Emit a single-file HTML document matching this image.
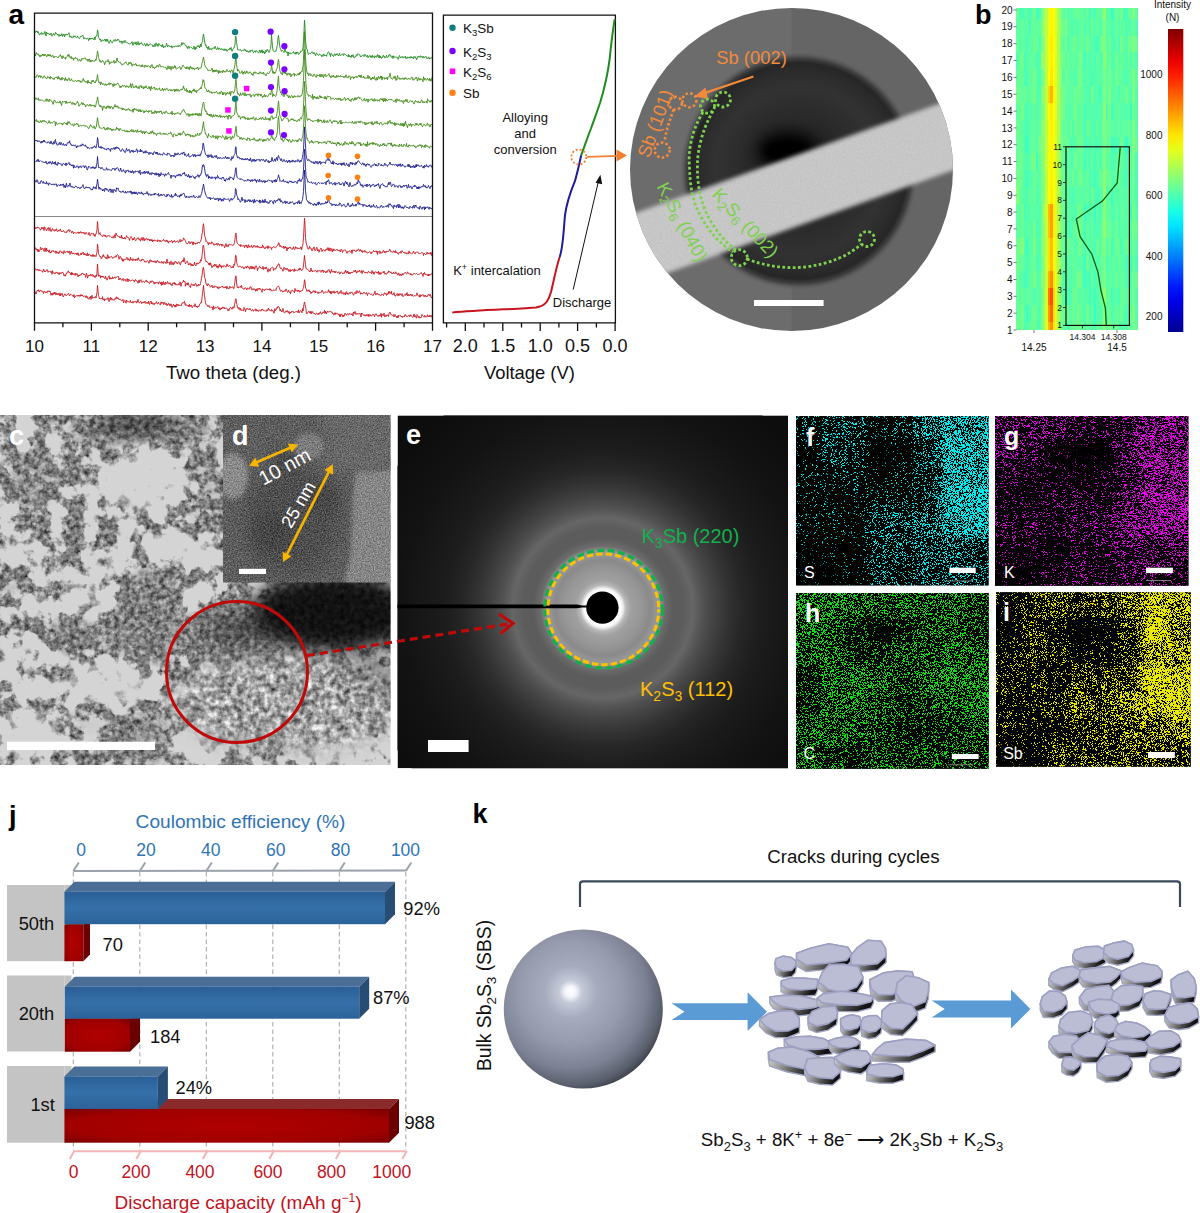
<!DOCTYPE html>
<html><head><meta charset="utf-8"><style>
html,body{margin:0;padding:0;background:#fff;}
body{width:1200px;height:1213px;overflow:hidden;}
svg{display:block;font-family:"Liberation Sans", sans-serif;}
</style></head><body>
<svg width="1200" height="1213" viewBox="0 0 1200 1213">
<defs><clipPath id="cc"><circle cx="791.5" cy="169.5" r="161.5"/></clipPath>
<radialGradient id="darkdisk" cx="799" cy="171" r="120" gradientUnits="userSpaceOnUse"><stop offset="0" stop-color="#141414"/><stop offset="0.4" stop-color="#282828"/><stop offset="0.7" stop-color="#323232"/><stop offset="0.82" stop-color="#2c2c2c"/><stop offset="0.9" stop-color="#262626"/><stop offset="0.94" stop-color="#404040"/><stop offset="1" stop-color="#6a6a6a" stop-opacity="0"/></radialGradient>
<filter id="blur3" x="-50%" y="-50%" width="200%" height="200%" color-interpolation-filters="sRGB"><feGaussianBlur stdDeviation="3"/></filter>
<filter id="blur8" x="-50%" y="-50%" width="200%" height="200%" color-interpolation-filters="sRGB"><feGaussianBlur stdDeviation="8"/></filter>
<filter id="blur2" x="-50%" y="-50%" width="200%" height="200%" color-interpolation-filters="sRGB"><feGaussianBlur stdDeviation="2"/></filter>
<filter id="grain" x="0" y="0" width="100%" height="100%" color-interpolation-filters="sRGB"><feTurbulence type="fractalNoise" baseFrequency="0.9" numOctaves="1" seed="3"/><feColorMatrix type="matrix" values="0 0 0 0 0.5  0 0 0 0 0.5  0 0 0 0 0.5  0.9 0 0 0 -0.35"/><feComposite in2="SourceGraphic" operator="in"/></filter>
<linearGradient id="jetg" x1="0" y1="1" x2="0" y2="0"><stop offset="0.000" stop-color="#00008f"/><stop offset="0.050" stop-color="#0000bc"/><stop offset="0.100" stop-color="#0000e9"/><stop offset="0.150" stop-color="#0019ff"/><stop offset="0.200" stop-color="#004dff"/><stop offset="0.250" stop-color="#0080ff"/><stop offset="0.300" stop-color="#00b2ff"/><stop offset="0.350" stop-color="#00e5ff"/><stop offset="0.400" stop-color="#1affe5"/><stop offset="0.450" stop-color="#4dffb2"/><stop offset="0.500" stop-color="#80ff80"/><stop offset="0.550" stop-color="#b3ff4c"/><stop offset="0.600" stop-color="#e5ff1a"/><stop offset="0.650" stop-color="#ffe500"/><stop offset="0.700" stop-color="#ffb300"/><stop offset="0.750" stop-color="#ff8000"/><stop offset="0.800" stop-color="#ff4c00"/><stop offset="0.850" stop-color="#ff1a00"/><stop offset="0.900" stop-color="#e50000"/><stop offset="0.950" stop-color="#b30000"/><stop offset="1.000" stop-color="#800000"/></linearGradient>
<clipPath id="clipC"><rect x="0" y="415" width="390.5" height="350"/></clipPath>
<clipPath id="clipD"><rect x="223" y="415" width="167.5" height="167.5"/></clipPath>
<clipPath id="clipE"><rect x="397.5" y="415.4" width="390.5" height="352.9"/></clipPath>
<filter id="texC" x="0" y="0" width="100%" height="100%" color-interpolation-filters="sRGB"><feGaussianBlur in="SourceGraphic" stdDeviation="7" result="b"/><feTurbulence type="fractalNoise" baseFrequency="0.055" numOctaves="5" seed="3" result="n1"/><feColorMatrix in="n1" type="matrix" values="1 0 0 0 0  1 0 0 0 0  1 0 0 0 0  0 0 0 0 1" result="n1g"/><feComponentTransfer in="n1g" result="m"><feFuncR type="linear" slope="3.5" intercept="-1.25"/><feFuncG type="linear" slope="3.5" intercept="-1.25"/><feFuncB type="linear" slope="3.5" intercept="-1.25"/></feComponentTransfer><feComposite in="b" in2="m" operator="arithmetic" k1="0" k2="1" k3="0.42" k4="-0.21" result="t"/><feTurbulence type="fractalNoise" baseFrequency="0.6" numOctaves="2" seed="8" result="n2"/><feColorMatrix in="n2" type="matrix" values="1 0 0 0 0  1 0 0 0 0  1 0 0 0 0  0 0 0 0 1" result="g"/><feComposite in="t" in2="g" operator="arithmetic" k1="0" k2="1" k3="0.3" k4="-0.15"/></filter>
<filter id="texD" x="0" y="0" width="100%" height="100%" color-interpolation-filters="sRGB"><feGaussianBlur in="SourceGraphic" stdDeviation="0.5" edgeMode="duplicate" result="b"/><feTurbulence type="fractalNoise" baseFrequency="0.75" numOctaves="2" seed="9" result="n"/><feColorMatrix in="n" type="matrix" values="1 0 0 0 0  1 0 0 0 0  1 0 0 0 0  0 0 0 0 1" result="ng"/><feComposite in="b" in2="ng" operator="arithmetic" k1="0" k2="1" k3="0.5" k4="-0.25"/></filter>
<filter id="texC3" x="0" y="0" width="100%" height="100%" color-interpolation-filters="sRGB"><feGaussianBlur in="SourceGraphic" stdDeviation="3" result="d"/><feTurbulence type="fractalNoise" baseFrequency="0.06" numOctaves="4" seed="3" result="n1"/><feColorMatrix in="n1" type="matrix" values="1 0 0 0 0  1 0 0 0 0  1 0 0 0 0  0 0 0 0 1" result="n1g"/><feComponentTransfer in="n1g" result="u"><feFuncR type="table" tableValues="0.1923 0.1924 0.1927 0.1941 0.1985 0.2109 0.2401 0.2980 0.3946 0.5308 0.6923 0.8538 0.9900 1.0000 1.0000 1.0000 1.0000 1.0000 1.0000 1.0000 1.0000"/><feFuncG type="table" tableValues="0.1923 0.1924 0.1927 0.1941 0.1985 0.2109 0.2401 0.2980 0.3946 0.5308 0.6923 0.8538 0.9900 1.0000 1.0000 1.0000 1.0000 1.0000 1.0000 1.0000 1.0000"/><feFuncB type="table" tableValues="0.1923 0.1924 0.1927 0.1941 0.1985 0.2109 0.2401 0.2980 0.3946 0.5308 0.6923 0.8538 0.9900 1.0000 1.0000 1.0000 1.0000 1.0000 1.0000 1.0000 1.0000"/></feComponentTransfer><feComposite in="d" in2="u" operator="arithmetic" k1="0" k2="2.6" k3="-2.6" k4="1" result="m"/><feColorMatrix in="m" type="matrix" values="-0.35 0 0 0 0.83  -0.35 0 0 0 0.83  -0.35 0 0 0 0.83  0 0 0 0 1" result="t"/><feTurbulence type="fractalNoise" baseFrequency="0.2" numOctaves="3" seed="8" result="n2"/><feColorMatrix in="n2" type="matrix" values="0.85 0 0 0 0.07500000000000001  0.85 0 0 0 0.07500000000000001  0.85 0 0 0 0.07500000000000001  0 0 0 0 1" result="g"/><feComposite in="m" in2="g" operator="arithmetic" k1="1" k2="-0.5" k3="0" k4="0.5" result="r"/><feComposite in="t" in2="r" operator="arithmetic" k1="0" k2="1" k3="1" k4="-0.5"/></filter>
<filter id="sb6" x="-30%" y="-30%" width="160%" height="160%" color-interpolation-filters="sRGB"><feGaussianBlur stdDeviation="6"/></filter>
<filter id="sb10" x="-30%" y="-30%" width="160%" height="160%" color-interpolation-filters="sRGB"><feGaussianBlur stdDeviation="10"/></filter>
<filter id="mottle" x="0" y="0" width="100%" height="100%" color-interpolation-filters="sRGB"><feTurbulence type="fractalNoise" baseFrequency="0.16" numOctaves="3" seed="17"/><feColorMatrix type="matrix" values="1.3 0 0 0 -0.03  1.3 0 0 0 -0.03  1.3 0 0 0 -0.03  0 0 0 0 1"/></filter>
<mask id="mottleMask" maskUnits="userSpaceOnUse" x="0" y="415" width="391" height="350"><ellipse cx="290" cy="702" rx="112" ry="46" fill="#fff" filter="url(#sb10)"/></mask>
<filter id="sb2" x="-30%" y="-30%" width="160%" height="160%" color-interpolation-filters="sRGB"><feGaussianBlur stdDeviation="2"/></filter>
<radialGradient id="halo" cx="603" cy="608" r="250" gradientUnits="userSpaceOnUse"><stop offset="0.0000" stop-color="#ffffff"/><stop offset="0.0680" stop-color="#ffffff"/><stop offset="0.0780" stop-color="#f4f4f4"/><stop offset="0.0920" stop-color="#b8b8b8"/><stop offset="0.1120" stop-color="#a0a0a0"/><stop offset="0.1600" stop-color="#959595"/><stop offset="0.1920" stop-color="#8a8a8a"/><stop offset="0.2120" stop-color="#959595"/><stop offset="0.2280" stop-color="#989898"/><stop offset="0.2480" stop-color="#6c6c6c"/><stop offset="0.2800" stop-color="#5c5c5c"/><stop offset="0.3200" stop-color="#5c5c5c"/><stop offset="0.3600" stop-color="#666666"/><stop offset="0.4000" stop-color="#525252"/><stop offset="0.4400" stop-color="#444444"/><stop offset="0.5000" stop-color="#333333"/><stop offset="0.5600" stop-color="#262626"/><stop offset="0.6400" stop-color="#1c1c1c"/><stop offset="0.8000" stop-color="#131313"/><stop offset="1.0000" stop-color="#0d0d0d"/></radialGradient>
<filter id="spclipF" x="0" y="0" width="100%" height="100%" color-interpolation-filters="sRGB"><feGaussianBlur in="SourceGraphic" stdDeviation="4.5" edgeMode="duplicate" result="d"/><feTurbulence type="fractalNoise" baseFrequency="1.9" numOctaves="2" seed="1" result="n"/><feColorMatrix in="n" type="matrix" values="1 0 0 0 0  1 0 0 0 0  1 0 0 0 0  0 0 0 0 1" result="ng"/><feComponentTransfer in="ng" result="u"><feFuncR type="table" tableValues="0.0357 0.0357 0.0359 0.0364 0.0389 0.0472 0.0702 0.1221 0.2174 0.3604 0.5357 0.7110 0.8541 0.9494 1.0012 1.0242 1.0325 1.0350 1.0356 1.0357 1.0357"/><feFuncG type="table" tableValues="0.0357 0.0357 0.0359 0.0364 0.0389 0.0472 0.0702 0.1221 0.2174 0.3604 0.5357 0.7110 0.8541 0.9494 1.0012 1.0242 1.0325 1.0350 1.0356 1.0357 1.0357"/><feFuncB type="table" tableValues="0.0357 0.0357 0.0359 0.0364 0.0389 0.0472 0.0702 0.1221 0.2174 0.3604 0.5357 0.7110 0.8541 0.9494 1.0012 1.0242 1.0325 1.0350 1.0356 1.0357 1.0357"/></feComponentTransfer><feComposite in="d" in2="u" operator="arithmetic" k1="0" k2="14" k3="-14" k4="1" result="m"/><feColorMatrix in="m" type="matrix" values="0.000 0 0 0 0  0 0.922 0 0 0  0 0 0.922 0 0  0 0 0 0 1"/></filter>
<clipPath id="clipF"><rect x="796.0" y="416.0" width="192.6" height="169.4"/></clipPath>
<filter id="spclipG" x="0" y="0" width="100%" height="100%" color-interpolation-filters="sRGB"><feGaussianBlur in="SourceGraphic" stdDeviation="4.5" edgeMode="duplicate" result="d"/><feTurbulence type="fractalNoise" baseFrequency="1.9" numOctaves="2" seed="2" result="n"/><feColorMatrix in="n" type="matrix" values="1 0 0 0 0  1 0 0 0 0  1 0 0 0 0  0 0 0 0 1" result="ng"/><feComponentTransfer in="ng" result="u"><feFuncR type="table" tableValues="0.0357 0.0357 0.0359 0.0364 0.0389 0.0472 0.0702 0.1221 0.2174 0.3604 0.5357 0.7110 0.8541 0.9494 1.0012 1.0242 1.0325 1.0350 1.0356 1.0357 1.0357"/><feFuncG type="table" tableValues="0.0357 0.0357 0.0359 0.0364 0.0389 0.0472 0.0702 0.1221 0.2174 0.3604 0.5357 0.7110 0.8541 0.9494 1.0012 1.0242 1.0325 1.0350 1.0356 1.0357 1.0357"/><feFuncB type="table" tableValues="0.0357 0.0357 0.0359 0.0364 0.0389 0.0472 0.0702 0.1221 0.2174 0.3604 0.5357 0.7110 0.8541 0.9494 1.0012 1.0242 1.0325 1.0350 1.0356 1.0357 1.0357"/></feComponentTransfer><feComposite in="d" in2="u" operator="arithmetic" k1="0" k2="14" k3="-14" k4="1" result="m"/><feColorMatrix in="m" type="matrix" values="0.922 0 0 0 0  0 0.000 0 0 0  0 0 0.922 0 0  0 0 0 0 1"/></filter>
<clipPath id="clipG"><rect x="995.0" y="416.0" width="193.5" height="169.8"/></clipPath>
<filter id="spclipH" x="0" y="0" width="100%" height="100%" color-interpolation-filters="sRGB"><feGaussianBlur in="SourceGraphic" stdDeviation="4.5" edgeMode="duplicate" result="d"/><feTurbulence type="fractalNoise" baseFrequency="1.9" numOctaves="2" seed="3" result="n"/><feColorMatrix in="n" type="matrix" values="1 0 0 0 0  1 0 0 0 0  1 0 0 0 0  0 0 0 0 1" result="ng"/><feComponentTransfer in="ng" result="u"><feFuncR type="table" tableValues="0.0357 0.0357 0.0359 0.0364 0.0389 0.0472 0.0702 0.1221 0.2174 0.3604 0.5357 0.7110 0.8541 0.9494 1.0012 1.0242 1.0325 1.0350 1.0356 1.0357 1.0357"/><feFuncG type="table" tableValues="0.0357 0.0357 0.0359 0.0364 0.0389 0.0472 0.0702 0.1221 0.2174 0.3604 0.5357 0.7110 0.8541 0.9494 1.0012 1.0242 1.0325 1.0350 1.0356 1.0357 1.0357"/><feFuncB type="table" tableValues="0.0357 0.0357 0.0359 0.0364 0.0389 0.0472 0.0702 0.1221 0.2174 0.3604 0.5357 0.7110 0.8541 0.9494 1.0012 1.0242 1.0325 1.0350 1.0356 1.0357 1.0357"/></feComponentTransfer><feComposite in="d" in2="u" operator="arithmetic" k1="0" k2="14" k3="-14" k4="1" result="m"/><feColorMatrix in="m" type="matrix" values="0.078 0 0 0 0  0 0.863 0 0 0  0 0 0.078 0 0  0 0 0 0 1"/></filter>
<clipPath id="clipH"><rect x="796.0" y="593.0" width="192.7" height="175.7"/></clipPath>
<filter id="spclipI" x="0" y="0" width="100%" height="100%" color-interpolation-filters="sRGB"><feGaussianBlur in="SourceGraphic" stdDeviation="4.5" edgeMode="duplicate" result="d"/><feTurbulence type="fractalNoise" baseFrequency="1.9" numOctaves="2" seed="4" result="n"/><feColorMatrix in="n" type="matrix" values="1 0 0 0 0  1 0 0 0 0  1 0 0 0 0  0 0 0 0 1" result="ng"/><feComponentTransfer in="ng" result="u"><feFuncR type="table" tableValues="0.0357 0.0357 0.0359 0.0364 0.0389 0.0472 0.0702 0.1221 0.2174 0.3604 0.5357 0.7110 0.8541 0.9494 1.0012 1.0242 1.0325 1.0350 1.0356 1.0357 1.0357"/><feFuncG type="table" tableValues="0.0357 0.0357 0.0359 0.0364 0.0389 0.0472 0.0702 0.1221 0.2174 0.3604 0.5357 0.7110 0.8541 0.9494 1.0012 1.0242 1.0325 1.0350 1.0356 1.0357 1.0357"/><feFuncB type="table" tableValues="0.0357 0.0357 0.0359 0.0364 0.0389 0.0472 0.0702 0.1221 0.2174 0.3604 0.5357 0.7110 0.8541 0.9494 1.0012 1.0242 1.0325 1.0350 1.0356 1.0357 1.0357"/></feComponentTransfer><feComposite in="d" in2="u" operator="arithmetic" k1="0" k2="14" k3="-14" k4="1" result="m"/><feColorMatrix in="m" type="matrix" values="0.922 0 0 0 0  0 0.922 0 0 0  0 0 0.000 0 0  0 0 0 0 1"/></filter>
<clipPath id="clipI"><rect x="996.0" y="592.2" width="194.7" height="174.5"/></clipPath>
<linearGradient id="bfront" x1="0" y1="0" x2="0" y2="1"><stop offset="0" stop-color="#2a5f96"/><stop offset="0.5" stop-color="#3670a9"/><stop offset="1" stop-color="#2c6299"/></linearGradient>
<radialGradient id="rfront" cx="0.5" cy="0.5" r="0.7"><stop offset="0" stop-color="#b00000"/><stop offset="0.7" stop-color="#a00000"/><stop offset="1" stop-color="#7a0000"/></radialGradient>
<radialGradient id="sph" cx="0.42" cy="0.40" r="0.66" fx="0.42" fy="0.39"><stop offset="0" stop-color="#ffffff"/><stop offset="0.05" stop-color="#f4f6fa"/><stop offset="0.11" stop-color="#c4c9d8"/><stop offset="0.25" stop-color="#a6acbe"/><stop offset="0.5" stop-color="#959bad"/><stop offset="0.72" stop-color="#7c8294"/><stop offset="0.88" stop-color="#5a5f6d"/><stop offset="1" stop-color="#2e3139"/></radialGradient>
<linearGradient id="fside" x1="0" y1="0" x2="1" y2="0.3"><stop offset="0" stop-color="#e0e0e0"/><stop offset="0.35" stop-color="#a0a0a0"/><stop offset="0.7" stop-color="#4a4a4a"/><stop offset="1" stop-color="#111"/></linearGradient></defs>
<rect width="1200" height="1213" fill="#fff"/>
<g>
<path d="M34.5,32.8 35.0,33.1 35.5,32.6 36.0,30.8 36.5,32.0 37.0,31.3 37.5,32.7 38.0,31.4 38.5,33.4 39.0,33.4 39.5,35.1 40.0,33.9 40.5,33.9 41.0,32.8 41.5,32.4 42.0,34.6 42.5,33.6 43.0,33.9 43.5,33.7 44.0,34.3 44.5,31.8 45.0,31.4 45.5,33.9 46.0,36.1 46.5,32.0 47.0,32.8 47.5,33.9 48.0,33.4 48.5,33.6 49.0,33.5 49.5,35.0 50.0,34.3 50.5,34.4 51.0,33.0 51.5,34.8 52.0,36.3 52.5,35.4 53.0,34.3 53.5,33.2 54.0,34.9 54.5,35.2 55.0,34.5 55.5,32.3 56.0,33.6 56.5,33.5 57.0,33.8 57.5,35.1 58.0,34.0 58.5,34.7 59.0,36.5 59.5,34.6 60.0,35.1 60.5,36.0 61.0,34.8 61.5,33.7 62.0,35.5 62.5,36.4 63.0,33.9 63.5,35.0 64.0,35.0 64.5,36.9 65.0,34.2 65.5,35.2 66.0,34.0 66.5,34.3 67.0,35.2 67.5,34.7 68.0,34.4 68.5,33.5 69.0,32.7 69.5,35.8 70.0,37.3 70.5,36.2 71.0,35.8 71.5,37.7 72.0,37.2 72.5,37.0 73.0,37.7 73.5,36.0 74.0,35.8 74.5,36.8 75.0,35.8 75.5,36.9 76.0,37.3 76.5,37.8 77.0,37.8 77.5,35.9 78.0,36.9 78.5,37.6 79.0,38.5 79.5,38.6 80.0,37.3 80.5,37.1 81.0,36.0 81.5,36.4 82.0,35.9 82.5,35.0 83.0,35.9 83.5,37.8 84.0,39.1 84.5,38.2 85.0,37.8 85.5,38.3 86.0,39.0 86.5,38.9 87.0,38.8 87.5,38.2 88.0,38.1 88.5,40.7 89.0,40.0 89.5,37.9 90.0,39.4 90.5,38.0 91.0,38.9 91.5,38.3 92.0,39.0 92.5,38.3 93.0,38.5 93.5,39.4 94.0,39.6 94.5,37.1 95.0,39.8 95.5,36.5 96.0,36.3 96.5,36.4 97.0,35.0 97.5,29.9 98.0,32.0 98.5,37.5 99.0,38.3 99.5,38.8 100.0,40.1 100.5,38.9 101.0,41.8 101.5,41.4 102.0,40.1 102.5,40.0 103.0,40.2 103.5,40.9 104.0,40.7 104.5,39.5 105.0,39.1 105.5,41.3 106.0,39.1 106.5,39.4 107.0,41.6 107.5,39.2 108.0,41.0 108.5,41.8 109.0,43.4 109.5,42.5 110.0,41.3 110.5,39.8 111.0,42.1 111.5,42.4 112.0,42.8 112.5,42.8 113.0,41.2 113.5,40.6 114.0,39.6 114.5,40.9 115.0,41.4 115.5,39.6 116.0,39.9 116.5,40.3 117.0,40.9 117.5,39.0 118.0,39.7 118.5,39.5 119.0,39.8 119.5,41.9 120.0,42.5 120.5,41.3 121.0,41.4 121.5,41.1 122.0,43.7 122.5,41.6 123.0,41.6 123.5,41.2 124.0,42.7 124.5,41.8 125.0,40.3 125.5,42.3 126.0,42.5 126.5,42.3 127.0,42.5 127.5,42.8 128.0,43.0 128.5,43.9 129.0,43.6 129.5,43.9 130.0,43.7 130.5,43.5 131.0,42.9 131.5,43.0 132.0,41.7 132.5,44.0 133.0,45.4 133.5,43.4 134.0,42.2 134.5,43.4 135.0,43.0 135.5,44.2 136.0,41.8 136.5,44.8 137.0,45.1 137.5,44.2 138.0,41.5 138.5,42.9 139.0,45.1 139.5,44.1 140.0,42.8 140.5,43.8 141.0,43.8 141.5,42.6 142.0,43.6 142.5,44.9 143.0,45.1 143.5,45.3 144.0,44.6 144.5,43.5 145.0,44.0 145.5,46.2 146.0,45.2 146.5,45.2 147.0,43.4 147.5,45.4 148.0,44.8 148.5,46.1 149.0,44.3 149.5,44.4 150.0,44.3 150.5,43.9 151.0,44.2 151.5,44.8 152.0,44.7 152.5,45.1 153.0,46.9 153.5,45.8 154.0,45.6 154.5,44.3 155.0,46.8 155.5,44.5 156.0,42.8 156.5,44.9 157.0,45.5 157.5,44.3 158.0,46.5 158.5,43.7 159.0,43.5 159.5,44.9 160.0,44.9 160.5,45.1 161.0,46.0 161.5,45.4 162.0,47.0 162.5,44.2 163.0,46.0 163.5,47.9 164.0,46.2 164.5,46.6 165.0,47.3 165.5,46.2 166.0,45.6 166.5,43.2 167.0,44.8 167.5,46.9 168.0,46.2 168.5,45.2 169.0,46.3 169.5,46.3 170.0,46.7 170.5,46.2 171.0,46.9 171.5,45.7 172.0,48.2 172.5,47.3 173.0,46.2 173.5,47.1 174.0,46.6 174.5,46.8 175.0,46.0 175.5,46.1 176.0,46.0 176.5,46.1 177.0,46.9 177.5,45.9 178.0,45.8 178.5,46.6 179.0,45.3 179.5,46.1 180.0,46.4 180.5,46.4 181.0,45.8 181.5,42.7 182.0,44.8 182.5,44.6 183.0,42.6 183.5,43.7 184.0,43.5 184.5,43.5 185.0,44.7 185.5,45.8 186.0,45.6 186.5,45.8 187.0,47.3 187.5,48.5 188.0,46.5 188.5,46.2 189.0,48.5 189.5,46.9 190.0,46.8 190.5,46.9 191.0,47.4 191.5,47.5 192.0,47.9 192.5,48.8 193.0,48.4 193.5,48.6 194.0,46.1 194.5,47.8 195.0,50.0 195.5,47.2 196.0,48.9 196.5,46.8 197.0,46.8 197.5,46.6 198.0,45.3 198.5,46.6 199.0,45.9 199.5,47.8 200.0,45.5 200.5,44.0 201.0,47.0 201.5,44.1 202.0,42.4 202.5,41.8 203.0,36.2 203.5,34.0 204.0,37.4 204.5,41.0 205.0,43.1 205.5,45.5 206.0,44.8 206.5,47.7 207.0,47.2 207.5,47.3 208.0,49.5 208.5,46.4 209.0,47.3 209.5,49.7 210.0,49.1 210.5,49.2 211.0,48.4 211.5,49.6 212.0,49.5 212.5,48.1 213.0,47.6 213.5,47.9 214.0,48.7 214.5,48.3 215.0,46.1 215.5,47.7 216.0,48.9 216.5,49.8 217.0,49.2 217.5,47.5 218.0,48.3 218.5,49.6 219.0,47.8 219.5,48.7 220.0,48.4 220.5,49.4 221.0,49.5 221.5,48.6 222.0,50.0 222.5,49.5 223.0,48.8 223.5,49.9 224.0,50.8 224.5,49.1 225.0,48.7 225.5,50.4 226.0,49.1 226.5,50.1 227.0,51.3 227.5,49.9 228.0,50.0 228.5,49.5 229.0,50.1 229.5,48.6 230.0,48.0 230.5,49.3 231.0,47.3 231.5,50.6 232.0,51.3 232.5,49.9 233.0,48.7 233.5,48.3 234.0,48.2 234.5,46.3 235.0,44.3 235.5,36.0 236.0,36.6 236.5,42.5 237.0,45.1 237.5,49.1 238.0,50.2 238.5,49.8 239.0,49.7 239.5,50.1 240.0,50.1 240.5,49.5 241.0,50.8 241.5,51.0 242.0,50.8 242.5,50.3 243.0,50.0 243.5,50.1 244.0,50.7 244.5,49.1 245.0,49.1 245.5,50.7 246.0,50.0 246.5,51.8 247.0,50.9 247.5,50.9 248.0,52.1 248.5,52.3 249.0,51.2 249.5,50.9 250.0,52.4 250.5,50.3 251.0,49.9 251.5,50.7 252.0,49.8 252.5,50.2 253.0,51.8 253.5,52.6 254.0,51.5 254.5,51.5 255.0,50.6 255.5,52.4 256.0,51.7 256.5,50.6 257.0,51.3 257.5,51.7 258.0,52.2 258.5,53.2 259.0,52.4 259.5,50.0 260.0,51.1 260.5,52.7 261.0,50.6 261.5,52.2 262.0,49.8 262.5,53.1 263.0,51.1 263.5,52.4 264.0,51.4 264.5,53.9 265.0,52.1 265.5,52.6 266.0,50.1 266.5,51.5 267.0,50.4 267.5,49.2 268.0,51.0 268.5,51.0 269.0,52.6 269.5,51.7 270.0,49.8 270.5,48.6 271.0,44.3 271.5,34.5 272.0,40.6 272.5,46.9 273.0,50.1 273.5,51.1 274.0,51.8 274.5,51.6 275.0,51.6 275.5,51.3 276.0,51.4 276.5,48.7 277.0,46.6 277.5,44.4 278.0,37.9 278.5,35.4 279.0,39.7 279.5,44.0 280.0,47.5 280.5,48.8 281.0,50.1 281.5,51.5 282.0,50.2 282.5,50.5 283.0,51.2 283.5,51.5 284.0,52.5 284.5,50.9 285.0,48.3 285.5,51.3 286.0,51.3 286.5,52.9 287.0,52.4 287.5,52.0 288.0,56.0 288.5,52.1 289.0,53.4 289.5,53.3 290.0,52.7 290.5,53.8 291.0,53.9 291.5,53.3 292.0,53.5 292.5,52.9 293.0,51.9 293.5,51.6 294.0,53.3 294.5,52.9 295.0,54.1 295.5,52.6 296.0,54.3 296.5,52.1 297.0,53.3 297.5,51.9 298.0,52.5 298.5,54.6 299.0,53.7 299.5,53.3 300.0,52.5 300.5,52.4 301.0,50.8 301.5,51.4 302.0,50.6 302.5,50.6 303.0,47.3 303.5,41.3 304.0,31.1 304.5,20.2 305.0,27.1 305.5,40.8 306.0,44.9 306.5,48.5 307.0,48.7 307.5,51.0 308.0,53.5 308.5,54.5 309.0,53.5 309.5,53.4 310.0,53.7 310.5,53.6 311.0,53.3 311.5,52.1 312.0,51.6 312.5,52.3 313.0,53.4 313.5,54.0 314.0,52.4 314.5,53.5 315.0,54.0 315.5,55.8 316.0,54.3 316.5,52.8 317.0,54.3 317.5,54.3 318.0,55.1 318.5,55.4 319.0,54.8 319.5,54.0 320.0,54.2 320.5,54.8 321.0,55.4 321.5,56.5 322.0,54.8 322.5,55.7 323.0,56.6 323.5,54.1 324.0,54.1 324.5,55.8 325.0,55.3 325.5,55.5 326.0,54.9 326.5,56.3 327.0,54.4 327.5,53.6 328.0,52.2 328.5,51.9 329.0,52.3 329.5,54.2 330.0,54.0 330.5,56.7 331.0,53.3 331.5,53.8 332.0,54.2 332.5,55.7 333.0,55.3 333.5,56.5 334.0,55.6 334.5,53.8 335.0,54.0 335.5,55.5 336.0,54.5 336.5,55.0 337.0,53.5 337.5,54.6 338.0,55.0 338.5,56.0 339.0,54.4 339.5,53.2 340.0,55.4 340.5,55.5 341.0,55.5 341.5,54.6 342.0,53.9 342.5,53.9 343.0,54.9 343.5,55.6 344.0,53.6 344.5,54.2 345.0,54.0 345.5,54.7 346.0,55.3 346.5,55.6 347.0,55.3 347.5,56.1 348.0,56.8 348.5,54.4 349.0,57.0 349.5,55.5 350.0,56.7 350.5,56.5 351.0,57.6 351.5,54.9 352.0,56.8 352.5,55.8 353.0,54.6 353.5,57.5 354.0,57.7 354.5,57.8 355.0,56.4 355.5,56.4 356.0,56.6 356.5,54.7 357.0,55.6 357.5,53.9 358.0,53.7 358.5,54.2 359.0,54.3 359.5,54.5 360.0,55.8 360.5,56.9 361.0,55.7 361.5,56.5 362.0,56.0 362.5,55.5 363.0,54.8 363.5,55.6 364.0,56.6 364.5,54.5 365.0,54.6 365.5,54.7 366.0,56.0 366.5,56.9 367.0,56.1 367.5,55.0 368.0,57.7 368.5,56.7 369.0,56.5 369.5,55.7 370.0,55.3 370.5,57.3 371.0,55.8 371.5,56.0 372.0,57.8 372.5,55.3 373.0,56.7 373.5,56.6 374.0,56.8 374.5,58.1 375.0,55.7 375.5,56.7 376.0,56.9 376.5,57.3 377.0,55.3 377.5,54.5 378.0,56.9 378.5,57.4 379.0,55.0 379.5,57.9 380.0,55.9 380.5,58.0 381.0,56.9 381.5,58.5 382.0,58.1 382.5,57.5 383.0,55.6 383.5,55.1 384.0,57.1 384.5,56.3 385.0,58.1 385.5,57.2 386.0,56.7 386.5,55.3 387.0,57.6 387.5,57.2 388.0,57.4 388.5,56.9 389.0,54.7 389.5,54.6 390.0,55.5 390.5,54.8 391.0,57.0 391.5,57.4 392.0,56.8 392.5,55.9 393.0,58.6 393.5,55.8 394.0,56.9 394.5,57.3 395.0,56.7 395.5,57.3 396.0,57.6 396.5,57.3 397.0,57.5 397.5,57.4 398.0,59.4 398.5,58.7 399.0,56.5 399.5,55.5 400.0,56.8 400.5,58.0 401.0,57.1 401.5,57.2 402.0,56.8 402.5,56.3 403.0,58.0 403.5,57.0 404.0,56.8 404.5,56.8 405.0,57.6 405.5,56.3 406.0,58.6 406.5,57.7 407.0,58.4 407.5,57.1 408.0,57.0 408.5,58.1 409.0,57.0 409.5,57.1 410.0,58.3 410.5,56.6 411.0,57.7 411.5,56.7 412.0,58.0 412.5,57.8 413.0,58.0 413.5,58.9 414.0,56.4 414.5,57.4 415.0,56.5 415.5,58.0 416.0,57.6 416.5,59.9 417.0,58.8 417.5,56.7 418.0,57.2 418.5,56.1 419.0,57.3 419.5,56.9 420.0,56.2 420.5,55.8 421.0,57.4 421.5,56.8 422.0,56.1 422.5,57.7 423.0,57.3 423.5,56.4 424.0,58.2 424.5,57.7 425.0,56.8 425.5,56.0 426.0,56.5 426.5,57.9 427.0,58.7 427.5,57.9 428.0,58.5 428.5,57.0 429.0,57.1 429.5,59.1 430.0,58.1 430.5,58.1 431.0,58.5 431.5,57.7 432.0,57.7 432.5,58.8" fill="none" stroke="#1f8b1f" stroke-width="0.90" stroke-linejoin="round"/>
<path d="M34.5,53.0 35.0,53.3 35.5,55.9 36.0,53.6 36.5,52.4 37.0,54.0 37.5,54.2 38.0,54.8 38.5,53.9 39.0,55.7 39.5,55.1 40.0,57.1 40.5,55.4 41.0,54.9 41.5,56.1 42.0,55.7 42.5,54.1 43.0,55.5 43.5,54.3 44.0,56.1 44.5,54.5 45.0,55.3 45.5,54.3 46.0,55.4 46.5,56.7 47.0,56.7 47.5,54.9 48.0,54.0 48.5,56.0 49.0,54.9 49.5,54.7 50.0,56.2 50.5,54.6 51.0,56.4 51.5,57.1 52.0,56.1 52.5,55.1 53.0,55.7 53.5,57.6 54.0,56.6 54.5,57.6 55.0,56.5 55.5,56.5 56.0,56.6 56.5,56.6 57.0,56.9 57.5,57.5 58.0,58.0 58.5,56.8 59.0,55.8 59.5,56.0 60.0,55.8 60.5,54.7 61.0,56.7 61.5,56.2 62.0,58.8 62.5,56.8 63.0,55.7 63.5,57.4 64.0,57.3 64.5,58.2 65.0,57.6 65.5,59.3 66.0,56.9 66.5,57.4 67.0,56.6 67.5,56.2 68.0,54.5 68.5,56.3 69.0,54.6 69.5,56.9 70.0,57.7 70.5,58.1 71.0,56.3 71.5,58.6 72.0,57.5 72.5,58.5 73.0,58.0 73.5,60.3 74.0,58.2 74.5,58.3 75.0,58.9 75.5,57.2 76.0,58.0 76.5,58.5 77.0,59.0 77.5,58.6 78.0,60.7 78.5,61.2 79.0,60.6 79.5,59.2 80.0,59.7 80.5,61.2 81.0,61.1 81.5,59.8 82.0,58.1 82.5,59.3 83.0,59.1 83.5,58.7 84.0,58.8 84.5,57.9 85.0,57.8 85.5,58.1 86.0,59.8 86.5,60.1 87.0,59.2 87.5,59.6 88.0,61.4 88.5,59.1 89.0,59.6 89.5,58.9 90.0,62.1 90.5,60.2 91.0,61.8 91.5,61.4 92.0,60.0 92.5,61.1 93.0,60.8 93.5,61.1 94.0,60.8 94.5,61.2 95.0,61.1 95.5,59.5 96.0,60.5 96.5,58.1 97.0,54.8 97.5,50.9 98.0,53.2 98.5,57.3 99.0,58.5 99.5,61.1 100.0,61.8 100.5,60.6 101.0,62.5 101.5,61.4 102.0,60.7 102.5,60.4 103.0,61.8 103.5,61.6 104.0,62.0 104.5,64.8 105.0,63.2 105.5,62.0 106.0,60.9 106.5,61.4 107.0,61.3 107.5,61.4 108.0,59.6 108.5,62.0 109.0,61.1 109.5,64.3 110.0,62.4 110.5,63.3 111.0,62.9 111.5,61.7 112.0,62.5 112.5,62.0 113.0,62.0 113.5,62.3 114.0,60.3 114.5,63.3 115.0,62.7 115.5,61.6 116.0,62.6 116.5,60.0 117.0,57.9 117.5,60.8 118.0,60.6 118.5,61.8 119.0,61.8 119.5,62.4 120.0,61.8 120.5,62.8 121.0,63.9 121.5,63.8 122.0,65.2 122.5,64.3 123.0,64.1 123.5,63.9 124.0,64.3 124.5,63.6 125.0,62.4 125.5,62.5 126.0,61.8 126.5,63.4 127.0,64.0 127.5,64.5 128.0,65.3 128.5,63.8 129.0,62.0 129.5,63.2 130.0,64.1 130.5,62.4 131.0,62.8 131.5,63.0 132.0,66.3 132.5,65.9 133.0,64.0 133.5,64.0 134.0,64.6 134.5,64.9 135.0,65.0 135.5,63.6 136.0,63.7 136.5,66.1 137.0,65.1 137.5,66.0 138.0,65.1 138.5,65.3 139.0,65.4 139.5,64.9 140.0,66.4 140.5,66.3 141.0,65.4 141.5,65.5 142.0,67.0 142.5,64.7 143.0,66.2 143.5,66.7 144.0,67.3 144.5,67.3 145.0,65.1 145.5,66.4 146.0,65.5 146.5,66.6 147.0,66.1 147.5,66.8 148.0,65.4 148.5,66.0 149.0,66.5 149.5,66.6 150.0,67.1 150.5,68.1 151.0,65.5 151.5,66.2 152.0,64.5 152.5,66.6 153.0,68.0 153.5,66.8 154.0,67.7 154.5,68.7 155.0,67.2 155.5,67.5 156.0,67.7 156.5,66.0 157.0,65.3 157.5,66.1 158.0,65.7 158.5,67.2 159.0,64.6 159.5,64.4 160.0,64.6 160.5,66.8 161.0,66.6 161.5,66.7 162.0,66.6 162.5,66.5 163.0,66.2 163.5,67.2 164.0,66.9 164.5,67.4 165.0,67.2 165.5,67.3 166.0,67.3 166.5,69.4 167.0,69.8 167.5,68.9 168.0,65.8 168.5,67.8 169.0,69.0 169.5,68.2 170.0,66.2 170.5,67.1 171.0,70.2 171.5,67.9 172.0,66.3 172.5,67.3 173.0,68.7 173.5,68.0 174.0,66.7 174.5,65.5 175.0,67.7 175.5,66.2 176.0,68.6 176.5,69.3 177.0,68.5 177.5,68.1 178.0,67.9 178.5,67.7 179.0,67.2 179.5,66.8 180.0,66.7 180.5,69.2 181.0,69.6 181.5,67.6 182.0,67.3 182.5,65.7 183.0,65.1 183.5,66.0 184.0,66.4 184.5,67.4 185.0,67.9 185.5,68.5 186.0,67.3 186.5,68.8 187.0,66.7 187.5,68.4 188.0,68.9 188.5,69.1 189.0,66.8 189.5,69.5 190.0,67.7 190.5,66.2 191.0,68.4 191.5,68.8 192.0,67.3 192.5,69.1 193.0,68.9 193.5,69.0 194.0,67.8 194.5,69.7 195.0,69.3 195.5,68.9 196.0,67.9 196.5,68.1 197.0,68.6 197.5,67.0 198.0,67.8 198.5,69.9 199.0,68.6 199.5,68.4 200.0,67.7 200.5,68.3 201.0,67.9 201.5,66.0 202.0,63.3 202.5,61.6 203.0,59.0 203.5,57.1 204.0,60.1 204.5,63.3 205.0,66.1 205.5,66.9 206.0,67.1 206.5,68.4 207.0,68.4 207.5,69.0 208.0,70.8 208.5,70.7 209.0,69.9 209.5,70.3 210.0,70.6 210.5,70.6 211.0,69.8 211.5,69.8 212.0,68.0 212.5,70.1 213.0,72.3 213.5,70.0 214.0,72.0 214.5,70.0 215.0,70.0 215.5,71.7 216.0,69.8 216.5,70.0 217.0,71.8 217.5,70.7 218.0,71.6 218.5,73.5 219.0,70.3 219.5,72.1 220.0,73.0 220.5,71.3 221.0,70.9 221.5,71.9 222.0,71.9 222.5,72.8 223.0,70.1 223.5,71.0 224.0,72.3 224.5,72.0 225.0,71.1 225.5,72.1 226.0,72.1 226.5,70.6 227.0,69.4 227.5,71.2 228.0,71.3 228.5,71.6 229.0,71.9 229.5,70.7 230.0,70.7 230.5,72.5 231.0,70.9 231.5,70.1 232.0,70.0 232.5,71.5 233.0,73.0 233.5,72.0 234.0,68.5 234.5,68.1 235.0,64.1 235.5,58.9 236.0,57.9 236.5,64.2 237.0,67.5 237.5,71.1 238.0,69.4 238.5,70.6 239.0,70.3 239.5,72.5 240.0,73.4 240.5,72.7 241.0,73.2 241.5,72.3 242.0,70.8 242.5,72.2 243.0,74.3 243.5,72.2 244.0,73.3 244.5,71.1 245.0,72.8 245.5,73.9 246.0,73.0 246.5,70.8 247.0,72.4 247.5,71.7 248.0,73.5 248.5,73.1 249.0,72.7 249.5,73.0 250.0,71.7 250.5,72.4 251.0,73.5 251.5,73.3 252.0,74.8 252.5,73.9 253.0,75.5 253.5,72.5 254.0,72.8 254.5,73.2 255.0,71.7 255.5,73.3 256.0,72.7 256.5,72.9 257.0,72.9 257.5,73.5 258.0,74.2 258.5,73.0 259.0,73.9 259.5,71.8 260.0,72.3 260.5,72.1 261.0,73.7 261.5,73.5 262.0,72.6 262.5,73.5 263.0,73.4 263.5,72.1 264.0,74.5 264.5,73.6 265.0,74.3 265.5,74.8 266.0,76.0 266.5,74.1 267.0,73.2 267.5,72.8 268.0,73.1 268.5,73.9 269.0,73.3 269.5,72.5 270.0,71.1 270.5,70.8 271.0,69.8 271.5,64.8 272.0,67.3 272.5,72.1 273.0,73.3 273.5,71.5 274.0,73.6 274.5,72.3 275.0,73.4 275.5,71.8 276.0,71.4 276.5,69.2 277.0,68.5 277.5,66.6 278.0,61.3 278.5,59.4 279.0,63.2 279.5,68.5 280.0,71.0 280.5,72.3 281.0,73.5 281.5,72.7 282.0,74.7 282.5,74.6 283.0,71.3 283.5,71.0 284.0,73.2 284.5,73.1 285.0,70.8 285.5,73.9 286.0,72.7 286.5,74.4 287.0,75.4 287.5,73.8 288.0,72.9 288.5,73.9 289.0,73.5 289.5,75.1 290.0,73.2 290.5,75.4 291.0,77.0 291.5,74.9 292.0,74.3 292.5,75.1 293.0,74.8 293.5,73.8 294.0,73.1 294.5,76.3 295.0,74.0 295.5,74.7 296.0,75.3 296.5,75.5 297.0,75.2 297.5,73.7 298.0,74.8 298.5,75.0 299.0,73.1 299.5,74.6 300.0,72.1 300.5,73.4 301.0,71.9 301.5,71.2 302.0,71.9 302.5,68.2 303.0,66.4 303.5,60.5 304.0,45.2 304.5,31.5 305.0,42.5 305.5,56.4 306.0,65.0 306.5,69.9 307.0,72.0 307.5,74.0 308.0,72.9 308.5,75.9 309.0,75.3 309.5,74.4 310.0,73.3 310.5,75.5 311.0,75.1 311.5,74.6 312.0,76.1 312.5,76.4 313.0,76.5 313.5,74.5 314.0,74.4 314.5,74.1 315.0,75.4 315.5,77.0 316.0,77.1 316.5,77.2 317.0,74.5 317.5,75.7 318.0,75.0 318.5,75.6 319.0,76.1 319.5,76.4 320.0,74.0 320.5,76.9 321.0,75.6 321.5,76.5 322.0,74.2 322.5,76.0 323.0,76.3 323.5,78.0 324.0,74.5 324.5,75.5 325.0,74.6 325.5,74.2 326.0,76.9 326.5,75.9 327.0,76.0 327.5,75.5 328.0,74.7 328.5,74.5 329.0,73.6 329.5,76.1 330.0,76.6 330.5,75.9 331.0,77.9 331.5,76.7 332.0,75.5 332.5,76.8 333.0,77.2 333.5,75.3 334.0,76.8 334.5,77.4 335.0,76.4 335.5,77.4 336.0,77.8 336.5,75.3 337.0,77.2 337.5,76.1 338.0,75.5 338.5,76.8 339.0,76.1 339.5,76.8 340.0,76.2 340.5,75.4 341.0,76.8 341.5,76.4 342.0,76.6 342.5,76.1 343.0,77.0 343.5,76.7 344.0,77.9 344.5,76.5 345.0,77.3 345.5,76.1 346.0,74.7 346.5,77.3 347.0,76.9 347.5,77.1 348.0,78.1 348.5,76.0 349.0,76.1 349.5,76.0 350.0,76.3 350.5,79.6 351.0,77.5 351.5,77.5 352.0,76.5 352.5,77.1 353.0,76.9 353.5,78.6 354.0,76.9 354.5,78.1 355.0,76.8 355.5,76.9 356.0,76.3 356.5,77.5 357.0,76.6 357.5,77.4 358.0,76.4 358.5,75.4 359.0,75.0 359.5,76.9 360.0,75.5 360.5,77.4 361.0,74.9 361.5,77.4 362.0,77.6 362.5,77.4 363.0,78.0 363.5,76.1 364.0,76.8 364.5,78.0 365.0,78.7 365.5,77.8 366.0,77.9 366.5,77.6 367.0,78.5 367.5,76.8 368.0,75.2 368.5,78.4 369.0,78.4 369.5,76.5 370.0,77.9 370.5,79.3 371.0,80.1 371.5,78.0 372.0,79.2 372.5,77.0 373.0,78.5 373.5,79.0 374.0,77.2 374.5,76.5 375.0,79.8 375.5,79.4 376.0,80.5 376.5,78.1 377.0,77.4 377.5,80.0 378.0,78.2 378.5,76.3 379.0,77.7 379.5,78.7 380.0,78.7 380.5,75.9 381.0,78.1 381.5,76.0 382.0,80.1 382.5,77.1 383.0,77.3 383.5,78.2 384.0,77.7 384.5,79.3 385.0,77.7 385.5,78.6 386.0,78.7 386.5,78.7 387.0,77.0 387.5,79.7 388.0,77.4 388.5,76.7 389.0,76.8 389.5,76.5 390.0,73.3 390.5,76.1 391.0,78.7 391.5,78.4 392.0,78.5 392.5,79.3 393.0,78.9 393.5,77.0 394.0,76.9 394.5,78.3 395.0,75.9 395.5,78.1 396.0,80.5 396.5,78.5 397.0,79.5 397.5,75.5 398.0,77.3 398.5,78.1 399.0,78.7 399.5,77.8 400.0,79.6 400.5,78.6 401.0,78.2 401.5,78.6 402.0,79.3 402.5,77.9 403.0,78.6 403.5,78.3 404.0,79.8 404.5,79.0 405.0,77.5 405.5,78.6 406.0,77.8 406.5,79.2 407.0,78.8 407.5,79.3 408.0,79.2 408.5,78.1 409.0,79.0 409.5,79.0 410.0,79.1 410.5,79.1 411.0,78.7 411.5,77.2 412.0,76.9 412.5,78.7 413.0,80.4 413.5,80.1 414.0,78.6 414.5,79.3 415.0,79.0 415.5,77.6 416.0,78.2 416.5,77.2 417.0,79.0 417.5,81.1 418.0,79.3 418.5,77.7 419.0,79.2 419.5,80.2 420.0,78.4 420.5,79.8 421.0,79.6 421.5,79.0 422.0,79.0 422.5,80.7 423.0,81.8 423.5,76.7 424.0,79.0 424.5,80.2 425.0,78.0 425.5,78.6 426.0,79.7 426.5,80.1 427.0,79.8 427.5,78.2 428.0,79.3 428.5,80.1 429.0,80.5 429.5,78.3 430.0,80.9 430.5,79.2 431.0,81.3 431.5,78.4 432.0,77.6 432.5,79.1" fill="none" stroke="#3f8a16" stroke-width="0.90" stroke-linejoin="round"/>
<path d="M34.5,76.6 35.0,77.1 35.5,76.9 36.0,77.5 36.5,75.5 37.0,75.4 37.5,75.1 38.0,75.2 38.5,77.4 39.0,76.9 39.5,75.7 40.0,75.6 40.5,77.6 41.0,75.7 41.5,76.1 42.0,77.2 42.5,78.2 43.0,78.4 43.5,76.7 44.0,75.8 44.5,75.8 45.0,77.4 45.5,77.5 46.0,78.6 46.5,78.4 47.0,78.7 47.5,76.7 48.0,76.4 48.5,77.5 49.0,78.1 49.5,77.1 50.0,79.1 50.5,76.4 51.0,77.6 51.5,77.1 52.0,78.4 52.5,78.7 53.0,78.0 53.5,78.6 54.0,79.7 54.5,77.9 55.0,77.6 55.5,77.4 56.0,78.0 56.5,77.5 57.0,76.7 57.5,79.1 58.0,77.6 58.5,76.3 59.0,79.0 59.5,77.7 60.0,79.3 60.5,80.2 61.0,78.2 61.5,77.8 62.0,80.1 62.5,77.7 63.0,77.8 63.5,78.3 64.0,78.4 64.5,80.5 65.0,79.5 65.5,77.6 66.0,80.6 66.5,80.1 67.0,79.1 67.5,80.7 68.0,79.6 68.5,79.0 69.0,77.8 69.5,78.8 70.0,80.9 70.5,80.6 71.0,79.9 71.5,78.8 72.0,80.6 72.5,80.6 73.0,81.5 73.5,81.4 74.0,81.7 74.5,80.9 75.0,81.2 75.5,80.5 76.0,81.2 76.5,81.4 77.0,81.5 77.5,80.4 78.0,81.4 78.5,81.1 79.0,80.1 79.5,81.1 80.0,81.8 80.5,80.8 81.0,82.6 81.5,81.5 82.0,81.8 82.5,81.1 83.0,78.7 83.5,78.6 84.0,81.2 84.5,81.0 85.0,81.0 85.5,82.2 86.0,82.3 86.5,82.3 87.0,81.2 87.5,83.4 88.0,80.2 88.5,83.0 89.0,81.9 89.5,83.1 90.0,82.6 90.5,82.8 91.0,84.0 91.5,82.1 92.0,80.4 92.5,81.6 93.0,80.1 93.5,81.6 94.0,81.7 94.5,82.9 95.0,81.9 95.5,82.6 96.0,80.4 96.5,81.0 97.0,78.1 97.5,74.6 98.0,78.7 98.5,81.4 99.0,82.9 99.5,81.9 100.0,82.2 100.5,84.9 101.0,81.9 101.5,83.0 102.0,84.0 102.5,84.7 103.0,83.4 103.5,83.8 104.0,84.4 104.5,85.4 105.0,84.3 105.5,83.9 106.0,85.4 106.5,85.4 107.0,83.9 107.5,84.6 108.0,84.3 108.5,84.5 109.0,82.8 109.5,84.5 110.0,84.4 110.5,83.2 111.0,84.3 111.5,83.6 112.0,83.8 112.5,84.2 113.0,86.7 113.5,86.0 114.0,83.6 114.5,85.5 115.0,84.0 115.5,85.2 116.0,84.4 116.5,84.4 117.0,84.0 117.5,82.9 118.0,83.2 118.5,84.4 119.0,85.0 119.5,86.2 120.0,87.8 120.5,86.0 121.0,87.5 121.5,86.4 122.0,86.4 122.5,84.9 123.0,85.8 123.5,86.5 124.0,85.8 124.5,85.2 125.0,85.9 125.5,87.2 126.0,87.2 126.5,85.7 127.0,87.1 127.5,86.2 128.0,85.9 128.5,87.7 129.0,87.1 129.5,86.7 130.0,86.5 130.5,83.5 131.0,87.1 131.5,88.2 132.0,84.3 132.5,83.7 133.0,85.8 133.5,87.7 134.0,87.4 134.5,87.6 135.0,86.2 135.5,85.9 136.0,87.3 136.5,85.8 137.0,88.2 137.5,88.1 138.0,87.2 138.5,86.5 139.0,88.8 139.5,87.5 140.0,85.6 140.5,86.2 141.0,85.3 141.5,88.0 142.0,86.5 142.5,87.4 143.0,88.0 143.5,89.0 144.0,86.4 144.5,88.2 145.0,87.4 145.5,87.6 146.0,85.6 146.5,87.7 147.0,88.2 147.5,88.4 148.0,88.8 148.5,87.4 149.0,86.4 149.5,88.6 150.0,86.9 150.5,90.7 151.0,88.3 151.5,86.3 152.0,88.9 152.5,88.4 153.0,87.8 153.5,87.9 154.0,88.2 154.5,87.1 155.0,89.5 155.5,90.1 156.0,89.0 156.5,88.1 157.0,89.0 157.5,90.0 158.0,89.6 158.5,88.8 159.0,89.3 159.5,87.8 160.0,89.8 160.5,90.7 161.0,90.2 161.5,90.3 162.0,89.9 162.5,88.0 163.0,90.6 163.5,90.8 164.0,88.6 164.5,89.0 165.0,90.2 165.5,90.1 166.0,88.5 166.5,88.3 167.0,88.2 167.5,89.8 168.0,90.6 168.5,90.7 169.0,89.6 169.5,90.1 170.0,89.4 170.5,91.0 171.0,90.1 171.5,89.7 172.0,91.2 172.5,90.2 173.0,89.8 173.5,89.0 174.0,89.9 174.5,91.7 175.0,89.3 175.5,91.2 176.0,89.2 176.5,89.2 177.0,91.2 177.5,89.4 178.0,89.8 178.5,89.8 179.0,91.5 179.5,90.9 180.0,89.7 180.5,89.5 181.0,90.2 181.5,88.9 182.0,89.6 182.5,89.5 183.0,88.2 183.5,85.9 184.0,88.8 184.5,88.7 185.0,90.9 185.5,90.6 186.0,90.2 186.5,88.6 187.0,92.2 187.5,90.2 188.0,91.2 188.5,92.0 189.0,92.6 189.5,90.3 190.0,92.8 190.5,90.8 191.0,90.9 191.5,93.3 192.0,91.4 192.5,91.2 193.0,89.9 193.5,91.1 194.0,88.8 194.5,91.2 195.0,92.0 195.5,91.5 196.0,90.3 196.5,93.0 197.0,91.3 197.5,90.6 198.0,90.9 198.5,89.9 199.0,89.8 199.5,88.9 200.0,89.2 200.5,87.5 201.0,89.0 201.5,87.3 202.0,85.5 202.5,83.3 203.0,79.6 203.5,81.2 204.0,80.7 204.5,85.0 205.0,87.9 205.5,88.6 206.0,88.7 206.5,89.2 207.0,91.9 207.5,91.2 208.0,92.0 208.5,89.9 209.0,91.0 209.5,92.4 210.0,92.1 210.5,92.2 211.0,91.4 211.5,93.3 212.0,92.4 212.5,93.2 213.0,93.2 213.5,92.1 214.0,92.6 214.5,92.8 215.0,91.9 215.5,92.7 216.0,92.1 216.5,91.3 217.0,92.8 217.5,93.2 218.0,93.9 218.5,93.7 219.0,92.4 219.5,92.2 220.0,94.2 220.5,92.6 221.0,91.3 221.5,91.2 222.0,92.2 222.5,94.9 223.0,92.2 223.5,94.6 224.0,92.8 224.5,93.0 225.0,92.5 225.5,95.1 226.0,95.2 226.5,93.0 227.0,93.9 227.5,92.0 228.0,92.9 228.5,93.7 229.0,93.2 229.5,94.1 230.0,91.4 230.5,95.6 231.0,93.5 231.5,91.6 232.0,92.2 232.5,91.5 233.0,91.7 233.5,93.4 234.0,92.0 234.5,91.6 235.0,88.3 235.5,82.5 236.0,79.2 236.5,85.4 237.0,90.4 237.5,93.4 238.0,94.5 238.5,93.5 239.0,94.2 239.5,95.8 240.0,95.7 240.5,92.8 241.0,94.9 241.5,95.4 242.0,95.0 242.5,94.4 243.0,92.7 243.5,94.7 244.0,95.6 244.5,95.6 245.0,92.7 245.5,95.5 246.0,95.5 246.5,95.9 247.0,94.0 247.5,94.9 248.0,94.0 248.5,94.6 249.0,94.8 249.5,95.3 250.0,93.8 250.5,95.8 251.0,97.3 251.5,95.4 252.0,95.4 252.5,95.1 253.0,94.7 253.5,94.8 254.0,94.6 254.5,96.7 255.0,95.7 255.5,94.2 256.0,94.1 256.5,94.7 257.0,93.7 257.5,95.6 258.0,96.3 258.5,93.8 259.0,94.1 259.5,94.5 260.0,94.4 260.5,96.1 261.0,93.8 261.5,95.3 262.0,96.1 262.5,97.7 263.0,96.0 263.5,95.9 264.0,96.9 264.5,94.4 265.0,95.2 265.5,96.9 266.0,95.3 266.5,96.1 267.0,96.6 267.5,96.2 268.0,96.6 268.5,95.6 269.0,94.0 269.5,93.7 270.0,93.4 270.5,94.9 271.0,92.8 271.5,89.5 272.0,90.2 272.5,96.7 273.0,95.6 273.5,93.9 274.0,95.8 274.5,95.2 275.0,95.8 275.5,96.5 276.0,95.9 276.5,93.4 277.0,91.0 277.5,86.9 278.0,79.5 278.5,76.2 279.0,85.1 279.5,88.6 280.0,90.7 280.5,92.6 281.0,91.9 281.5,95.1 282.0,94.6 282.5,95.4 283.0,94.8 283.5,93.0 284.0,96.9 284.5,94.8 285.0,92.6 285.5,92.5 286.0,94.4 286.5,95.2 287.0,94.8 287.5,95.0 288.0,96.5 288.5,97.8 289.0,95.5 289.5,96.5 290.0,97.6 290.5,98.1 291.0,96.0 291.5,95.5 292.0,95.7 292.5,97.0 293.0,98.1 293.5,97.0 294.0,95.7 294.5,95.7 295.0,97.2 295.5,96.3 296.0,96.3 296.5,96.8 297.0,96.4 297.5,96.8 298.0,95.4 298.5,96.3 299.0,97.1 299.5,96.2 300.0,96.6 300.5,96.5 301.0,95.2 301.5,95.7 302.0,94.2 302.5,92.2 303.0,87.7 303.5,80.5 304.0,67.1 304.5,49.7 305.0,61.3 305.5,74.1 306.0,84.2 306.5,89.6 307.0,93.5 307.5,94.1 308.0,94.0 308.5,96.4 309.0,95.6 309.5,95.7 310.0,95.8 310.5,95.9 311.0,96.3 311.5,97.4 312.0,97.8 312.5,94.3 313.0,99.5 313.5,96.7 314.0,97.5 314.5,96.0 315.0,98.1 315.5,97.2 316.0,98.5 316.5,97.3 317.0,98.9 317.5,96.8 318.0,98.0 318.5,98.9 319.0,97.8 319.5,95.8 320.0,95.5 320.5,97.6 321.0,96.1 321.5,98.1 322.0,97.6 322.5,97.5 323.0,97.4 323.5,97.8 324.0,98.6 324.5,98.7 325.0,96.1 325.5,98.6 326.0,97.4 326.5,99.5 327.0,97.2 327.5,96.1 328.0,95.8 328.5,96.8 329.0,97.1 329.5,96.6 330.0,96.9 330.5,96.9 331.0,99.6 331.5,98.6 332.0,98.1 332.5,98.4 333.0,98.7 333.5,98.3 334.0,99.0 334.5,99.6 335.0,98.9 335.5,98.7 336.0,98.2 336.5,99.4 337.0,98.8 337.5,99.2 338.0,98.2 338.5,99.7 339.0,98.2 339.5,99.4 340.0,98.1 340.5,98.5 341.0,101.0 341.5,99.8 342.0,99.2 342.5,99.9 343.0,100.2 343.5,99.3 344.0,98.4 344.5,97.3 345.0,97.9 345.5,100.7 346.0,99.5 346.5,99.4 347.0,99.4 347.5,98.3 348.0,99.2 348.5,98.1 349.0,100.0 349.5,100.8 350.0,99.7 350.5,100.9 351.0,101.5 351.5,99.0 352.0,99.4 352.5,98.4 353.0,99.1 353.5,100.9 354.0,100.4 354.5,97.8 355.0,100.0 355.5,99.5 356.0,97.5 356.5,99.7 357.0,98.9 357.5,97.6 358.0,97.7 358.5,96.8 359.0,97.0 359.5,98.7 360.0,97.6 360.5,98.1 361.0,98.5 361.5,99.9 362.0,100.3 362.5,100.7 363.0,100.8 363.5,99.3 364.0,99.3 364.5,98.3 365.0,101.0 365.5,100.7 366.0,101.0 366.5,98.9 367.0,99.7 367.5,99.4 368.0,102.3 368.5,99.2 369.0,99.4 369.5,100.2 370.0,100.2 370.5,99.3 371.0,100.1 371.5,99.4 372.0,98.6 372.5,100.8 373.0,100.6 373.5,99.7 374.0,101.4 374.5,98.5 375.0,99.1 375.5,101.1 376.0,100.6 376.5,100.2 377.0,99.6 377.5,101.2 378.0,100.7 378.5,100.4 379.0,100.6 379.5,101.3 380.0,99.1 380.5,99.2 381.0,98.4 381.5,100.0 382.0,99.3 382.5,100.4 383.0,98.1 383.5,102.0 384.0,100.0 384.5,101.0 385.0,98.0 385.5,101.4 386.0,100.1 386.5,99.0 387.0,100.9 387.5,100.8 388.0,100.2 388.5,99.5 389.0,99.6 389.5,99.6 390.0,99.2 390.5,99.5 391.0,100.3 391.5,99.2 392.0,99.6 392.5,100.2 393.0,100.5 393.5,101.5 394.0,101.7 394.5,101.3 395.0,101.0 395.5,99.5 396.0,102.6 396.5,101.3 397.0,98.8 397.5,100.6 398.0,100.4 398.5,100.6 399.0,99.4 399.5,101.0 400.0,100.8 400.5,101.2 401.0,101.5 401.5,100.2 402.0,101.3 402.5,100.8 403.0,102.7 403.5,103.5 404.0,100.5 404.5,101.5 405.0,101.4 405.5,99.5 406.0,101.4 406.5,101.3 407.0,99.3 407.5,101.8 408.0,102.2 408.5,102.8 409.0,101.9 409.5,101.7 410.0,100.5 410.5,100.8 411.0,101.5 411.5,101.9 412.0,100.7 412.5,101.0 413.0,102.2 413.5,103.1 414.0,104.1 414.5,102.9 415.0,101.1 415.5,100.4 416.0,101.9 416.5,101.7 417.0,101.3 417.5,101.7 418.0,102.9 418.5,101.2 419.0,102.5 419.5,102.5 420.0,102.2 420.5,103.0 421.0,101.1 421.5,99.8 422.0,100.2 422.5,102.0 423.0,103.0 423.5,102.7 424.0,101.5 424.5,102.9 425.0,101.9 425.5,102.1 426.0,101.5 426.5,101.4 427.0,103.2 427.5,98.8 428.0,100.7 428.5,100.6 429.0,101.3 429.5,100.9 430.0,102.5 430.5,102.2 431.0,100.2 431.5,100.6 432.0,102.0 432.5,101.3" fill="none" stroke="#3f8a16" stroke-width="0.90" stroke-linejoin="round"/>
<path d="M34.5,100.1 35.0,99.1 35.5,98.8 36.0,97.6 36.5,99.1 37.0,99.7 37.5,99.0 38.0,99.1 38.5,97.9 39.0,100.8 39.5,100.2 40.0,99.5 40.5,100.4 41.0,100.3 41.5,100.1 42.0,99.8 42.5,100.1 43.0,100.6 43.5,101.1 44.0,101.3 44.5,100.9 45.0,101.4 45.5,100.4 46.0,98.9 46.5,98.8 47.0,101.3 47.5,99.1 48.0,99.7 48.5,100.7 49.0,101.9 49.5,99.0 50.0,99.6 50.5,100.1 51.0,100.2 51.5,101.1 52.0,102.1 52.5,102.1 53.0,104.4 53.5,103.5 54.0,100.5 54.5,99.9 55.0,101.1 55.5,101.3 56.0,102.8 56.5,102.6 57.0,102.9 57.5,102.1 58.0,102.5 58.5,102.6 59.0,102.0 59.5,102.8 60.0,100.9 60.5,103.1 61.0,103.1 61.5,105.5 62.0,102.9 62.5,101.0 63.0,101.7 63.5,102.3 64.0,101.8 64.5,101.3 65.0,102.1 65.5,101.2 66.0,103.6 66.5,101.2 67.0,102.8 67.5,103.2 68.0,102.3 68.5,102.8 69.0,102.2 69.5,103.1 70.0,101.9 70.5,101.6 71.0,102.4 71.5,103.4 72.0,104.5 72.5,102.5 73.0,102.8 73.5,102.8 74.0,104.5 74.5,103.4 75.0,105.0 75.5,103.8 76.0,103.3 76.5,103.3 77.0,102.3 77.5,101.2 78.0,103.2 78.5,103.4 79.0,106.3 79.5,105.1 80.0,105.4 80.5,104.6 81.0,104.1 81.5,102.6 82.0,102.3 82.5,104.7 83.0,103.2 83.5,103.3 84.0,105.0 84.5,104.5 85.0,104.5 85.5,107.0 86.0,105.8 86.5,104.9 87.0,104.8 87.5,104.5 88.0,105.7 88.5,106.1 89.0,105.0 89.5,105.3 90.0,104.0 90.5,105.1 91.0,106.4 91.5,104.9 92.0,105.6 92.5,105.1 93.0,105.3 93.5,106.1 94.0,104.9 94.5,106.8 95.0,107.2 95.5,107.0 96.0,104.4 96.5,102.1 97.0,100.7 97.5,96.9 98.0,99.5 98.5,103.3 99.0,105.1 99.5,105.5 100.0,106.8 100.5,105.1 101.0,106.7 101.5,107.2 102.0,106.3 102.5,110.5 103.0,107.8 103.5,107.4 104.0,105.9 104.5,107.2 105.0,107.4 105.5,108.4 106.0,107.0 106.5,108.5 107.0,106.2 107.5,107.3 108.0,105.7 108.5,107.3 109.0,108.3 109.5,106.2 110.0,108.2 110.5,108.3 111.0,106.2 111.5,106.6 112.0,107.1 112.5,108.2 113.0,109.2 113.5,107.3 114.0,106.6 114.5,107.0 115.0,104.5 115.5,107.1 116.0,106.5 116.5,105.8 117.0,107.3 117.5,106.2 118.0,106.2 118.5,108.3 119.0,107.5 119.5,108.1 120.0,108.0 120.5,108.4 121.0,108.8 121.5,109.0 122.0,107.7 122.5,110.0 123.0,108.7 123.5,108.5 124.0,109.8 124.5,108.8 125.0,109.6 125.5,110.4 126.0,110.4 126.5,109.1 127.0,110.4 127.5,109.4 128.0,108.7 128.5,108.6 129.0,109.8 129.5,109.0 130.0,110.9 130.5,110.7 131.0,110.5 131.5,111.1 132.0,111.0 132.5,109.3 133.0,112.4 133.5,108.9 134.0,110.1 134.5,108.3 135.0,109.6 135.5,109.7 136.0,108.8 136.5,110.6 137.0,110.5 137.5,110.4 138.0,109.4 138.5,111.7 139.0,110.5 139.5,111.3 140.0,109.2 140.5,111.9 141.0,110.5 141.5,111.7 142.0,110.5 142.5,110.7 143.0,111.3 143.5,110.9 144.0,113.1 144.5,111.1 145.0,110.8 145.5,112.1 146.0,111.5 146.5,110.3 147.0,110.8 147.5,112.0 148.0,111.5 148.5,112.5 149.0,110.4 149.5,111.6 150.0,110.8 150.5,111.1 151.0,110.9 151.5,110.7 152.0,113.9 152.5,112.2 153.0,112.6 153.5,112.3 154.0,113.8 154.5,111.6 155.0,110.6 155.5,112.4 156.0,111.1 156.5,113.4 157.0,111.4 157.5,111.7 158.0,112.7 158.5,111.2 159.0,111.8 159.5,112.5 160.0,110.9 160.5,112.0 161.0,110.9 161.5,112.0 162.0,114.0 162.5,114.1 163.0,112.6 163.5,112.4 164.0,111.8 164.5,113.3 165.0,113.5 165.5,111.5 166.0,111.6 166.5,111.4 167.0,112.8 167.5,113.1 168.0,113.1 168.5,113.6 169.0,113.6 169.5,113.1 170.0,113.6 170.5,112.6 171.0,113.8 171.5,114.3 172.0,111.2 172.5,114.5 173.0,113.3 173.5,114.0 174.0,113.4 174.5,114.9 175.0,113.5 175.5,113.8 176.0,112.9 176.5,113.3 177.0,113.8 177.5,112.5 178.0,113.1 178.5,112.8 179.0,113.4 179.5,114.3 180.0,113.6 180.5,114.5 181.0,112.5 181.5,112.3 182.0,111.9 182.5,110.4 183.0,110.7 183.5,109.4 184.0,109.8 184.5,111.7 185.0,111.7 185.5,112.8 186.0,113.2 186.5,114.6 187.0,115.3 187.5,114.6 188.0,113.4 188.5,114.8 189.0,116.7 189.5,114.2 190.0,114.0 190.5,115.5 191.0,114.4 191.5,114.0 192.0,115.5 192.5,113.7 193.0,115.3 193.5,113.8 194.0,114.9 194.5,114.5 195.0,113.7 195.5,115.2 196.0,113.1 196.5,114.8 197.0,114.3 197.5,115.4 198.0,113.3 198.5,114.9 199.0,116.2 199.5,113.5 200.0,113.4 200.5,113.9 201.0,116.0 201.5,111.8 202.0,108.6 202.5,106.5 203.0,103.2 203.5,102.1 204.0,103.5 204.5,109.4 205.0,109.1 205.5,111.6 206.0,111.1 206.5,111.1 207.0,114.3 207.5,113.1 208.0,115.2 208.5,115.0 209.0,114.1 209.5,115.8 210.0,114.0 210.5,116.0 211.0,116.7 211.5,114.4 212.0,115.6 212.5,117.3 213.0,116.3 213.5,114.6 214.0,116.7 214.5,116.1 215.0,116.2 215.5,114.7 216.0,116.2 216.5,116.4 217.0,115.0 217.5,116.4 218.0,115.9 218.5,116.9 219.0,117.1 219.5,115.5 220.0,114.8 220.5,117.4 221.0,117.1 221.5,115.8 222.0,117.4 222.5,117.1 223.0,117.0 223.5,116.1 224.0,115.8 224.5,117.7 225.0,116.6 225.5,116.3 226.0,117.2 226.5,115.6 227.0,116.4 227.5,116.6 228.0,119.4 228.5,115.5 229.0,116.5 229.5,116.0 230.0,115.0 230.5,118.6 231.0,118.6 231.5,116.5 232.0,116.3 232.5,116.2 233.0,116.0 233.5,115.4 234.0,115.3 234.5,114.7 235.0,110.6 235.5,104.5 236.0,101.6 236.5,111.1 237.0,113.0 237.5,114.2 238.0,115.0 238.5,116.9 239.0,116.8 239.5,115.8 240.0,116.9 240.5,119.3 241.0,117.9 241.5,117.2 242.0,116.7 242.5,117.8 243.0,116.6 243.5,117.3 244.0,116.4 244.5,118.3 245.0,117.0 245.5,119.2 246.0,119.0 246.5,118.2 247.0,119.3 247.5,119.6 248.0,117.6 248.5,119.7 249.0,119.1 249.5,119.4 250.0,118.1 250.5,118.1 251.0,119.3 251.5,118.1 252.0,118.2 252.5,119.1 253.0,117.2 253.5,116.7 254.0,119.2 254.5,119.5 255.0,120.4 255.5,119.5 256.0,117.7 256.5,119.2 257.0,119.3 257.5,119.6 258.0,119.5 258.5,119.5 259.0,119.7 259.5,118.0 260.0,119.0 260.5,117.7 261.0,117.9 261.5,119.4 262.0,118.1 262.5,117.2 263.0,117.8 263.5,119.3 264.0,119.9 264.5,119.5 265.0,120.0 265.5,116.8 266.0,118.4 266.5,119.6 267.0,118.8 267.5,119.4 268.0,118.2 268.5,118.7 269.0,120.1 269.5,118.0 270.0,120.6 270.5,118.4 271.0,116.4 271.5,116.2 272.0,115.6 272.5,118.3 273.0,119.3 273.5,117.9 274.0,118.1 274.5,118.2 275.0,117.9 275.5,117.0 276.0,118.0 276.5,116.5 277.0,113.3 277.5,110.3 278.0,105.9 278.5,100.9 279.0,106.6 279.5,113.7 280.0,116.4 280.5,117.1 281.0,118.2 281.5,118.7 282.0,121.1 282.5,120.3 283.0,119.6 283.5,118.2 284.0,118.1 284.5,117.9 285.0,116.2 285.5,117.0 286.0,118.2 286.5,118.7 287.0,118.9 287.5,118.3 288.0,118.5 288.5,121.6 289.0,121.6 289.5,120.7 290.0,120.7 290.5,120.3 291.0,119.2 291.5,120.1 292.0,118.5 292.5,119.8 293.0,119.0 293.5,119.7 294.0,121.1 294.5,120.1 295.0,119.9 295.5,120.7 296.0,120.6 296.5,121.7 297.0,120.8 297.5,121.3 298.0,119.9 298.5,119.3 299.0,120.6 299.5,120.9 300.0,118.5 300.5,117.7 301.0,118.0 301.5,119.2 302.0,116.6 302.5,115.9 303.0,114.6 303.5,107.3 304.0,94.6 304.5,81.5 305.0,90.7 305.5,102.3 306.0,110.2 306.5,114.8 307.0,119.0 307.5,120.5 308.0,119.2 308.5,119.9 309.0,118.6 309.5,119.3 310.0,120.2 310.5,119.8 311.0,120.9 311.5,120.4 312.0,120.9 312.5,121.8 313.0,120.7 313.5,121.3 314.0,121.3 314.5,120.6 315.0,121.1 315.5,120.7 316.0,120.3 316.5,120.4 317.0,120.3 317.5,119.5 318.0,122.3 318.5,119.3 319.0,121.6 319.5,120.6 320.0,119.7 320.5,121.0 321.0,120.0 321.5,120.6 322.0,122.7 322.5,122.3 323.0,121.7 323.5,122.1 324.0,119.7 324.5,122.9 325.0,121.9 325.5,120.8 326.0,121.5 326.5,122.4 327.0,120.6 327.5,120.7 328.0,122.6 328.5,122.0 329.0,121.4 329.5,120.8 330.0,119.6 330.5,120.4 331.0,121.6 331.5,122.0 332.0,123.4 332.5,121.8 333.0,121.8 333.5,121.3 334.0,120.3 334.5,122.0 335.0,120.9 335.5,121.2 336.0,120.7 336.5,122.0 337.0,121.3 337.5,122.3 338.0,124.0 338.5,122.4 339.0,122.4 339.5,121.4 340.0,120.5 340.5,123.8 341.0,120.3 341.5,124.1 342.0,123.6 342.5,122.4 343.0,122.8 343.5,122.3 344.0,122.8 344.5,123.0 345.0,122.5 345.5,122.1 346.0,122.2 346.5,122.4 347.0,122.4 347.5,122.6 348.0,123.1 348.5,122.6 349.0,122.5 349.5,122.1 350.0,122.5 350.5,122.6 351.0,122.6 351.5,122.9 352.0,122.1 352.5,121.1 353.0,123.3 353.5,123.3 354.0,123.5 354.5,123.4 355.0,121.5 355.5,123.2 356.0,123.5 356.5,123.2 357.0,121.3 357.5,121.8 358.0,122.3 358.5,122.3 359.0,121.1 359.5,122.1 360.0,123.1 360.5,121.0 361.0,121.3 361.5,121.8 362.0,121.5 362.5,122.2 363.0,123.4 363.5,122.6 364.0,122.1 364.5,122.4 365.0,124.5 365.5,125.0 366.0,122.4 366.5,124.2 367.0,124.4 367.5,123.0 368.0,123.0 368.5,123.6 369.0,122.1 369.5,122.7 370.0,123.2 370.5,122.2 371.0,122.7 371.5,124.2 372.0,121.5 372.5,124.5 373.0,125.1 373.5,123.5 374.0,123.5 374.5,123.4 375.0,121.6 375.5,123.3 376.0,122.8 376.5,123.2 377.0,121.1 377.5,124.0 378.0,123.3 378.5,123.7 379.0,123.1 379.5,124.5 380.0,122.8 380.5,122.5 381.0,122.0 381.5,123.3 382.0,124.3 382.5,125.2 383.0,124.5 383.5,124.0 384.0,123.7 384.5,123.0 385.0,122.6 385.5,124.0 386.0,123.7 386.5,123.0 387.0,123.4 387.5,124.3 388.0,121.2 388.5,123.3 389.0,122.6 389.5,121.6 390.0,120.2 390.5,123.0 391.0,123.8 391.5,123.3 392.0,122.0 392.5,123.1 393.0,123.8 393.5,123.2 394.0,124.4 394.5,122.5 395.0,125.7 395.5,123.2 396.0,122.9 396.5,124.8 397.0,124.2 397.5,124.1 398.0,123.5 398.5,124.8 399.0,124.3 399.5,125.0 400.0,125.3 400.5,123.5 401.0,125.7 401.5,124.6 402.0,123.3 402.5,125.8 403.0,123.4 403.5,126.5 404.0,123.6 404.5,126.0 405.0,123.1 405.5,121.2 406.0,124.6 406.5,124.2 407.0,125.8 407.5,127.8 408.0,125.2 408.5,124.4 409.0,124.1 409.5,125.7 410.0,124.3 410.5,123.5 411.0,125.0 411.5,126.7 412.0,124.3 412.5,125.0 413.0,125.1 413.5,124.7 414.0,124.8 414.5,125.4 415.0,125.7 415.5,123.7 416.0,123.1 416.5,125.1 417.0,123.3 417.5,124.6 418.0,124.5 418.5,125.7 419.0,124.6 419.5,124.7 420.0,123.3 420.5,124.7 421.0,123.2 421.5,125.2 422.0,125.8 422.5,126.9 423.0,125.7 423.5,124.9 424.0,124.0 424.5,124.3 425.0,125.5 425.5,125.8 426.0,125.8 426.5,124.7 427.0,124.0 427.5,122.9 428.0,125.4 428.5,124.8 429.0,124.4 429.5,125.2 430.0,127.1 430.5,124.9 431.0,124.5 431.5,124.0 432.0,125.0 432.5,123.5" fill="none" stroke="#3f8a16" stroke-width="0.90" stroke-linejoin="round"/>
<path d="M34.5,122.3 35.0,120.2 35.5,120.3 36.0,119.8 36.5,119.7 37.0,121.9 37.5,121.0 38.0,120.6 38.5,121.9 39.0,122.9 39.5,122.3 40.0,122.2 40.5,120.6 41.0,122.4 41.5,122.3 42.0,120.5 42.5,120.6 43.0,121.9 43.5,120.6 44.0,120.5 44.5,120.5 45.0,122.1 45.5,121.1 46.0,121.6 46.5,122.4 47.0,123.2 47.5,123.3 48.0,123.1 48.5,122.9 49.0,120.6 49.5,122.0 50.0,123.3 50.5,123.4 51.0,122.2 51.5,123.2 52.0,122.7 52.5,122.8 53.0,122.5 53.5,121.9 54.0,121.1 54.5,121.3 55.0,122.3 55.5,125.8 56.0,121.8 56.5,123.5 57.0,124.4 57.5,124.4 58.0,123.7 58.5,123.8 59.0,124.0 59.5,123.3 60.0,123.2 60.5,123.7 61.0,123.8 61.5,124.0 62.0,123.1 62.5,125.0 63.0,124.7 63.5,123.8 64.0,122.6 64.5,122.6 65.0,123.4 65.5,123.8 66.0,123.1 66.5,124.6 67.0,122.6 67.5,124.6 68.0,121.5 68.5,123.1 69.0,121.9 69.5,121.7 70.0,123.4 70.5,124.0 71.0,124.4 71.5,125.2 72.0,124.6 72.5,123.8 73.0,124.9 73.5,126.2 74.0,126.0 74.5,123.8 75.0,124.1 75.5,124.5 76.0,124.7 76.5,123.0 77.0,124.1 77.5,124.1 78.0,123.9 78.5,126.9 79.0,126.0 79.5,125.9 80.0,126.3 80.5,125.5 81.0,126.1 81.5,126.1 82.0,125.6 82.5,125.0 83.0,125.6 83.5,125.4 84.0,125.2 84.5,126.0 85.0,126.5 85.5,125.6 86.0,126.3 86.5,125.8 87.0,126.3 87.5,127.0 88.0,127.9 88.5,128.8 89.0,128.1 89.5,126.2 90.0,126.5 90.5,124.6 91.0,125.9 91.5,125.9 92.0,127.0 92.5,127.3 93.0,128.2 93.5,127.6 94.0,125.9 94.5,126.6 95.0,129.1 95.5,127.8 96.0,127.3 96.5,126.0 97.0,120.8 97.5,117.7 98.0,120.8 98.5,123.8 99.0,125.9 99.5,128.0 100.0,127.8 100.5,128.0 101.0,127.7 101.5,128.3 102.0,128.7 102.5,128.5 103.0,127.5 103.5,127.6 104.0,126.9 104.5,129.3 105.0,128.7 105.5,129.9 106.0,130.1 106.5,127.9 107.0,128.7 107.5,129.5 108.0,127.2 108.5,129.0 109.0,129.1 109.5,128.6 110.0,129.7 110.5,128.2 111.0,129.3 111.5,130.6 112.0,129.1 112.5,130.4 113.0,129.0 113.5,129.2 114.0,130.3 114.5,129.8 115.0,129.9 115.5,130.0 116.0,130.0 116.5,127.1 117.0,129.3 117.5,128.1 118.0,129.0 118.5,128.9 119.0,131.0 119.5,130.5 120.0,128.3 120.5,129.1 121.0,129.5 121.5,130.0 122.0,130.3 122.5,130.7 123.0,130.1 123.5,130.3 124.0,130.3 124.5,130.1 125.0,131.8 125.5,130.9 126.0,131.0 126.5,131.4 127.0,130.3 127.5,132.2 128.0,131.1 128.5,132.1 129.0,131.0 129.5,132.0 130.0,131.4 130.5,130.5 131.0,130.5 131.5,129.6 132.0,131.8 132.5,130.3 133.0,129.6 133.5,132.2 134.0,131.1 134.5,131.9 135.0,131.5 135.5,130.0 136.0,131.2 136.5,132.5 137.0,131.3 137.5,129.7 138.0,132.2 138.5,131.5 139.0,131.8 139.5,131.1 140.0,132.0 140.5,130.9 141.0,130.3 141.5,132.6 142.0,132.4 142.5,133.6 143.0,131.3 143.5,132.3 144.0,131.3 144.5,134.0 145.0,132.0 145.5,132.9 146.0,131.4 146.5,132.0 147.0,132.0 147.5,132.6 148.0,132.6 148.5,133.8 149.0,133.2 149.5,134.0 150.0,132.5 150.5,133.2 151.0,131.3 151.5,133.4 152.0,132.7 152.5,130.7 153.0,132.7 153.5,132.2 154.0,134.3 154.5,132.8 155.0,133.4 155.5,133.5 156.0,134.2 156.5,135.5 157.0,134.0 157.5,133.0 158.0,133.9 158.5,133.6 159.0,133.4 159.5,133.6 160.0,132.5 160.5,134.3 161.0,134.3 161.5,134.1 162.0,133.7 162.5,133.6 163.0,134.4 163.5,133.4 164.0,133.4 164.5,134.4 165.0,133.2 165.5,134.4 166.0,133.9 166.5,134.1 167.0,134.3 167.5,134.8 168.0,134.4 168.5,133.2 169.0,133.4 169.5,134.0 170.0,133.5 170.5,131.9 171.0,132.3 171.5,133.8 172.0,135.0 172.5,135.6 173.0,137.1 173.5,134.2 174.0,133.6 174.5,134.0 175.0,134.5 175.5,134.9 176.0,136.2 176.5,134.9 177.0,135.9 177.5,135.4 178.0,134.5 178.5,133.0 179.0,134.7 179.5,134.6 180.0,132.7 180.5,135.3 181.0,133.7 181.5,134.0 182.0,134.6 182.5,133.4 183.0,131.5 183.5,131.1 184.0,132.5 184.5,133.3 185.0,133.5 185.5,135.0 186.0,135.9 186.5,134.9 187.0,134.0 187.5,135.0 188.0,133.7 188.5,134.8 189.0,135.6 189.5,135.0 190.0,134.2 190.5,136.9 191.0,135.4 191.5,136.2 192.0,136.0 192.5,135.2 193.0,137.2 193.5,135.7 194.0,136.5 194.5,136.2 195.0,136.6 195.5,134.4 196.0,135.6 196.5,136.0 197.0,135.4 197.5,133.1 198.0,134.4 198.5,134.9 199.0,135.6 199.5,134.1 200.0,133.1 200.5,134.4 201.0,133.7 201.5,132.0 202.0,131.3 202.5,128.1 203.0,125.0 203.5,121.7 204.0,127.1 204.5,128.8 205.0,131.4 205.5,134.1 206.0,134.2 206.5,135.3 207.0,135.9 207.5,138.1 208.0,136.7 208.5,133.6 209.0,135.5 209.5,136.0 210.0,136.5 210.5,136.1 211.0,137.4 211.5,137.2 212.0,137.4 212.5,136.4 213.0,135.1 213.5,137.5 214.0,137.0 214.5,136.6 215.0,136.7 215.5,138.5 216.0,135.7 216.5,137.8 217.0,137.6 217.5,139.4 218.0,135.7 218.5,137.5 219.0,137.3 219.5,136.2 220.0,136.5 220.5,136.4 221.0,137.0 221.5,137.7 222.0,137.5 222.5,135.4 223.0,136.4 223.5,136.8 224.0,137.5 224.5,139.3 225.0,139.8 225.5,137.1 226.0,135.7 226.5,139.2 227.0,137.9 227.5,139.2 228.0,136.8 228.5,137.9 229.0,137.1 229.5,137.2 230.0,136.5 230.5,137.7 231.0,139.8 231.5,137.6 232.0,137.4 232.5,135.8 233.0,138.4 233.5,137.9 234.0,137.1 234.5,135.4 235.0,133.2 235.5,129.6 236.0,126.3 236.5,132.1 237.0,136.4 237.5,136.1 238.0,135.8 238.5,136.4 239.0,136.5 239.5,137.6 240.0,139.4 240.5,138.2 241.0,137.2 241.5,137.9 242.0,139.4 242.5,139.9 243.0,137.9 243.5,138.1 244.0,138.8 244.5,138.8 245.0,139.4 245.5,139.2 246.0,139.6 246.5,139.5 247.0,140.7 247.5,137.7 248.0,138.4 248.5,138.4 249.0,138.9 249.5,138.2 250.0,140.8 250.5,140.3 251.0,139.7 251.5,139.0 252.0,139.7 252.5,139.1 253.0,139.9 253.5,138.2 254.0,138.1 254.5,138.1 255.0,140.6 255.5,140.3 256.0,139.8 256.5,140.9 257.0,141.4 257.5,139.8 258.0,141.1 258.5,140.9 259.0,139.1 259.5,138.7 260.0,140.5 260.5,139.3 261.0,138.8 261.5,139.3 262.0,139.8 262.5,141.6 263.0,140.0 263.5,141.3 264.0,139.1 264.5,140.1 265.0,141.2 265.5,139.8 266.0,139.7 266.5,140.5 267.0,139.1 267.5,138.0 268.0,138.6 268.5,139.4 269.0,140.7 269.5,139.5 270.0,139.2 270.5,138.8 271.0,137.9 271.5,135.8 272.0,136.0 272.5,138.7 273.0,137.8 273.5,138.8 274.0,140.2 274.5,140.7 275.0,138.8 275.5,137.7 276.0,137.0 276.5,137.0 277.0,133.7 277.5,130.5 278.0,120.5 278.5,116.5 279.0,121.2 279.5,129.7 280.0,135.0 280.5,135.9 281.0,138.9 281.5,140.1 282.0,138.3 282.5,139.8 283.0,141.7 283.5,141.6 284.0,140.2 284.5,139.5 285.0,138.8 285.5,137.7 286.0,139.0 286.5,139.8 287.0,139.0 287.5,140.7 288.0,139.7 288.5,141.7 289.0,139.7 289.5,139.5 290.0,140.5 290.5,141.0 291.0,142.5 291.5,141.3 292.0,141.8 292.5,139.6 293.0,139.7 293.5,140.5 294.0,141.3 294.5,140.9 295.0,140.8 295.5,140.3 296.0,139.9 296.5,141.3 297.0,142.1 297.5,140.0 298.0,141.5 298.5,140.4 299.0,138.6 299.5,138.7 300.0,139.0 300.5,140.4 301.0,140.8 301.5,141.4 302.0,138.6 302.5,136.8 303.0,134.4 303.5,128.4 304.0,117.9 304.5,105.9 305.0,113.0 305.5,126.8 306.0,132.7 306.5,136.1 307.0,139.1 307.5,138.6 308.0,140.9 308.5,140.8 309.0,141.4 309.5,143.4 310.0,142.7 310.5,141.6 311.0,141.3 311.5,140.4 312.0,142.6 312.5,141.1 313.0,143.0 313.5,143.2 314.0,142.4 314.5,141.7 315.0,142.4 315.5,142.0 316.0,141.2 316.5,141.4 317.0,142.1 317.5,141.5 318.0,141.4 318.5,143.8 319.0,141.9 319.5,142.9 320.0,142.9 320.5,142.2 321.0,143.0 321.5,143.0 322.0,143.3 322.5,143.1 323.0,142.4 323.5,143.0 324.0,141.7 324.5,142.5 325.0,141.6 325.5,142.7 326.0,143.6 326.5,144.1 327.0,141.7 327.5,141.4 328.0,140.8 328.5,141.4 329.0,141.2 329.5,141.2 330.0,142.6 330.5,141.1 331.0,143.5 331.5,143.5 332.0,143.8 332.5,142.4 333.0,142.7 333.5,144.0 334.0,142.7 334.5,144.0 335.0,143.4 335.5,143.1 336.0,144.3 336.5,145.8 337.0,143.7 337.5,142.0 338.0,143.9 338.5,142.4 339.0,143.6 339.5,142.8 340.0,145.4 340.5,144.5 341.0,144.6 341.5,143.6 342.0,144.4 342.5,145.7 343.0,145.4 343.5,143.3 344.0,145.0 344.5,143.8 345.0,141.5 345.5,142.3 346.0,143.9 346.5,144.3 347.0,142.7 347.5,143.7 348.0,144.7 348.5,144.6 349.0,143.5 349.5,142.4 350.0,142.6 350.5,144.1 351.0,142.6 351.5,144.1 352.0,141.2 352.5,142.6 353.0,143.8 353.5,142.6 354.0,144.7 354.5,144.7 355.0,145.8 355.5,144.1 356.0,144.4 356.5,143.7 357.0,142.7 357.5,143.2 358.0,142.2 358.5,142.4 359.0,143.9 359.5,143.1 360.0,142.3 360.5,145.8 361.0,143.6 361.5,145.3 362.0,145.7 362.5,145.2 363.0,144.4 363.5,143.2 364.0,144.8 364.5,145.1 365.0,144.4 365.5,143.8 366.0,146.2 366.5,144.1 367.0,146.6 367.5,141.6 368.0,144.8 368.5,144.2 369.0,145.3 369.5,144.8 370.0,142.8 370.5,144.1 371.0,143.7 371.5,142.8 372.0,144.0 372.5,144.4 373.0,142.0 373.5,144.4 374.0,143.1 374.5,144.1 375.0,143.2 375.5,145.0 376.0,143.8 376.5,143.9 377.0,143.6 377.5,145.6 378.0,145.3 378.5,144.6 379.0,145.7 379.5,146.9 380.0,145.4 380.5,144.4 381.0,145.9 381.5,145.5 382.0,146.0 382.5,145.1 383.0,143.5 383.5,144.8 384.0,143.4 384.5,146.0 385.0,144.8 385.5,145.2 386.0,145.3 386.5,146.2 387.0,144.6 387.5,143.7 388.0,143.4 388.5,144.2 389.0,143.0 389.5,143.0 390.0,144.0 390.5,143.2 391.0,145.3 391.5,142.8 392.0,146.3 392.5,146.7 393.0,144.8 393.5,146.1 394.0,144.5 394.5,144.5 395.0,145.8 395.5,144.7 396.0,146.3 396.5,145.8 397.0,145.6 397.5,146.0 398.0,145.4 398.5,145.9 399.0,146.9 399.5,144.0 400.0,145.4 400.5,145.6 401.0,145.5 401.5,144.3 402.0,146.6 402.5,145.9 403.0,146.7 403.5,146.2 404.0,144.1 404.5,144.9 405.0,145.5 405.5,145.9 406.0,146.2 406.5,143.3 407.0,146.7 407.5,146.1 408.0,147.2 408.5,145.9 409.0,144.7 409.5,145.7 410.0,145.2 410.5,146.0 411.0,145.7 411.5,145.6 412.0,146.0 412.5,145.8 413.0,146.1 413.5,145.1 414.0,145.5 414.5,147.0 415.0,145.9 415.5,147.6 416.0,147.4 416.5,147.4 417.0,146.4 417.5,145.6 418.0,146.6 418.5,145.6 419.0,145.9 419.5,144.7 420.0,145.9 420.5,144.9 421.0,144.6 421.5,147.5 422.0,146.8 422.5,145.3 423.0,146.6 423.5,147.0 424.0,146.5 424.5,145.5 425.0,147.6 425.5,144.9 426.0,144.6 426.5,145.8 427.0,146.8 427.5,145.9 428.0,146.2 428.5,147.0 429.0,147.0 429.5,148.2 430.0,146.4 430.5,146.3 431.0,146.4 431.5,146.6 432.0,146.7 432.5,147.1" fill="none" stroke="#3f8a16" stroke-width="0.90" stroke-linejoin="round"/>
<path d="M34.5,141.0 35.0,140.7 35.5,140.4 36.0,140.0 36.5,141.1 37.0,140.2 37.5,141.8 38.0,141.1 38.5,141.1 39.0,141.2 39.5,140.9 40.0,142.2 40.5,142.1 41.0,143.2 41.5,141.2 42.0,142.9 42.5,141.4 43.0,141.9 43.5,140.3 44.0,142.1 44.5,140.4 45.0,141.7 45.5,142.2 46.0,142.4 46.5,142.9 47.0,143.0 47.5,142.9 48.0,141.6 48.5,142.4 49.0,141.9 49.5,142.5 50.0,143.9 50.5,143.1 51.0,140.9 51.5,143.1 52.0,143.8 52.5,143.1 53.0,144.5 53.5,141.8 54.0,142.0 54.5,143.5 55.0,140.3 55.5,139.5 56.0,143.3 56.5,142.8 57.0,145.2 57.5,144.9 58.0,144.6 58.5,144.7 59.0,143.0 59.5,142.3 60.0,144.9 60.5,144.5 61.0,142.4 61.5,143.0 62.0,144.7 62.5,145.3 63.0,144.2 63.5,143.5 64.0,145.4 64.5,145.4 65.0,144.4 65.5,144.8 66.0,144.8 66.5,145.8 67.0,143.9 67.5,143.0 68.0,142.2 68.5,142.8 69.0,143.1 69.5,140.8 70.0,142.8 70.5,144.1 71.0,143.9 71.5,145.4 72.0,144.9 72.5,146.1 73.0,145.6 73.5,144.9 74.0,145.3 74.5,146.1 75.0,145.1 75.5,145.2 76.0,145.6 76.5,148.0 77.0,146.2 77.5,147.1 78.0,145.6 78.5,146.3 79.0,146.0 79.5,145.9 80.0,145.9 80.5,146.1 81.0,144.7 81.5,146.1 82.0,145.5 82.5,143.8 83.0,145.0 83.5,144.8 84.0,145.6 84.5,146.1 85.0,145.8 85.5,144.8 86.0,146.8 86.5,146.8 87.0,146.8 87.5,148.3 88.0,146.9 88.5,147.4 89.0,148.4 89.5,148.7 90.0,148.4 90.5,147.8 91.0,147.4 91.5,147.5 92.0,148.7 92.5,148.0 93.0,146.9 93.5,147.4 94.0,146.3 94.5,145.7 95.0,147.3 95.5,147.1 96.0,148.1 96.5,145.5 97.0,143.5 97.5,137.6 98.0,139.9 98.5,147.1 99.0,147.5 99.5,147.5 100.0,146.6 100.5,148.1 101.0,146.4 101.5,148.2 102.0,148.3 102.5,147.3 103.0,148.3 103.5,148.2 104.0,147.9 104.5,149.1 105.0,149.5 105.5,149.0 106.0,148.8 106.5,150.1 107.0,148.6 107.5,148.6 108.0,149.2 108.5,148.0 109.0,149.3 109.5,150.1 110.0,149.6 110.5,151.4 111.0,148.4 111.5,148.8 112.0,148.2 112.5,149.2 113.0,149.0 113.5,148.8 114.0,147.5 114.5,149.3 115.0,149.6 115.5,147.1 116.0,148.7 116.5,147.0 117.0,146.9 117.5,148.2 118.0,147.3 118.5,148.9 119.0,148.3 119.5,148.9 120.0,150.4 120.5,150.9 121.0,151.6 121.5,149.8 122.0,149.3 122.5,148.9 123.0,149.2 123.5,150.8 124.0,150.4 124.5,152.2 125.0,152.0 125.5,152.4 126.0,150.4 126.5,148.3 127.0,149.8 127.5,151.0 128.0,150.6 128.5,150.3 129.0,149.2 129.5,150.5 130.0,152.8 130.5,152.4 131.0,150.8 131.5,150.0 132.0,151.7 132.5,151.9 133.0,150.1 133.5,152.4 134.0,151.5 134.5,151.3 135.0,152.0 135.5,151.4 136.0,150.4 136.5,148.9 137.0,149.3 137.5,152.5 138.0,150.6 138.5,151.1 139.0,151.2 139.5,151.0 140.0,151.8 140.5,149.1 141.0,152.0 141.5,150.5 142.0,151.2 142.5,151.2 143.0,151.5 143.5,153.2 144.0,151.5 144.5,151.6 145.0,153.2 145.5,151.6 146.0,150.6 146.5,152.6 147.0,152.8 147.5,152.1 148.0,152.0 148.5,153.8 149.0,154.6 149.5,152.6 150.0,152.5 150.5,153.8 151.0,152.6 151.5,153.2 152.0,153.1 152.5,154.1 153.0,155.0 153.5,152.5 154.0,151.7 154.5,152.1 155.0,151.7 155.5,152.6 156.0,154.1 156.5,152.0 157.0,153.8 157.5,152.4 158.0,154.6 158.5,153.9 159.0,154.7 159.5,153.4 160.0,153.5 160.5,154.9 161.0,154.7 161.5,154.5 162.0,154.9 162.5,155.2 163.0,153.3 163.5,153.1 164.0,152.7 164.5,153.8 165.0,154.6 165.5,154.1 166.0,154.7 166.5,154.7 167.0,155.4 167.5,152.9 168.0,153.5 168.5,153.7 169.0,154.1 169.5,153.6 170.0,154.9 170.5,156.1 171.0,156.8 171.5,155.3 172.0,156.2 172.5,155.3 173.0,155.8 173.5,155.3 174.0,157.0 174.5,154.5 175.0,152.9 175.5,155.3 176.0,154.8 176.5,153.7 177.0,155.1 177.5,154.4 178.0,152.8 178.5,153.5 179.0,154.4 179.5,155.1 180.0,154.2 180.5,153.9 181.0,154.2 181.5,153.2 182.0,152.8 182.5,154.3 183.0,152.3 183.5,152.6 184.0,151.9 184.5,155.4 185.0,154.7 185.5,153.8 186.0,155.9 186.5,156.5 187.0,155.7 187.5,155.6 188.0,154.7 188.5,153.5 189.0,157.0 189.5,156.8 190.0,156.4 190.5,156.8 191.0,156.0 191.5,156.0 192.0,155.4 192.5,154.6 193.0,154.9 193.5,156.6 194.0,154.4 194.5,155.4 195.0,154.4 195.5,157.0 196.0,155.2 196.5,155.8 197.0,156.1 197.5,155.3 198.0,154.6 198.5,156.0 199.0,155.3 199.5,154.7 200.0,156.2 200.5,153.9 201.0,154.2 201.5,151.6 202.0,150.7 202.5,149.5 203.0,143.0 203.5,143.5 204.0,147.1 204.5,150.7 205.0,152.4 205.5,154.5 206.0,154.6 206.5,155.3 207.0,156.1 207.5,154.9 208.0,157.6 208.5,156.0 209.0,154.7 209.5,156.9 210.0,156.2 210.5,156.1 211.0,154.5 211.5,157.4 212.0,155.6 212.5,157.2 213.0,158.0 213.5,156.8 214.0,157.2 214.5,156.8 215.0,155.5 215.5,156.9 216.0,157.5 216.5,155.5 217.0,157.1 217.5,158.8 218.0,158.7 218.5,157.5 219.0,158.0 219.5,158.7 220.0,157.3 220.5,158.0 221.0,157.6 221.5,158.2 222.0,158.8 222.5,158.0 223.0,157.7 223.5,157.9 224.0,157.6 224.5,158.3 225.0,158.2 225.5,156.2 226.0,157.4 226.5,158.6 227.0,158.2 227.5,157.2 228.0,159.0 228.5,157.8 229.0,157.2 229.5,158.3 230.0,158.8 230.5,159.3 231.0,160.5 231.5,159.2 232.0,156.5 232.5,158.7 233.0,158.5 233.5,156.8 234.0,155.3 234.5,154.4 235.0,153.6 235.5,147.1 236.0,146.8 236.5,154.4 237.0,156.0 237.5,158.0 238.0,157.2 238.5,157.1 239.0,157.0 239.5,158.8 240.0,159.1 240.5,158.4 241.0,158.0 241.5,159.6 242.0,159.6 242.5,158.3 243.0,159.5 243.5,158.9 244.0,160.1 244.5,158.9 245.0,159.7 245.5,158.4 246.0,159.8 246.5,159.8 247.0,158.3 247.5,158.4 248.0,160.0 248.5,159.5 249.0,160.6 249.5,159.5 250.0,160.8 250.5,157.9 251.0,160.1 251.5,161.8 252.0,161.4 252.5,161.3 253.0,159.0 253.5,161.2 254.0,160.3 254.5,159.4 255.0,161.5 255.5,159.9 256.0,161.2 256.5,160.4 257.0,159.1 257.5,159.8 258.0,160.3 258.5,159.5 259.0,159.5 259.5,159.6 260.0,161.4 260.5,160.8 261.0,159.5 261.5,159.0 262.0,160.0 262.5,160.3 263.0,160.2 263.5,159.3 264.0,160.8 264.5,160.8 265.0,162.0 265.5,160.8 266.0,159.2 266.5,159.6 267.0,161.0 267.5,161.3 268.0,162.1 268.5,160.6 269.0,163.0 269.5,161.8 270.0,161.9 270.5,160.9 271.0,161.8 271.5,160.2 272.0,157.4 272.5,160.8 273.0,161.0 273.5,161.3 274.0,161.2 274.5,159.0 275.0,159.3 275.5,161.4 276.0,158.8 276.5,157.5 277.0,159.1 277.5,160.5 278.0,156.4 278.5,155.5 279.0,157.1 279.5,158.1 280.0,158.6 280.5,160.3 281.0,160.8 281.5,158.7 282.0,160.6 282.5,161.8 283.0,161.7 283.5,161.1 284.0,159.4 284.5,160.2 285.0,161.7 285.5,161.7 286.0,161.7 286.5,160.4 287.0,161.3 287.5,162.8 288.0,160.7 288.5,160.4 289.0,161.8 289.5,160.3 290.0,162.7 290.5,161.3 291.0,160.9 291.5,160.9 292.0,162.1 292.5,159.9 293.0,161.7 293.5,160.6 294.0,161.4 294.5,161.1 295.0,162.3 295.5,160.6 296.0,160.6 296.5,161.0 297.0,160.9 297.5,161.5 298.0,159.4 298.5,160.8 299.0,161.4 299.5,162.3 300.0,160.3 300.5,160.5 301.0,161.9 301.5,159.8 302.0,159.3 302.5,157.2 303.0,153.7 303.5,149.6 304.0,139.1 304.5,126.9 305.0,135.5 305.5,145.0 306.0,154.2 306.5,157.9 307.0,159.2 307.5,160.3 308.0,160.8 308.5,159.4 309.0,159.8 309.5,159.9 310.0,161.3 310.5,161.4 311.0,161.6 311.5,161.5 312.0,162.9 312.5,162.1 313.0,161.9 313.5,161.8 314.0,164.0 314.5,162.8 315.0,161.6 315.5,161.4 316.0,163.5 316.5,162.8 317.0,161.2 317.5,162.6 318.0,164.2 318.5,162.7 319.0,161.7 319.5,162.6 320.0,161.0 320.5,164.2 321.0,164.2 321.5,162.2 322.0,162.8 322.5,162.3 323.0,162.4 323.5,162.0 324.0,162.7 324.5,162.7 325.0,162.4 325.5,163.5 326.0,160.3 326.5,159.9 327.0,160.5 327.5,159.2 328.0,157.8 328.5,158.8 329.0,160.7 329.5,159.4 330.0,161.0 330.5,161.5 331.0,163.1 331.5,163.9 332.0,162.6 332.5,164.0 333.0,160.8 333.5,164.4 334.0,162.5 334.5,162.5 335.0,163.3 335.5,163.5 336.0,164.1 336.5,163.1 337.0,164.4 337.5,164.1 338.0,165.0 338.5,163.6 339.0,164.1 339.5,163.7 340.0,163.7 340.5,164.5 341.0,162.9 341.5,165.5 342.0,162.9 342.5,163.2 343.0,165.1 343.5,163.8 344.0,162.4 344.5,165.3 345.0,165.4 345.5,165.5 346.0,164.8 346.5,163.2 347.0,164.3 347.5,165.5 348.0,164.6 348.5,164.2 349.0,166.9 349.5,165.6 350.0,163.2 350.5,162.0 351.0,164.2 351.5,163.2 352.0,162.4 352.5,164.8 353.0,163.0 353.5,163.2 354.0,163.1 354.5,163.9 355.0,165.2 355.5,164.4 356.0,162.1 356.5,164.2 357.0,162.0 357.5,162.0 358.0,160.8 358.5,160.7 359.0,161.4 359.5,162.0 360.0,163.0 360.5,163.5 361.0,164.2 361.5,164.6 362.0,164.4 362.5,163.1 363.0,162.7 363.5,164.8 364.0,165.3 364.5,163.6 365.0,165.2 365.5,165.1 366.0,166.5 366.5,164.0 367.0,164.7 367.5,163.7 368.0,164.3 368.5,165.2 369.0,163.9 369.5,164.9 370.0,165.7 370.5,166.5 371.0,167.4 371.5,166.7 372.0,165.5 372.5,164.8 373.0,165.8 373.5,164.7 374.0,164.2 374.5,163.8 375.0,164.0 375.5,165.8 376.0,164.1 376.5,165.6 377.0,165.3 377.5,166.1 378.0,166.0 378.5,163.5 379.0,163.4 379.5,164.0 380.0,164.3 380.5,165.4 381.0,165.7 381.5,164.5 382.0,165.8 382.5,165.0 383.0,165.8 383.5,166.1 384.0,165.6 384.5,163.3 385.0,163.4 385.5,165.3 386.0,164.6 386.5,164.8 387.0,165.5 387.5,166.4 388.0,164.9 388.5,164.6 389.0,164.3 389.5,164.2 390.0,162.0 390.5,164.0 391.0,164.8 391.5,164.5 392.0,164.9 392.5,165.1 393.0,164.1 393.5,164.4 394.0,164.7 394.5,165.0 395.0,165.2 395.5,164.5 396.0,164.6 396.5,165.6 397.0,164.3 397.5,166.6 398.0,165.5 398.5,165.9 399.0,163.9 399.5,165.6 400.0,165.4 400.5,163.7 401.0,166.7 401.5,165.8 402.0,166.1 402.5,164.1 403.0,165.4 403.5,165.9 404.0,166.0 404.5,166.1 405.0,167.3 405.5,166.4 406.0,166.5 406.5,165.9 407.0,166.4 407.5,166.1 408.0,164.3 408.5,166.5 409.0,164.3 409.5,166.7 410.0,165.6 410.5,167.7 411.0,166.4 411.5,167.4 412.0,166.7 412.5,166.0 413.0,167.5 413.5,165.4 414.0,165.5 414.5,167.9 415.0,166.5 415.5,167.3 416.0,164.4 416.5,167.0 417.0,164.5 417.5,165.5 418.0,164.8 418.5,165.0 419.0,166.5 419.5,166.2 420.0,166.2 420.5,166.1 421.0,166.2 421.5,165.4 422.0,166.7 422.5,167.0 423.0,167.7 423.5,166.1 424.0,168.2 424.5,165.1 425.0,166.2 425.5,166.6 426.0,166.9 426.5,164.6 427.0,165.7 427.5,166.6 428.0,166.0 428.5,167.3 429.0,166.4 429.5,165.4 430.0,165.8 430.5,164.8 431.0,165.4 431.5,167.1 432.0,166.8 432.5,166.1" fill="none" stroke="#1c1c8e" stroke-width="0.90" stroke-linejoin="round"/>
<path d="M34.5,161.8 35.0,161.5 35.5,162.0 36.0,161.4 36.5,161.3 37.0,159.8 37.5,159.5 38.0,161.5 38.5,159.6 39.0,161.9 39.5,161.3 40.0,161.3 40.5,160.7 41.0,161.2 41.5,161.2 42.0,161.7 42.5,161.8 43.0,161.5 43.5,161.9 44.0,162.9 44.5,162.4 45.0,163.0 45.5,162.6 46.0,161.1 46.5,163.7 47.0,163.1 47.5,164.1 48.0,163.7 48.5,161.9 49.0,163.5 49.5,163.2 50.0,161.3 50.5,162.5 51.0,162.3 51.5,164.2 52.0,164.2 52.5,161.4 53.0,162.7 53.5,163.8 54.0,163.2 54.5,162.2 55.0,164.3 55.5,161.6 56.0,164.7 56.5,165.0 57.0,164.2 57.5,165.4 58.0,162.2 58.5,163.1 59.0,164.0 59.5,163.4 60.0,163.7 60.5,163.9 61.0,163.5 61.5,164.8 62.0,165.8 62.5,164.9 63.0,163.5 63.5,163.4 64.0,163.8 64.5,164.4 65.0,164.7 65.5,163.3 66.0,165.9 66.5,163.0 67.0,164.1 67.5,164.3 68.0,163.6 68.5,163.2 69.0,162.4 69.5,164.7 70.0,164.7 70.5,163.9 71.0,165.1 71.5,166.0 72.0,164.9 72.5,165.8 73.0,164.7 73.5,168.2 74.0,165.3 74.5,166.8 75.0,167.7 75.5,167.0 76.0,166.8 76.5,167.1 77.0,165.7 77.5,166.3 78.0,166.3 78.5,168.3 79.0,166.5 79.5,167.3 80.0,166.3 80.5,165.8 81.0,167.6 81.5,167.6 82.0,166.5 82.5,166.0 83.0,166.1 83.5,166.0 84.0,165.6 84.5,168.0 85.0,166.9 85.5,165.8 86.0,166.1 86.5,167.2 87.0,169.8 87.5,169.8 88.0,168.3 88.5,166.3 89.0,167.1 89.5,166.6 90.0,167.2 90.5,168.1 91.0,168.6 91.5,167.4 92.0,167.1 92.5,168.2 93.0,166.5 93.5,168.1 94.0,168.0 94.5,168.6 95.0,166.9 95.5,168.3 96.0,168.2 96.5,164.8 97.0,162.9 97.5,156.5 98.0,161.5 98.5,167.6 99.0,167.6 99.5,167.6 100.0,167.2 100.5,168.7 101.0,169.0 101.5,168.3 102.0,167.3 102.5,168.3 103.0,168.8 103.5,169.9 104.0,169.9 104.5,169.9 105.0,169.9 105.5,170.1 106.0,169.6 106.5,167.7 107.0,168.6 107.5,170.2 108.0,169.7 108.5,169.3 109.0,170.2 109.5,169.7 110.0,169.7 110.5,170.0 111.0,170.5 111.5,170.4 112.0,169.2 112.5,169.1 113.0,168.1 113.5,169.1 114.0,168.6 114.5,168.9 115.0,170.4 115.5,168.7 116.0,169.2 116.5,168.0 117.0,168.2 117.5,167.6 118.0,168.2 118.5,170.2 119.0,170.3 119.5,171.3 120.0,170.9 120.5,168.0 121.0,169.4 121.5,171.3 122.0,171.9 122.5,171.2 123.0,170.3 123.5,169.6 124.0,171.2 124.5,172.0 125.0,172.0 125.5,173.2 126.0,170.3 126.5,171.3 127.0,171.3 127.5,170.6 128.0,169.9 128.5,171.0 129.0,172.2 129.5,171.3 130.0,170.8 130.5,172.4 131.0,171.4 131.5,172.8 132.0,170.9 132.5,170.6 133.0,172.8 133.5,173.4 134.0,171.3 134.5,171.9 135.0,172.6 135.5,170.9 136.0,171.1 136.5,171.6 137.0,171.8 137.5,171.4 138.0,171.0 138.5,171.1 139.0,173.3 139.5,171.5 140.0,170.2 140.5,174.7 141.0,173.3 141.5,172.7 142.0,172.2 142.5,173.2 143.0,173.8 143.5,172.0 144.0,171.9 144.5,171.1 145.0,173.7 145.5,171.8 146.0,172.7 146.5,172.5 147.0,171.3 147.5,173.2 148.0,173.6 148.5,171.5 149.0,173.4 149.5,174.4 150.0,172.8 150.5,174.2 151.0,174.8 151.5,174.7 152.0,172.4 152.5,173.6 153.0,174.0 153.5,173.1 154.0,173.8 154.5,173.1 155.0,175.2 155.5,174.3 156.0,172.7 156.5,175.2 157.0,173.4 157.5,174.5 158.0,175.0 158.5,173.4 159.0,176.8 159.5,173.9 160.0,174.6 160.5,175.8 161.0,172.6 161.5,173.6 162.0,174.9 162.5,174.4 163.0,174.8 163.5,174.4 164.0,174.4 164.5,176.4 165.0,174.8 165.5,173.7 166.0,175.4 166.5,175.1 167.0,174.4 167.5,173.9 168.0,173.0 168.5,172.6 169.0,174.4 169.5,174.9 170.0,175.1 170.5,175.4 171.0,178.4 171.5,175.1 172.0,175.9 172.5,176.2 173.0,175.8 173.5,175.3 174.0,176.5 174.5,175.9 175.0,175.5 175.5,177.7 176.0,176.0 176.5,175.6 177.0,174.7 177.5,175.1 178.0,176.1 178.5,174.3 179.0,175.3 179.5,175.1 180.0,173.9 180.5,176.2 181.0,175.5 181.5,175.8 182.0,174.5 182.5,174.3 183.0,172.9 183.5,173.0 184.0,174.0 184.5,172.4 185.0,175.2 185.5,175.8 186.0,175.8 186.5,174.5 187.0,175.6 187.5,177.0 188.0,177.0 188.5,174.4 189.0,175.2 189.5,177.7 190.0,176.2 190.5,176.1 191.0,177.7 191.5,176.3 192.0,176.4 192.5,175.8 193.0,175.9 193.5,176.6 194.0,177.9 194.5,177.1 195.0,178.9 195.5,177.4 196.0,176.3 196.5,177.1 197.0,176.4 197.5,174.9 198.0,174.5 198.5,175.1 199.0,177.4 199.5,175.3 200.0,175.5 200.5,175.4 201.0,173.2 201.5,173.2 202.0,169.0 202.5,165.4 203.0,166.5 203.5,164.6 204.0,165.4 204.5,168.2 205.0,171.6 205.5,174.3 206.0,175.5 206.5,176.6 207.0,174.4 207.5,175.4 208.0,174.8 208.5,178.5 209.0,176.2 209.5,178.0 210.0,176.9 210.5,178.3 211.0,177.9 211.5,178.5 212.0,176.7 212.5,178.1 213.0,178.4 213.5,177.7 214.0,178.1 214.5,177.7 215.0,176.8 215.5,179.4 216.0,177.7 216.5,177.5 217.0,178.3 217.5,175.4 218.0,176.2 218.5,178.0 219.0,177.6 219.5,178.6 220.0,178.9 220.5,178.1 221.0,178.4 221.5,179.4 222.0,178.0 222.5,177.0 223.0,178.0 223.5,177.4 224.0,179.2 224.5,181.0 225.0,179.8 225.5,181.3 226.0,179.0 226.5,178.4 227.0,178.8 227.5,179.8 228.0,179.8 228.5,177.9 229.0,179.4 229.5,179.7 230.0,176.7 230.5,177.8 231.0,177.2 231.5,177.6 232.0,177.8 232.5,178.0 233.0,179.0 233.5,180.0 234.0,177.6 234.5,176.4 235.0,173.7 235.5,169.2 236.0,167.7 236.5,172.9 237.0,177.2 237.5,177.9 238.0,177.8 238.5,178.3 239.0,178.8 239.5,179.2 240.0,178.6 240.5,179.5 241.0,178.7 241.5,179.3 242.0,179.6 242.5,179.6 243.0,180.0 243.5,180.1 244.0,180.8 244.5,181.1 245.0,180.2 245.5,180.6 246.0,180.7 246.5,181.1 247.0,180.5 247.5,179.3 248.0,180.6 248.5,179.7 249.0,179.8 249.5,180.7 250.0,179.8 250.5,181.7 251.0,180.5 251.5,180.8 252.0,179.4 252.5,181.5 253.0,180.4 253.5,180.4 254.0,180.7 254.5,180.1 255.0,178.9 255.5,180.9 256.0,180.2 256.5,182.5 257.0,180.8 257.5,179.7 258.0,180.6 258.5,181.1 259.0,182.1 259.5,179.0 260.0,180.3 260.5,181.2 261.0,181.9 261.5,180.6 262.0,180.7 262.5,182.3 263.0,181.3 263.5,181.8 264.0,180.3 264.5,182.6 265.0,182.9 265.5,180.7 266.0,181.7 266.5,181.0 267.0,181.9 267.5,180.5 268.0,180.0 268.5,180.1 269.0,179.8 269.5,180.6 270.0,180.3 270.5,181.1 271.0,181.0 271.5,180.6 272.0,182.2 272.5,182.9 273.0,180.5 273.5,181.2 274.0,181.0 274.5,179.9 275.0,182.2 275.5,179.7 276.0,179.8 276.5,181.7 277.0,179.6 277.5,178.6 278.0,177.5 278.5,174.8 279.0,176.9 279.5,177.8 280.0,181.4 280.5,180.8 281.0,181.2 281.5,181.2 282.0,181.7 282.5,181.0 283.0,180.0 283.5,179.5 284.0,182.1 284.5,181.7 285.0,181.5 285.5,181.2 286.0,182.1 286.5,181.9 287.0,182.7 287.5,181.6 288.0,183.4 288.5,183.0 289.0,182.1 289.5,180.8 290.0,181.4 290.5,180.9 291.0,182.1 291.5,181.2 292.0,182.9 292.5,182.5 293.0,181.7 293.5,182.9 294.0,182.3 294.5,181.9 295.0,181.7 295.5,181.1 296.0,181.8 296.5,183.0 297.0,183.5 297.5,182.9 298.0,180.0 298.5,180.3 299.0,181.2 299.5,178.7 300.0,180.8 300.5,180.8 301.0,181.8 301.5,179.4 302.0,179.3 302.5,179.1 303.0,176.3 303.5,170.6 304.0,159.1 304.5,149.2 305.0,157.4 305.5,167.1 306.0,175.9 306.5,177.6 307.0,178.9 307.5,179.9 308.0,182.3 308.5,181.6 309.0,182.0 309.5,182.5 310.0,182.1 310.5,182.3 311.0,181.7 311.5,182.0 312.0,183.4 312.5,183.4 313.0,183.0 313.5,182.6 314.0,183.4 314.5,183.2 315.0,183.1 315.5,182.5 316.0,184.5 316.5,185.1 317.0,184.0 317.5,183.4 318.0,182.6 318.5,182.4 319.0,183.0 319.5,183.3 320.0,183.3 320.5,182.8 321.0,183.3 321.5,183.5 322.0,182.7 322.5,183.7 323.0,183.5 323.5,183.4 324.0,183.3 324.5,182.4 325.0,181.9 325.5,182.3 326.0,184.8 326.5,181.6 327.0,181.1 327.5,182.0 328.0,180.2 328.5,179.7 329.0,181.2 329.5,184.0 330.0,183.6 330.5,183.2 331.0,182.3 331.5,182.7 332.0,183.8 332.5,184.4 333.0,184.5 333.5,183.3 334.0,184.2 334.5,184.3 335.0,182.3 335.5,185.2 336.0,183.8 336.5,183.3 337.0,183.4 337.5,184.2 338.0,182.9 338.5,182.6 339.0,182.2 339.5,182.9 340.0,184.9 340.5,183.9 341.0,185.0 341.5,184.2 342.0,183.4 342.5,182.9 343.0,182.5 343.5,183.8 344.0,186.1 344.5,183.9 345.0,182.3 345.5,181.2 346.0,182.4 346.5,184.1 347.0,182.2 347.5,184.5 348.0,184.3 348.5,185.3 349.0,186.9 349.5,184.1 350.0,182.4 350.5,184.5 351.0,186.2 351.5,186.5 352.0,186.0 352.5,186.2 353.0,185.3 353.5,186.2 354.0,185.2 354.5,184.3 355.0,184.0 355.5,185.2 356.0,184.5 356.5,183.2 357.0,182.5 357.5,183.9 358.0,180.8 358.5,179.7 359.0,182.2 359.5,182.1 360.0,182.4 360.5,185.3 361.0,184.4 361.5,186.0 362.0,186.0 362.5,184.7 363.0,187.4 363.5,186.2 364.0,185.5 364.5,185.3 365.0,185.3 365.5,184.9 366.0,186.2 366.5,184.4 367.0,186.8 367.5,184.3 368.0,184.8 368.5,185.5 369.0,185.5 369.5,184.2 370.0,185.0 370.5,187.3 371.0,186.1 371.5,185.1 372.0,184.9 372.5,185.3 373.0,184.1 373.5,184.2 374.0,185.1 374.5,186.9 375.0,186.4 375.5,185.2 376.0,185.0 376.5,186.1 377.0,184.2 377.5,184.7 378.0,184.7 378.5,183.5 379.0,186.7 379.5,187.0 380.0,188.5 380.5,185.1 381.0,185.4 381.5,184.4 382.0,184.3 382.5,183.6 383.0,184.5 383.5,185.9 384.0,185.0 384.5,185.7 385.0,186.8 385.5,187.0 386.0,186.2 386.5,186.6 387.0,187.1 387.5,185.5 388.0,184.3 388.5,182.5 389.0,184.8 389.5,183.1 390.0,182.1 390.5,182.1 391.0,185.3 391.5,186.6 392.0,186.2 392.5,185.4 393.0,184.1 393.5,184.0 394.0,184.7 394.5,186.2 395.0,187.2 395.5,186.2 396.0,185.5 396.5,186.2 397.0,185.8 397.5,186.1 398.0,187.5 398.5,186.6 399.0,185.4 399.5,184.9 400.0,185.7 400.5,186.0 401.0,187.9 401.5,187.3 402.0,186.1 402.5,187.3 403.0,186.4 403.5,185.2 404.0,186.4 404.5,186.4 405.0,185.3 405.5,186.0 406.0,185.3 406.5,185.1 407.0,187.9 407.5,188.2 408.0,186.7 408.5,184.5 409.0,187.3 409.5,188.0 410.0,187.4 410.5,185.9 411.0,186.6 411.5,187.4 412.0,189.0 412.5,187.2 413.0,186.5 413.5,186.4 414.0,187.0 414.5,185.2 415.0,186.8 415.5,185.6 416.0,186.1 416.5,187.1 417.0,188.8 417.5,187.0 418.0,189.0 418.5,186.7 419.0,188.8 419.5,187.0 420.0,186.6 420.5,187.7 421.0,187.6 421.5,186.5 422.0,187.0 422.5,186.5 423.0,187.1 423.5,184.4 424.0,185.2 424.5,186.4 425.0,186.8 425.5,185.6 426.0,187.8 426.5,187.0 427.0,188.1 427.5,187.7 428.0,186.7 428.5,185.5 429.0,187.2 429.5,187.6 430.0,188.6 430.5,186.4 431.0,187.0 431.5,185.7 432.0,185.8 432.5,185.6" fill="none" stroke="#1c1c8e" stroke-width="0.90" stroke-linejoin="round"/>
<path d="M34.5,181.9 35.0,180.4 35.5,181.2 36.0,182.2 36.5,180.9 37.0,179.6 37.5,180.1 38.0,182.8 38.5,183.6 39.0,182.9 39.5,182.9 40.0,183.7 40.5,181.3 41.0,181.2 41.5,180.5 42.0,182.2 42.5,182.5 43.0,183.4 43.5,181.5 44.0,183.2 44.5,183.1 45.0,182.9 45.5,183.2 46.0,184.1 46.5,181.6 47.0,183.5 47.5,183.5 48.0,183.9 48.5,185.3 49.0,182.8 49.5,183.7 50.0,183.5 50.5,183.8 51.0,184.6 51.5,184.6 52.0,183.9 52.5,184.6 53.0,184.8 53.5,184.5 54.0,183.7 54.5,185.2 55.0,184.5 55.5,184.2 56.0,184.0 56.5,184.0 57.0,186.6 57.5,185.8 58.0,185.0 58.5,184.7 59.0,185.2 59.5,185.4 60.0,186.0 60.5,184.0 61.0,184.8 61.5,184.8 62.0,185.7 62.5,184.5 63.0,184.9 63.5,183.8 64.0,187.5 64.5,185.6 65.0,185.4 65.5,188.0 66.0,185.2 66.5,183.2 67.0,186.7 67.5,186.9 68.0,186.2 68.5,185.4 69.0,186.3 69.5,184.1 70.0,183.1 70.5,184.9 71.0,187.3 71.5,186.9 72.0,186.2 72.5,186.9 73.0,187.7 73.5,187.0 74.0,187.0 74.5,187.7 75.0,187.0 75.5,186.2 76.0,185.9 76.5,186.6 77.0,186.8 77.5,188.1 78.0,188.0 78.5,187.4 79.0,187.3 79.5,188.6 80.0,188.0 80.5,188.4 81.0,187.0 81.5,187.6 82.0,186.8 82.5,185.6 83.0,184.6 83.5,186.7 84.0,188.2 84.5,188.8 85.0,188.1 85.5,187.9 86.0,186.7 86.5,188.0 87.0,187.4 87.5,187.5 88.0,187.1 88.5,187.8 89.0,188.0 89.5,187.0 90.0,188.6 90.5,188.7 91.0,189.8 91.5,189.8 92.0,188.9 92.5,190.1 93.0,188.4 93.5,186.6 94.0,188.3 94.5,188.2 95.0,187.4 95.5,186.8 96.0,189.2 96.5,186.1 97.0,183.8 97.5,179.2 98.0,182.7 98.5,186.9 99.0,189.3 99.5,187.2 100.0,188.4 100.5,188.2 101.0,189.6 101.5,188.8 102.0,189.3 102.5,191.0 103.0,189.6 103.5,189.5 104.0,191.0 104.5,191.5 105.0,188.2 105.5,189.2 106.0,188.1 106.5,190.2 107.0,189.3 107.5,189.2 108.0,190.7 108.5,191.7 109.0,191.0 109.5,188.9 110.0,189.7 110.5,188.9 111.0,192.6 111.5,190.8 112.0,189.3 112.5,190.7 113.0,192.9 113.5,190.3 114.0,189.2 114.5,190.4 115.0,190.8 115.5,190.7 116.0,191.7 116.5,187.8 117.0,189.2 117.5,188.6 118.0,187.9 118.5,189.8 119.0,191.2 119.5,191.5 120.0,191.1 120.5,192.3 121.0,191.5 121.5,192.4 122.0,191.8 122.5,191.8 123.0,190.7 123.5,191.9 124.0,192.2 124.5,193.2 125.0,192.6 125.5,191.1 126.0,193.1 126.5,192.9 127.0,192.9 127.5,191.5 128.0,191.9 128.5,192.0 129.0,191.6 129.5,192.3 130.0,191.0 130.5,191.0 131.0,193.2 131.5,191.4 132.0,194.3 132.5,192.9 133.0,192.0 133.5,193.5 134.0,191.8 134.5,193.8 135.0,191.9 135.5,193.9 136.0,192.5 136.5,192.1 137.0,194.3 137.5,194.5 138.0,192.9 138.5,192.9 139.0,191.9 139.5,192.8 140.0,193.9 140.5,193.1 141.0,193.0 141.5,191.8 142.0,193.9 142.5,192.9 143.0,194.3 143.5,195.1 144.0,193.7 144.5,193.1 145.0,193.6 145.5,193.8 146.0,193.0 146.5,193.3 147.0,191.5 147.5,194.0 148.0,193.5 148.5,195.4 149.0,193.7 149.5,194.3 150.0,194.5 150.5,194.4 151.0,195.7 151.5,194.5 152.0,194.4 152.5,194.8 153.0,194.4 153.5,195.1 154.0,193.7 154.5,195.0 155.0,193.0 155.5,194.1 156.0,193.7 156.5,194.0 157.0,194.6 157.5,194.8 158.0,195.1 158.5,193.5 159.0,196.4 159.5,195.2 160.0,194.7 160.5,194.5 161.0,195.9 161.5,194.1 162.0,194.9 162.5,195.5 163.0,194.8 163.5,194.3 164.0,194.1 164.5,195.8 165.0,195.6 165.5,196.5 166.0,196.6 166.5,197.0 167.0,194.2 167.5,196.1 168.0,194.7 168.5,194.5 169.0,194.5 169.5,195.2 170.0,196.8 170.5,196.6 171.0,196.7 171.5,194.4 172.0,197.6 172.5,196.5 173.0,197.2 173.5,196.5 174.0,196.3 174.5,194.8 175.0,195.8 175.5,193.1 176.0,195.3 176.5,194.7 177.0,196.2 177.5,196.6 178.0,195.9 178.5,196.2 179.0,195.7 179.5,197.3 180.0,195.1 180.5,196.2 181.0,193.9 181.5,195.6 182.0,195.1 182.5,193.9 183.0,193.4 183.5,193.4 184.0,193.2 184.5,194.6 185.0,196.8 185.5,197.6 186.0,197.7 186.5,195.9 187.0,197.5 187.5,197.0 188.0,196.5 188.5,196.8 189.0,197.9 189.5,196.9 190.0,196.2 190.5,196.4 191.0,197.3 191.5,196.3 192.0,196.5 192.5,197.1 193.0,197.1 193.5,195.0 194.0,196.1 194.5,197.2 195.0,198.0 195.5,197.5 196.0,196.8 196.5,196.2 197.0,197.0 197.5,197.6 198.0,198.0 198.5,197.6 199.0,195.6 199.5,196.4 200.0,197.6 200.5,196.6 201.0,195.1 201.5,193.8 202.0,191.4 202.5,189.0 203.0,186.6 203.5,184.1 204.0,186.9 204.5,190.5 205.0,191.9 205.5,194.1 206.0,195.3 206.5,196.4 207.0,197.5 207.5,197.8 208.0,197.6 208.5,198.3 209.0,197.2 209.5,198.6 210.0,197.4 210.5,199.7 211.0,198.0 211.5,198.4 212.0,198.2 212.5,198.4 213.0,198.4 213.5,197.8 214.0,198.0 214.5,199.3 215.0,199.8 215.5,198.6 216.0,199.9 216.5,198.7 217.0,198.6 217.5,197.9 218.0,199.1 218.5,201.1 219.0,198.2 219.5,198.9 220.0,200.1 220.5,198.5 221.0,199.4 221.5,201.2 222.0,198.9 222.5,200.1 223.0,201.2 223.5,200.7 224.0,197.9 224.5,199.1 225.0,199.5 225.5,199.3 226.0,198.9 226.5,199.4 227.0,199.1 227.5,199.1 228.0,199.4 228.5,199.0 229.0,199.2 229.5,201.4 230.0,200.6 230.5,199.8 231.0,198.2 231.5,198.8 232.0,200.3 232.5,198.9 233.0,198.9 233.5,198.8 234.0,198.0 234.5,197.7 235.0,195.5 235.5,188.5 236.0,189.1 236.5,194.1 237.0,196.0 237.5,196.6 238.0,199.8 238.5,198.6 239.0,199.5 239.5,200.3 240.0,201.8 240.5,202.2 241.0,201.1 241.5,198.7 242.0,197.1 242.5,200.7 243.0,199.5 243.5,200.0 244.0,199.6 244.5,199.8 245.0,202.7 245.5,199.7 246.0,201.5 246.5,201.3 247.0,200.9 247.5,201.6 248.0,199.8 248.5,200.7 249.0,199.5 249.5,201.4 250.0,202.0 250.5,199.8 251.0,200.7 251.5,202.1 252.0,201.1 252.5,200.7 253.0,199.7 253.5,203.1 254.0,203.0 254.5,199.3 255.0,202.2 255.5,202.0 256.0,200.8 256.5,200.1 257.0,200.3 257.5,201.0 258.0,200.6 258.5,201.5 259.0,202.1 259.5,199.9 260.0,203.2 260.5,200.5 261.0,202.1 261.5,202.2 262.0,201.7 262.5,199.7 263.0,202.8 263.5,200.7 264.0,202.8 264.5,202.4 265.0,199.1 265.5,202.1 266.0,202.4 266.5,202.5 267.0,201.3 267.5,202.4 268.0,203.5 268.5,202.5 269.0,203.4 269.5,202.7 270.0,200.4 270.5,201.5 271.0,201.1 271.5,200.6 272.0,201.1 272.5,201.6 273.0,203.6 273.5,204.0 274.0,200.8 274.5,200.1 275.0,201.3 275.5,202.7 276.0,201.2 276.5,200.1 277.0,200.6 277.5,201.1 278.0,199.0 278.5,198.9 279.0,198.6 279.5,200.4 280.0,198.7 280.5,201.9 281.0,202.0 281.5,200.6 282.0,201.5 282.5,202.7 283.0,203.3 283.5,202.3 284.0,202.7 284.5,202.3 285.0,200.8 285.5,203.7 286.0,202.4 286.5,203.1 287.0,201.3 287.5,202.7 288.0,203.6 288.5,203.3 289.0,204.0 289.5,203.4 290.0,201.7 290.5,203.1 291.0,203.0 291.5,202.2 292.0,201.6 292.5,202.0 293.0,202.4 293.5,203.3 294.0,204.5 294.5,203.2 295.0,204.0 295.5,203.1 296.0,202.5 296.5,203.0 297.0,202.2 297.5,203.8 298.0,201.6 298.5,202.3 299.0,200.4 299.5,204.0 300.0,202.1 300.5,202.8 301.0,203.6 301.5,202.1 302.0,201.0 302.5,199.7 303.0,195.8 303.5,191.4 304.0,180.4 304.5,170.0 305.0,177.4 305.5,190.7 306.0,194.5 306.5,199.7 307.0,200.2 307.5,201.4 308.0,201.0 308.5,202.7 309.0,203.4 309.5,201.9 310.0,202.5 310.5,204.2 311.0,203.9 311.5,203.4 312.0,203.7 312.5,204.5 313.0,204.1 313.5,205.4 314.0,203.9 314.5,203.3 315.0,205.0 315.5,205.2 316.0,203.8 316.5,205.6 317.0,204.8 317.5,203.4 318.0,202.2 318.5,204.9 319.0,201.8 319.5,203.8 320.0,203.3 320.5,204.7 321.0,204.3 321.5,203.4 322.0,204.4 322.5,203.4 323.0,204.1 323.5,203.7 324.0,203.4 324.5,203.4 325.0,203.9 325.5,201.8 326.0,201.9 326.5,203.3 327.0,201.8 327.5,202.8 328.0,199.3 328.5,197.9 329.0,201.2 329.5,202.5 330.0,203.3 330.5,204.1 331.0,203.2 331.5,204.7 332.0,205.8 332.5,204.4 333.0,204.9 333.5,204.1 334.0,205.2 334.5,204.3 335.0,204.3 335.5,205.9 336.0,204.5 336.5,204.6 337.0,205.8 337.5,205.2 338.0,204.8 338.5,204.6 339.0,205.5 339.5,202.9 340.0,203.2 340.5,203.5 341.0,204.6 341.5,206.4 342.0,205.7 342.5,205.7 343.0,205.6 343.5,204.3 344.0,204.1 344.5,205.4 345.0,205.7 345.5,207.2 346.0,206.6 346.5,206.5 347.0,205.2 347.5,205.0 348.0,202.9 348.5,205.1 349.0,205.2 349.5,205.9 350.0,207.0 350.5,206.0 351.0,204.7 351.5,206.0 352.0,205.7 352.5,203.3 353.0,204.3 353.5,206.0 354.0,205.6 354.5,205.5 355.0,205.7 355.5,204.2 356.0,206.2 356.5,204.5 357.0,204.6 357.5,203.7 358.0,202.4 358.5,201.2 359.0,204.6 359.5,202.9 360.0,204.3 360.5,204.3 361.0,204.0 361.5,204.4 362.0,204.7 362.5,204.3 363.0,206.6 363.5,205.5 364.0,204.2 364.5,205.3 365.0,204.8 365.5,205.7 366.0,206.3 366.5,205.5 367.0,207.0 367.5,206.3 368.0,206.2 368.5,205.2 369.0,206.5 369.5,204.6 370.0,206.7 370.5,206.6 371.0,207.6 371.5,205.6 372.0,206.3 372.5,207.1 373.0,206.1 373.5,204.5 374.0,206.0 374.5,207.1 375.0,207.4 375.5,207.3 376.0,206.5 376.5,205.4 377.0,206.6 377.5,208.2 378.0,207.5 378.5,207.2 379.0,207.8 379.5,208.1 380.0,207.6 380.5,206.0 381.0,205.7 381.5,205.1 382.0,206.8 382.5,207.6 383.0,206.6 383.5,206.6 384.0,207.4 384.5,206.9 385.0,206.4 385.5,206.1 386.0,206.7 386.5,206.9 387.0,205.4 387.5,204.9 388.0,207.1 388.5,207.3 389.0,203.6 389.5,204.7 390.0,203.9 390.5,203.9 391.0,205.7 391.5,206.0 392.0,205.6 392.5,207.1 393.0,207.6 393.5,208.7 394.0,204.9 394.5,206.4 395.0,206.5 395.5,206.3 396.0,205.7 396.5,207.5 397.0,204.8 397.5,204.7 398.0,206.2 398.5,207.9 399.0,204.1 399.5,207.4 400.0,206.8 400.5,205.6 401.0,208.3 401.5,208.0 402.0,206.8 402.5,208.2 403.0,206.8 403.5,208.7 404.0,208.1 404.5,207.3 405.0,205.5 405.5,206.1 406.0,206.7 406.5,207.5 407.0,208.0 407.5,207.2 408.0,208.2 408.5,207.8 409.0,208.8 409.5,208.2 410.0,206.3 410.5,206.9 411.0,207.2 411.5,207.9 412.0,207.4 412.5,208.3 413.0,205.8 413.5,205.4 414.0,207.9 414.5,208.1 415.0,205.0 415.5,206.3 416.0,205.3 416.5,206.8 417.0,207.7 417.5,207.9 418.0,207.4 418.5,208.5 419.0,207.6 419.5,209.3 420.0,205.9 420.5,206.5 421.0,207.5 421.5,208.0 422.0,209.3 422.5,207.2 423.0,207.8 423.5,206.8 424.0,207.6 424.5,209.8 425.0,206.7 425.5,208.9 426.0,207.5 426.5,207.5 427.0,206.8 427.5,207.1 428.0,206.9 428.5,208.5 429.0,209.3 429.5,207.2 430.0,208.5 430.5,207.7 431.0,208.7 431.5,208.6 432.0,209.2 432.5,208.0" fill="none" stroke="#1c1c8e" stroke-width="0.90" stroke-linejoin="round"/>
<path d="M34.5,226.7 35.0,226.9 35.5,228.5 36.0,227.8 36.5,228.3 37.0,227.0 37.5,227.3 38.0,227.6 38.5,227.1 39.0,228.4 39.5,228.7 40.0,228.9 40.5,230.1 41.0,229.8 41.5,227.4 42.0,228.3 42.5,228.8 43.0,227.1 43.5,227.9 44.0,230.6 44.5,226.8 45.0,227.7 45.5,228.6 46.0,229.9 46.5,230.9 47.0,230.2 47.5,228.1 48.0,227.8 48.5,227.5 49.0,230.7 49.5,229.7 50.0,227.7 50.5,231.2 51.0,230.3 51.5,231.4 52.0,229.6 52.5,228.5 53.0,230.2 53.5,229.9 54.0,230.7 54.5,231.3 55.0,229.5 55.5,230.7 56.0,229.8 56.5,228.7 57.0,231.2 57.5,231.4 58.0,231.6 58.5,230.0 59.0,230.8 59.5,230.8 60.0,229.3 60.5,229.2 61.0,231.6 61.5,231.5 62.0,231.0 62.5,231.8 63.0,231.2 63.5,230.5 64.0,231.4 64.5,232.4 65.0,231.8 65.5,232.3 66.0,232.3 66.5,232.9 67.0,230.5 67.5,230.9 68.0,230.8 68.5,230.7 69.0,229.3 69.5,231.5 70.0,231.2 70.5,230.6 71.0,231.1 71.5,232.8 72.0,232.7 72.5,231.2 73.0,232.0 73.5,233.8 74.0,232.5 74.5,232.5 75.0,232.6 75.5,233.0 76.0,233.0 76.5,233.0 77.0,233.0 77.5,233.0 78.0,232.0 78.5,232.1 79.0,233.5 79.5,232.1 80.0,233.1 80.5,231.6 81.0,232.4 81.5,232.3 82.0,233.4 82.5,232.6 83.0,232.6 83.5,232.0 84.0,233.6 84.5,232.8 85.0,234.4 85.5,233.2 86.0,232.3 86.5,233.6 87.0,233.9 87.5,234.1 88.0,234.6 88.5,234.6 89.0,232.4 89.5,234.5 90.0,235.9 90.5,235.4 91.0,233.4 91.5,233.3 92.0,233.8 92.5,233.7 93.0,233.8 93.5,233.4 94.0,235.5 94.5,234.6 95.0,236.6 95.5,234.3 96.0,234.2 96.5,232.2 97.0,229.2 97.5,221.5 98.0,227.4 98.5,232.3 99.0,234.4 99.5,233.5 100.0,232.6 100.5,235.0 101.0,235.4 101.5,235.6 102.0,235.7 102.5,236.8 103.0,236.1 103.5,234.8 104.0,235.5 104.5,234.9 105.0,236.4 105.5,235.0 106.0,237.2 106.5,236.8 107.0,236.7 107.5,235.6 108.0,236.1 108.5,235.5 109.0,236.3 109.5,236.0 110.0,235.8 110.5,236.3 111.0,236.8 111.5,237.5 112.0,237.1 112.5,236.9 113.0,238.2 113.5,236.4 114.0,236.2 114.5,234.7 115.0,238.0 115.5,236.4 116.0,233.1 116.5,234.7 117.0,234.9 117.5,236.0 118.0,236.7 118.5,236.5 119.0,236.1 119.5,237.6 120.0,237.6 120.5,236.9 121.0,238.1 121.5,235.1 122.0,238.2 122.5,237.6 123.0,239.1 123.5,238.2 124.0,238.9 124.5,237.5 125.0,237.7 125.5,239.2 126.0,237.5 126.5,235.6 127.0,236.4 127.5,237.4 128.0,237.6 128.5,237.6 129.0,238.6 129.5,240.5 130.0,238.4 130.5,237.9 131.0,236.4 131.5,237.7 132.0,238.3 132.5,240.2 133.0,238.5 133.5,240.0 134.0,237.9 134.5,237.4 135.0,239.3 135.5,240.7 136.0,240.6 136.5,239.5 137.0,238.3 137.5,238.2 138.0,238.4 138.5,237.7 139.0,239.7 139.5,238.8 140.0,240.1 140.5,241.2 141.0,238.6 141.5,239.5 142.0,237.4 142.5,238.9 143.0,240.6 143.5,237.7 144.0,237.7 144.5,240.8 145.0,240.1 145.5,238.9 146.0,238.5 146.5,238.2 147.0,239.7 147.5,240.0 148.0,238.8 148.5,239.3 149.0,239.0 149.5,240.9 150.0,239.4 150.5,240.5 151.0,239.5 151.5,240.8 152.0,239.5 152.5,241.8 153.0,240.0 153.5,241.0 154.0,241.2 154.5,239.8 155.0,240.7 155.5,240.4 156.0,240.8 156.5,241.1 157.0,240.5 157.5,241.8 158.0,239.7 158.5,240.3 159.0,241.4 159.5,241.4 160.0,240.0 160.5,241.4 161.0,241.8 161.5,241.0 162.0,240.9 162.5,240.5 163.0,240.5 163.5,239.3 164.0,240.3 164.5,241.2 165.0,240.4 165.5,241.4 166.0,240.3 166.5,240.1 167.0,241.9 167.5,240.6 168.0,242.1 168.5,243.2 169.0,241.1 169.5,241.2 170.0,241.8 170.5,241.6 171.0,241.3 171.5,240.3 172.0,241.0 172.5,243.0 173.0,241.3 173.5,242.0 174.0,240.6 174.5,240.5 175.0,242.0 175.5,242.1 176.0,241.8 176.5,241.6 177.0,241.2 177.5,240.7 178.0,242.2 178.5,242.3 179.0,242.3 179.5,240.3 180.0,239.4 180.5,241.9 181.0,242.0 181.5,240.2 182.0,240.1 182.5,240.4 183.0,240.4 183.5,238.0 184.0,238.4 184.5,239.1 185.0,240.5 185.5,240.9 186.0,242.5 186.5,243.5 187.0,243.7 187.5,243.8 188.0,242.9 188.5,242.4 189.0,241.3 189.5,243.0 190.0,243.9 190.5,243.0 191.0,241.7 191.5,242.1 192.0,242.2 192.5,242.0 193.0,245.1 193.5,241.9 194.0,243.7 194.5,243.1 195.0,242.8 195.5,244.3 196.0,242.9 196.5,243.3 197.0,244.0 197.5,242.9 198.0,242.0 198.5,242.9 199.0,242.4 199.5,243.2 200.0,241.7 200.5,241.3 201.0,239.7 201.5,238.5 202.0,233.6 202.5,232.9 203.0,226.1 203.5,223.7 204.0,227.8 204.5,235.2 205.0,237.1 205.5,237.8 206.0,241.5 206.5,241.0 207.0,241.4 207.5,242.2 208.0,243.8 208.5,245.0 209.0,242.4 209.5,243.5 210.0,242.8 210.5,243.3 211.0,244.2 211.5,242.0 212.0,241.8 212.5,242.9 213.0,242.9 213.5,244.0 214.0,245.3 214.5,244.3 215.0,244.2 215.5,244.9 216.0,243.5 216.5,243.5 217.0,245.2 217.5,245.2 218.0,243.3 218.5,244.3 219.0,244.3 219.5,245.6 220.0,244.3 220.5,244.1 221.0,244.8 221.5,244.1 222.0,246.3 222.5,244.6 223.0,244.6 223.5,245.2 224.0,245.3 224.5,247.7 225.0,246.5 225.5,245.5 226.0,243.6 226.5,246.6 227.0,245.6 227.5,245.2 228.0,246.9 228.5,246.1 229.0,244.0 229.5,244.3 230.0,244.5 230.5,244.7 231.0,244.6 231.5,244.7 232.0,245.5 232.5,245.2 233.0,245.2 233.5,245.1 234.0,243.9 234.5,242.6 235.0,238.8 235.5,234.4 236.0,233.0 236.5,239.5 237.0,242.5 237.5,243.5 238.0,244.0 238.5,244.3 239.0,245.1 239.5,245.6 240.0,244.7 240.5,246.6 241.0,244.6 241.5,245.4 242.0,246.4 242.5,245.8 243.0,245.4 243.5,245.5 244.0,246.3 244.5,247.7 245.0,245.1 245.5,245.8 246.0,246.4 246.5,244.9 247.0,247.5 247.5,248.1 248.0,245.4 248.5,244.7 249.0,247.5 249.5,246.2 250.0,246.6 250.5,246.8 251.0,247.2 251.5,245.2 252.0,246.5 252.5,247.8 253.0,247.7 253.5,246.9 254.0,245.1 254.5,245.9 255.0,246.3 255.5,247.3 256.0,245.8 256.5,247.2 257.0,246.1 257.5,245.8 258.0,247.6 258.5,246.8 259.0,246.7 259.5,247.7 260.0,246.8 260.5,247.8 261.0,248.2 261.5,247.1 262.0,247.9 262.5,244.9 263.0,246.5 263.5,246.4 264.0,248.3 264.5,247.9 265.0,248.9 265.5,247.4 266.0,246.7 266.5,247.4 267.0,246.6 267.5,248.4 268.0,245.7 268.5,248.3 269.0,246.8 269.5,246.9 270.0,247.4 270.5,247.4 271.0,247.5 271.5,249.5 272.0,247.3 272.5,247.6 273.0,247.3 273.5,246.7 274.0,246.5 274.5,247.4 275.0,247.9 275.5,247.9 276.0,247.2 276.5,246.1 277.0,245.6 277.5,245.2 278.0,245.4 278.5,242.7 279.0,243.0 279.5,244.2 280.0,246.8 280.5,245.6 281.0,245.9 281.5,247.1 282.0,247.3 282.5,247.4 283.0,247.2 283.5,246.0 284.0,248.7 284.5,247.0 285.0,246.4 285.5,248.0 286.0,246.9 286.5,248.9 287.0,251.0 287.5,247.8 288.0,247.8 288.5,248.9 289.0,247.1 289.5,247.3 290.0,247.8 290.5,247.1 291.0,248.8 291.5,249.3 292.0,248.7 292.5,249.3 293.0,247.9 293.5,246.7 294.0,249.2 294.5,249.6 295.0,249.4 295.5,246.7 296.0,248.1 296.5,248.3 297.0,247.4 297.5,248.6 298.0,248.9 298.5,248.1 299.0,248.1 299.5,248.7 300.0,247.8 300.5,248.2 301.0,246.7 301.5,249.9 302.0,247.1 302.5,246.6 303.0,243.2 303.5,237.8 304.0,228.0 304.5,218.1 305.0,225.4 305.5,237.5 306.0,242.1 306.5,244.0 307.0,246.0 307.5,247.3 308.0,249.0 308.5,248.9 309.0,249.2 309.5,246.3 310.0,247.3 310.5,248.2 311.0,248.0 311.5,250.5 312.0,251.0 312.5,250.5 313.0,248.1 313.5,248.3 314.0,246.8 314.5,250.0 315.0,250.8 315.5,250.4 316.0,249.3 316.5,247.5 317.0,247.2 317.5,251.0 318.0,249.8 318.5,249.7 319.0,252.3 319.5,251.5 320.0,249.3 320.5,248.4 321.0,248.0 321.5,249.1 322.0,251.6 322.5,250.2 323.0,250.6 323.5,249.8 324.0,250.0 324.5,250.2 325.0,251.3 325.5,250.1 326.0,249.0 326.5,249.1 327.0,250.2 327.5,247.8 328.0,247.9 328.5,250.6 329.0,247.7 329.5,249.1 330.0,251.2 330.5,248.4 331.0,248.2 331.5,248.9 332.0,251.4 332.5,252.0 333.0,248.7 333.5,250.6 334.0,249.3 334.5,250.4 335.0,250.0 335.5,250.3 336.0,250.5 336.5,249.6 337.0,249.1 337.5,250.4 338.0,250.5 338.5,250.7 339.0,249.9 339.5,251.0 340.0,250.7 340.5,252.0 341.0,249.2 341.5,249.4 342.0,250.0 342.5,252.5 343.0,250.9 343.5,250.3 344.0,250.7 344.5,249.9 345.0,249.7 345.5,249.9 346.0,251.0 346.5,252.1 347.0,253.4 347.5,251.6 348.0,251.5 348.5,251.8 349.0,251.1 349.5,250.9 350.0,251.3 350.5,252.1 351.0,251.7 351.5,250.0 352.0,253.6 352.5,250.1 353.0,250.3 353.5,250.0 354.0,250.8 354.5,249.8 355.0,251.0 355.5,251.4 356.0,251.4 356.5,251.3 357.0,249.8 357.5,250.6 358.0,249.8 358.5,248.8 359.0,249.6 359.5,251.2 360.0,251.0 360.5,249.6 361.0,251.1 361.5,251.5 362.0,250.3 362.5,252.6 363.0,251.3 363.5,251.3 364.0,251.3 364.5,250.5 365.0,252.3 365.5,251.0 366.0,251.3 366.5,251.7 367.0,253.1 367.5,253.2 368.0,252.4 368.5,252.5 369.0,252.0 369.5,251.8 370.0,251.5 370.5,252.3 371.0,254.0 371.5,252.2 372.0,252.3 372.5,252.4 373.0,251.9 373.5,250.7 374.0,250.9 374.5,251.5 375.0,251.4 375.5,251.6 376.0,250.9 376.5,252.3 377.0,250.9 377.5,254.4 378.0,251.4 378.5,252.2 379.0,251.5 379.5,251.1 380.0,253.7 380.5,251.6 381.0,252.3 381.5,253.1 382.0,253.0 382.5,252.8 383.0,250.9 383.5,250.3 384.0,251.7 384.5,252.7 385.0,251.2 385.5,252.6 386.0,252.7 386.5,250.9 387.0,251.6 387.5,251.5 388.0,252.0 388.5,251.3 389.0,250.9 389.5,249.3 390.0,249.3 390.5,251.4 391.0,252.2 391.5,251.8 392.0,251.6 392.5,252.3 393.0,252.4 393.5,250.8 394.0,251.0 394.5,251.5 395.0,252.8 395.5,250.5 396.0,252.9 396.5,252.1 397.0,252.1 397.5,253.5 398.0,253.6 398.5,254.3 399.0,252.3 399.5,252.5 400.0,252.8 400.5,251.5 401.0,253.3 401.5,252.5 402.0,250.5 402.5,251.5 403.0,252.2 403.5,252.4 404.0,252.2 404.5,252.4 405.0,253.5 405.5,252.7 406.0,252.8 406.5,254.1 407.0,252.7 407.5,253.3 408.0,253.4 408.5,254.1 409.0,250.9 409.5,252.9 410.0,252.6 410.5,252.6 411.0,253.7 411.5,254.2 412.0,253.6 412.5,253.4 413.0,252.3 413.5,251.0 414.0,252.3 414.5,253.3 415.0,254.1 415.5,252.5 416.0,252.4 416.5,252.1 417.0,251.9 417.5,252.1 418.0,252.1 418.5,253.1 419.0,253.9 419.5,253.7 420.0,253.5 420.5,253.5 421.0,253.3 421.5,252.9 422.0,252.3 422.5,252.9 423.0,253.7 423.5,255.5 424.0,253.1 424.5,253.6 425.0,254.2 425.5,254.5 426.0,254.7 426.5,253.9 427.0,251.9 427.5,252.4 428.0,254.1 428.5,252.9 429.0,253.9 429.5,253.4 430.0,252.6 430.5,254.2 431.0,252.3 431.5,255.4 432.0,255.0 432.5,253.6" fill="none" stroke="#c8141e" stroke-width="0.90" stroke-linejoin="round"/>
<path d="M34.5,247.2 35.0,249.5 35.5,247.7 36.0,248.7 36.5,249.0 37.0,250.4 37.5,249.1 38.0,251.8 38.5,249.6 39.0,251.8 39.5,250.6 40.0,250.1 40.5,247.2 41.0,248.3 41.5,249.8 42.0,248.9 42.5,248.2 43.0,248.1 43.5,250.4 44.0,251.6 44.5,251.2 45.0,247.8 45.5,250.0 46.0,251.7 46.5,248.0 47.0,250.6 47.5,250.4 48.0,250.2 48.5,252.2 49.0,250.1 49.5,250.0 50.0,253.1 50.5,252.3 51.0,253.0 51.5,251.0 52.0,250.8 52.5,251.3 53.0,250.3 53.5,251.5 54.0,251.5 54.5,252.2 55.0,252.0 55.5,250.9 56.0,253.5 56.5,251.4 57.0,251.8 57.5,253.2 58.0,251.9 58.5,253.7 59.0,253.6 59.5,252.1 60.0,250.6 60.5,251.0 61.0,251.5 61.5,252.7 62.0,251.7 62.5,252.9 63.0,253.3 63.5,254.1 64.0,250.6 64.5,251.5 65.0,252.7 65.5,251.9 66.0,252.3 66.5,251.6 67.0,251.5 67.5,251.1 68.0,252.9 68.5,252.5 69.0,250.9 69.5,251.2 70.0,254.5 70.5,251.9 71.0,252.0 71.5,251.3 72.0,253.9 72.5,253.1 73.0,253.8 73.5,252.9 74.0,254.1 74.5,253.9 75.0,254.1 75.5,253.5 76.0,253.0 76.5,254.6 77.0,252.9 77.5,254.5 78.0,252.8 78.5,255.5 79.0,254.9 79.5,255.2 80.0,254.4 80.5,254.7 81.0,252.9 81.5,254.6 82.0,252.9 82.5,253.2 83.0,252.1 83.5,252.6 84.0,255.0 84.5,253.5 85.0,254.4 85.5,254.8 86.0,253.8 86.5,255.8 87.0,254.6 87.5,252.8 88.0,256.0 88.5,254.3 89.0,254.8 89.5,254.2 90.0,254.4 90.5,255.9 91.0,255.6 91.5,255.1 92.0,256.7 92.5,254.7 93.0,255.7 93.5,254.6 94.0,256.8 94.5,255.3 95.0,255.9 95.5,255.8 96.0,256.6 96.5,253.7 97.0,251.7 97.5,244.1 98.0,248.3 98.5,253.4 99.0,254.8 99.5,255.5 100.0,256.6 100.5,256.0 101.0,258.2 101.5,259.0 102.0,257.7 102.5,255.6 103.0,256.6 103.5,254.6 104.0,256.2 104.5,257.3 105.0,257.9 105.5,257.6 106.0,258.5 106.5,257.5 107.0,259.1 107.5,254.7 108.0,255.5 108.5,258.2 109.0,256.7 109.5,258.1 110.0,257.5 110.5,256.8 111.0,256.2 111.5,256.8 112.0,257.0 112.5,258.2 113.0,258.3 113.5,257.4 114.0,257.1 114.5,257.4 115.0,256.2 115.5,255.9 116.0,257.3 116.5,255.4 117.0,255.2 117.5,254.8 118.0,254.8 118.5,255.8 119.0,259.3 119.5,258.7 120.0,256.3 120.5,256.6 121.0,257.5 121.5,259.3 122.0,258.7 122.5,261.2 123.0,258.9 123.5,261.3 124.0,259.9 124.5,259.4 125.0,259.8 125.5,259.3 126.0,259.6 126.5,257.6 127.0,257.5 127.5,257.7 128.0,260.2 128.5,258.7 129.0,259.1 129.5,260.7 130.0,260.6 130.5,257.1 131.0,259.8 131.5,259.3 132.0,259.9 132.5,260.9 133.0,258.6 133.5,260.3 134.0,259.7 134.5,260.2 135.0,259.3 135.5,260.7 136.0,258.9 136.5,259.6 137.0,260.5 137.5,258.6 138.0,259.5 138.5,257.8 139.0,259.8 139.5,260.4 140.0,261.2 140.5,260.9 141.0,260.6 141.5,261.1 142.0,258.9 142.5,260.1 143.0,259.4 143.5,259.7 144.0,260.3 144.5,262.1 145.0,261.4 145.5,261.6 146.0,262.3 146.5,261.3 147.0,260.7 147.5,260.7 148.0,261.4 148.5,262.0 149.0,263.3 149.5,260.6 150.0,259.8 150.5,259.9 151.0,261.9 151.5,260.6 152.0,261.1 152.5,261.3 153.0,262.0 153.5,261.0 154.0,262.4 154.5,261.1 155.0,261.1 155.5,261.0 156.0,263.0 156.5,261.4 157.0,261.4 157.5,260.3 158.0,262.0 158.5,262.3 159.0,261.4 159.5,262.5 160.0,263.1 160.5,262.2 161.0,261.7 161.5,261.5 162.0,263.3 162.5,262.1 163.0,262.4 163.5,263.4 164.0,261.4 164.5,262.1 165.0,262.6 165.5,262.2 166.0,263.6 166.5,261.7 167.0,259.0 167.5,263.2 168.0,262.7 168.5,262.7 169.0,262.1 169.5,262.4 170.0,264.8 170.5,261.5 171.0,260.9 171.5,262.8 172.0,264.7 172.5,263.9 173.0,262.2 173.5,264.8 174.0,263.4 174.5,263.5 175.0,261.2 175.5,261.8 176.0,261.5 176.5,263.0 177.0,263.2 177.5,264.1 178.0,262.3 178.5,261.7 179.0,261.8 179.5,263.4 180.0,264.6 180.5,264.8 181.0,261.9 181.5,261.7 182.0,262.1 182.5,260.5 183.0,259.7 183.5,261.6 184.0,257.7 184.5,259.7 185.0,262.5 185.5,263.8 186.0,262.7 186.5,261.8 187.0,261.5 187.5,261.2 188.0,263.1 188.5,265.0 189.0,264.2 189.5,264.4 190.0,262.9 190.5,263.5 191.0,265.9 191.5,264.1 192.0,263.8 192.5,265.9 193.0,264.8 193.5,265.6 194.0,264.5 194.5,262.2 195.0,264.6 195.5,265.2 196.0,265.8 196.5,262.9 197.0,263.5 197.5,263.2 198.0,264.2 198.5,263.4 199.0,263.4 199.5,262.1 200.0,262.9 200.5,259.7 201.0,261.1 201.5,259.5 202.0,255.8 202.5,250.9 203.0,245.8 203.5,245.2 204.0,248.5 204.5,253.8 205.0,259.0 205.5,260.1 206.0,261.6 206.5,261.0 207.0,262.5 207.5,262.6 208.0,262.8 208.5,263.2 209.0,264.9 209.5,262.9 210.0,265.4 210.5,262.8 211.0,264.6 211.5,266.1 212.0,267.8 212.5,266.1 213.0,265.5 213.5,265.3 214.0,266.6 214.5,264.1 215.0,265.0 215.5,265.7 216.0,264.3 216.5,267.2 217.0,267.1 217.5,265.8 218.0,268.2 218.5,265.9 219.0,265.6 219.5,263.9 220.0,266.9 220.5,265.1 221.0,265.6 221.5,268.1 222.0,265.8 222.5,266.1 223.0,266.9 223.5,266.7 224.0,265.3 224.5,266.2 225.0,266.1 225.5,266.6 226.0,267.2 226.5,266.1 227.0,263.9 227.5,266.1 228.0,266.5 228.5,266.6 229.0,265.4 229.5,265.7 230.0,265.4 230.5,266.3 231.0,267.5 231.5,266.9 232.0,268.0 232.5,266.6 233.0,266.5 233.5,267.6 234.0,264.1 234.5,265.3 235.0,261.9 235.5,255.4 236.0,255.4 236.5,261.0 237.0,263.7 237.5,265.6 238.0,266.5 238.5,266.7 239.0,267.0 239.5,266.1 240.0,265.9 240.5,266.3 241.0,266.5 241.5,267.6 242.0,267.0 242.5,266.8 243.0,266.8 243.5,268.7 244.0,267.6 244.5,268.5 245.0,267.8 245.5,266.8 246.0,266.4 246.5,268.2 247.0,266.1 247.5,266.0 248.0,267.5 248.5,267.6 249.0,266.7 249.5,269.1 250.0,269.1 250.5,268.3 251.0,265.9 251.5,268.7 252.0,268.8 252.5,266.6 253.0,268.9 253.5,268.1 254.0,266.8 254.5,269.4 255.0,268.3 255.5,266.4 256.0,265.7 256.5,267.0 257.0,267.3 257.5,270.7 258.0,268.1 258.5,268.0 259.0,267.8 259.5,266.3 260.0,266.6 260.5,268.0 261.0,268.0 261.5,268.2 262.0,268.1 262.5,269.1 263.0,266.4 263.5,269.4 264.0,269.3 264.5,268.8 265.0,267.3 265.5,268.8 266.0,267.2 266.5,267.1 267.0,269.0 267.5,269.9 268.0,272.2 268.5,268.8 269.0,269.5 269.5,269.8 270.0,271.3 270.5,268.5 271.0,268.5 271.5,267.7 272.0,267.1 272.5,266.9 273.0,267.5 273.5,270.6 274.0,269.3 274.5,269.1 275.0,268.4 275.5,269.4 276.0,268.9 276.5,266.7 277.0,266.7 277.5,265.2 278.0,265.6 278.5,263.7 279.0,263.9 279.5,265.2 280.0,267.7 280.5,268.5 281.0,267.7 281.5,268.6 282.0,268.7 282.5,270.2 283.0,271.3 283.5,268.7 284.0,267.3 284.5,267.8 285.0,269.6 285.5,268.6 286.0,268.4 286.5,269.7 287.0,268.2 287.5,268.6 288.0,270.3 288.5,269.5 289.0,271.7 289.5,270.3 290.0,269.4 290.5,271.5 291.0,269.8 291.5,270.9 292.0,269.7 292.5,269.9 293.0,269.4 293.5,270.9 294.0,271.6 294.5,268.7 295.0,270.9 295.5,269.9 296.0,270.1 296.5,270.3 297.0,270.7 297.5,270.7 298.0,269.7 298.5,270.0 299.0,268.6 299.5,270.1 300.0,268.0 300.5,269.3 301.0,269.3 301.5,270.8 302.0,270.1 302.5,269.7 303.0,268.7 303.5,264.9 304.0,260.5 304.5,255.5 305.0,260.5 305.5,264.5 306.0,268.6 306.5,268.7 307.0,268.9 307.5,269.8 308.0,270.2 308.5,270.2 309.0,270.4 309.5,271.9 310.0,271.2 310.5,271.3 311.0,268.1 311.5,271.1 312.0,270.3 312.5,271.9 313.0,270.9 313.5,271.2 314.0,270.7 314.5,271.0 315.0,270.8 315.5,270.4 316.0,271.2 316.5,271.3 317.0,272.3 317.5,270.2 318.0,270.8 318.5,270.9 319.0,271.2 319.5,270.6 320.0,270.3 320.5,271.6 321.0,272.4 321.5,271.5 322.0,270.1 322.5,271.3 323.0,270.0 323.5,272.5 324.0,271.2 324.5,271.1 325.0,271.2 325.5,272.1 326.0,273.0 326.5,271.1 327.0,272.4 327.5,270.8 328.0,269.8 328.5,270.0 329.0,269.5 329.5,271.6 330.0,271.3 330.5,273.4 331.0,271.1 331.5,269.4 332.0,271.7 332.5,271.6 333.0,272.3 333.5,271.3 334.0,271.5 334.5,272.6 335.0,271.0 335.5,272.7 336.0,271.9 336.5,271.7 337.0,272.2 337.5,272.7 338.0,272.7 338.5,272.3 339.0,271.7 339.5,273.8 340.0,274.2 340.5,272.4 341.0,272.1 341.5,271.9 342.0,272.7 342.5,273.5 343.0,273.8 343.5,272.8 344.0,273.6 344.5,272.1 345.0,272.1 345.5,270.0 346.0,272.7 346.5,273.0 347.0,271.1 347.5,272.5 348.0,271.4 348.5,273.9 349.0,272.2 349.5,273.6 350.0,272.4 350.5,273.5 351.0,272.4 351.5,271.9 352.0,273.0 352.5,272.4 353.0,272.5 353.5,271.7 354.0,270.4 354.5,271.4 355.0,272.1 355.5,270.1 356.0,271.2 356.5,273.1 357.0,273.0 357.5,271.1 358.0,270.7 358.5,271.5 359.0,271.5 359.5,270.1 360.0,271.8 360.5,272.3 361.0,271.9 361.5,270.6 362.0,273.6 362.5,271.9 363.0,270.5 363.5,271.7 364.0,271.5 364.5,272.1 365.0,273.1 365.5,272.1 366.0,272.9 366.5,272.5 367.0,273.1 367.5,273.2 368.0,272.0 368.5,271.2 369.0,272.2 369.5,272.7 370.0,273.0 370.5,272.5 371.0,272.8 371.5,273.6 372.0,270.5 372.5,272.6 373.0,273.3 373.5,271.8 374.0,274.4 374.5,272.7 375.0,271.9 375.5,271.9 376.0,271.8 376.5,272.0 377.0,273.2 377.5,272.4 378.0,273.3 378.5,271.1 379.0,274.6 379.5,274.0 380.0,272.2 380.5,274.3 381.0,274.3 381.5,273.1 382.0,272.9 382.5,271.8 383.0,272.4 383.5,272.8 384.0,271.1 384.5,272.9 385.0,274.3 385.5,273.4 386.0,273.8 386.5,274.3 387.0,272.8 387.5,272.9 388.0,273.1 388.5,270.9 389.0,272.2 389.5,271.5 390.0,271.8 390.5,272.7 391.0,271.8 391.5,273.2 392.0,273.8 392.5,273.2 393.0,273.7 393.5,272.1 394.0,273.5 394.5,273.0 395.0,273.7 395.5,271.8 396.0,272.3 396.5,273.5 397.0,273.3 397.5,273.8 398.0,275.2 398.5,272.9 399.0,273.5 399.5,275.6 400.0,275.7 400.5,274.2 401.0,275.5 401.5,275.5 402.0,273.8 402.5,273.7 403.0,275.2 403.5,273.7 404.0,273.1 404.5,273.0 405.0,272.7 405.5,272.5 406.0,273.5 406.5,274.0 407.0,273.8 407.5,271.8 408.0,272.6 408.5,273.3 409.0,273.5 409.5,274.2 410.0,273.5 410.5,274.8 411.0,273.6 411.5,275.0 412.0,274.9 412.5,275.1 413.0,274.2 413.5,273.8 414.0,273.9 414.5,273.2 415.0,273.8 415.5,274.3 416.0,273.9 416.5,273.5 417.0,273.9 417.5,274.5 418.0,274.2 418.5,274.4 419.0,274.1 419.5,274.3 420.0,273.8 420.5,273.1 421.0,272.8 421.5,272.6 422.0,274.3 422.5,274.5 423.0,276.5 423.5,273.4 424.0,273.8 424.5,272.5 425.0,274.5 425.5,273.9 426.0,274.8 426.5,274.7 427.0,275.2 427.5,275.7 428.0,274.1 428.5,276.0 429.0,274.2 429.5,275.5 430.0,274.5 430.5,274.7 431.0,274.5 431.5,274.2 432.0,273.3 432.5,274.6" fill="none" stroke="#c8141e" stroke-width="0.90" stroke-linejoin="round"/>
<path d="M34.5,270.9 35.0,269.7 35.5,268.7 36.0,269.4 36.5,270.0 37.0,270.3 37.5,269.2 38.0,270.7 38.5,270.5 39.0,269.4 39.5,270.7 40.0,270.4 40.5,270.4 41.0,270.3 41.5,270.7 42.0,271.2 42.5,272.3 43.0,270.9 43.5,269.0 44.0,270.0 44.5,271.8 45.0,270.9 45.5,271.7 46.0,270.7 46.5,270.7 47.0,269.5 47.5,270.1 48.0,272.3 48.5,271.6 49.0,271.2 49.5,271.7 50.0,271.1 50.5,271.5 51.0,272.5 51.5,271.5 52.0,274.3 52.5,270.6 53.0,272.7 53.5,272.8 54.0,272.9 54.5,273.5 55.0,272.6 55.5,273.6 56.0,272.3 56.5,272.4 57.0,272.0 57.5,273.2 58.0,273.1 58.5,274.3 59.0,272.6 59.5,274.4 60.0,272.5 60.5,272.9 61.0,273.7 61.5,272.8 62.0,272.8 62.5,271.9 63.0,273.2 63.5,273.3 64.0,276.0 64.5,275.9 65.0,274.6 65.5,276.1 66.0,274.4 66.5,273.0 67.0,273.4 67.5,271.8 68.0,271.1 68.5,270.9 69.0,272.8 69.5,272.5 70.0,272.6 70.5,273.0 71.0,275.2 71.5,272.4 72.0,274.5 72.5,272.8 73.0,274.7 73.5,273.8 74.0,274.2 74.5,273.7 75.0,275.5 75.5,273.3 76.0,274.9 76.5,274.2 77.0,273.4 77.5,274.8 78.0,277.0 78.5,276.2 79.0,274.8 79.5,276.0 80.0,274.6 80.5,274.9 81.0,275.3 81.5,274.3 82.0,273.1 82.5,273.4 83.0,273.2 83.5,274.5 84.0,275.0 84.5,274.3 85.0,274.4 85.5,277.3 86.0,275.5 86.5,273.2 87.0,274.8 87.5,278.2 88.0,276.7 88.5,275.2 89.0,276.0 89.5,275.6 90.0,275.6 90.5,274.2 91.0,276.1 91.5,275.6 92.0,274.4 92.5,275.6 93.0,276.5 93.5,274.9 94.0,276.5 94.5,276.0 95.0,277.7 95.5,276.1 96.0,275.1 96.5,276.4 97.0,272.2 97.5,264.0 98.0,271.8 98.5,276.2 99.0,276.3 99.5,274.9 100.0,275.6 100.5,278.1 101.0,275.8 101.5,277.0 102.0,276.0 102.5,277.2 103.0,276.0 103.5,276.5 104.0,277.8 104.5,278.3 105.0,278.9 105.5,276.0 106.0,277.5 106.5,278.1 107.0,280.2 107.5,278.7 108.0,277.4 108.5,276.9 109.0,275.7 109.5,279.2 110.0,277.4 110.5,277.8 111.0,279.2 111.5,278.0 112.0,278.9 112.5,276.8 113.0,278.8 113.5,278.4 114.0,277.6 114.5,277.4 115.0,276.8 115.5,278.2 116.0,277.8 116.5,276.9 117.0,277.1 117.5,276.6 118.0,276.2 118.5,276.4 119.0,280.0 119.5,278.5 120.0,279.3 120.5,278.3 121.0,279.6 121.5,279.8 122.0,280.4 122.5,279.3 123.0,278.3 123.5,280.7 124.0,280.7 124.5,279.6 125.0,279.6 125.5,279.5 126.0,281.5 126.5,280.7 127.0,278.5 127.5,278.9 128.0,281.8 128.5,279.1 129.0,279.8 129.5,280.0 130.0,281.2 130.5,280.9 131.0,281.0 131.5,280.5 132.0,280.2 132.5,280.0 133.0,279.7 133.5,280.1 134.0,281.7 134.5,281.8 135.0,279.9 135.5,279.5 136.0,281.2 136.5,280.8 137.0,280.9 137.5,281.4 138.0,283.2 138.5,282.0 139.0,279.9 139.5,282.5 140.0,281.1 140.5,280.1 141.0,279.6 141.5,281.7 142.0,282.5 142.5,281.7 143.0,281.0 143.5,281.3 144.0,281.3 144.5,282.5 145.0,282.2 145.5,281.4 146.0,280.1 146.5,280.2 147.0,282.1 147.5,281.3 148.0,282.5 148.5,282.5 149.0,283.1 149.5,283.6 150.0,281.9 150.5,280.9 151.0,282.5 151.5,281.0 152.0,281.1 152.5,280.9 153.0,282.0 153.5,281.9 154.0,284.0 154.5,283.9 155.0,282.1 155.5,283.3 156.0,283.3 156.5,282.4 157.0,282.2 157.5,283.1 158.0,282.5 158.5,284.2 159.0,282.2 159.5,281.7 160.0,282.1 160.5,283.8 161.0,282.4 161.5,285.4 162.0,281.9 162.5,284.6 163.0,284.9 163.5,281.6 164.0,282.8 164.5,284.3 165.0,285.0 165.5,282.1 166.0,283.4 166.5,283.1 167.0,283.7 167.5,281.5 168.0,282.3 168.5,282.8 169.0,284.2 169.5,283.5 170.0,282.6 170.5,284.6 171.0,284.0 171.5,284.4 172.0,285.8 172.5,283.6 173.0,282.6 173.5,282.9 174.0,284.0 174.5,282.4 175.0,284.5 175.5,283.3 176.0,285.2 176.5,284.4 177.0,285.0 177.5,285.0 178.0,284.2 178.5,283.8 179.0,285.2 179.5,284.8 180.0,281.8 180.5,283.2 181.0,286.3 181.5,283.1 182.0,282.8 182.5,282.6 183.0,281.4 183.5,280.2 184.0,282.0 184.5,281.0 185.0,281.6 185.5,286.2 186.0,283.9 186.5,284.0 187.0,283.0 187.5,285.1 188.0,282.6 188.5,283.9 189.0,285.8 189.5,286.4 190.0,286.0 190.5,287.6 191.0,284.9 191.5,283.7 192.0,284.6 192.5,285.3 193.0,284.4 193.5,285.7 194.0,284.6 194.5,285.5 195.0,284.2 195.5,283.2 196.0,283.5 196.5,286.3 197.0,286.0 197.5,285.1 198.0,286.2 198.5,284.3 199.0,285.4 199.5,285.2 200.0,285.0 200.5,283.3 201.0,281.2 201.5,278.4 202.0,275.4 202.5,271.9 203.0,267.9 203.5,267.3 204.0,271.2 204.5,277.7 205.0,278.1 205.5,280.0 206.0,283.5 206.5,284.7 207.0,284.7 207.5,285.9 208.0,283.5 208.5,284.7 209.0,284.9 209.5,285.0 210.0,286.0 210.5,287.2 211.0,286.7 211.5,286.0 212.0,285.2 212.5,287.7 213.0,287.9 213.5,287.4 214.0,285.9 214.5,287.3 215.0,287.0 215.5,286.3 216.0,286.7 216.5,286.8 217.0,286.8 217.5,288.3 218.0,286.7 218.5,288.7 219.0,288.5 219.5,286.8 220.0,287.6 220.5,287.6 221.0,287.1 221.5,286.2 222.0,286.7 222.5,286.0 223.0,287.4 223.5,286.9 224.0,288.1 224.5,287.6 225.0,286.8 225.5,287.7 226.0,286.5 226.5,288.7 227.0,286.3 227.5,288.3 228.0,288.9 228.5,288.7 229.0,289.0 229.5,286.6 230.0,286.2 230.5,287.9 231.0,287.6 231.5,287.7 232.0,287.0 232.5,286.8 233.0,287.0 233.5,288.6 234.0,288.5 234.5,284.3 235.0,281.5 235.5,276.7 236.0,275.8 236.5,282.0 237.0,286.3 237.5,287.6 238.0,286.6 238.5,287.9 239.0,287.7 239.5,286.9 240.0,287.0 240.5,286.2 241.0,287.6 241.5,285.3 242.0,287.8 242.5,288.3 243.0,288.4 243.5,289.1 244.0,289.5 244.5,288.2 245.0,288.2 245.5,287.9 246.0,288.0 246.5,289.5 247.0,289.8 247.5,288.0 248.0,287.9 248.5,288.8 249.0,289.4 249.5,288.7 250.0,286.9 250.5,286.9 251.0,286.7 251.5,289.6 252.0,290.2 252.5,289.7 253.0,288.4 253.5,289.6 254.0,289.3 254.5,289.0 255.0,289.1 255.5,291.2 256.0,289.2 256.5,288.9 257.0,291.1 257.5,288.7 258.0,289.2 258.5,288.5 259.0,289.5 259.5,288.1 260.0,289.5 260.5,289.2 261.0,289.5 261.5,290.8 262.0,292.3 262.5,288.9 263.0,289.1 263.5,289.8 264.0,290.2 264.5,290.9 265.0,289.1 265.5,289.2 266.0,289.5 266.5,288.8 267.0,289.7 267.5,289.6 268.0,289.9 268.5,289.4 269.0,289.6 269.5,288.7 270.0,290.4 270.5,288.8 271.0,289.7 271.5,291.2 272.0,290.7 272.5,290.9 273.0,290.3 273.5,290.0 274.0,290.1 274.5,290.9 275.0,290.3 275.5,289.9 276.0,290.4 276.5,287.7 277.0,287.2 277.5,286.9 278.0,286.3 278.5,286.0 279.0,287.2 279.5,287.8 280.0,290.0 280.5,291.2 281.0,290.9 281.5,290.2 282.0,290.8 282.5,292.1 283.0,291.0 283.5,291.5 284.0,290.8 284.5,290.9 285.0,291.6 285.5,290.1 286.0,288.9 286.5,289.7 287.0,291.5 287.5,292.3 288.0,292.0 288.5,290.0 289.0,291.7 289.5,292.4 290.0,292.0 290.5,293.7 291.0,290.9 291.5,290.9 292.0,291.3 292.5,290.3 293.0,290.6 293.5,291.3 294.0,291.2 294.5,292.9 295.0,288.4 295.5,290.8 296.0,290.9 296.5,290.7 297.0,289.9 297.5,291.3 298.0,291.5 298.5,290.1 299.0,291.6 299.5,292.0 300.0,290.5 300.5,291.8 301.0,291.3 301.5,290.7 302.0,290.5 302.5,290.5 303.0,288.8 303.5,287.4 304.0,284.6 304.5,279.7 305.0,281.3 305.5,288.0 306.0,288.3 306.5,290.2 307.0,291.6 307.5,290.5 308.0,290.7 308.5,291.0 309.0,289.7 309.5,292.0 310.0,291.1 310.5,291.4 311.0,293.7 311.5,292.3 312.0,292.9 312.5,291.7 313.0,292.0 313.5,290.6 314.0,291.7 314.5,292.1 315.0,290.7 315.5,292.9 316.0,291.9 316.5,292.0 317.0,291.6 317.5,292.5 318.0,293.7 318.5,292.2 319.0,292.0 319.5,293.2 320.0,292.7 320.5,292.6 321.0,292.1 321.5,292.2 322.0,290.1 322.5,290.8 323.0,292.1 323.5,293.4 324.0,293.0 324.5,292.7 325.0,291.6 325.5,292.0 326.0,291.8 326.5,292.4 327.0,291.8 327.5,292.3 328.0,292.1 328.5,289.7 329.0,291.6 329.5,291.3 330.0,293.1 330.5,291.3 331.0,294.2 331.5,293.0 332.0,291.1 332.5,292.6 333.0,293.0 333.5,292.8 334.0,290.9 334.5,293.0 335.0,293.3 335.5,292.3 336.0,291.6 336.5,292.2 337.0,291.0 337.5,291.2 338.0,293.7 338.5,294.0 339.0,292.3 339.5,291.9 340.0,293.3 340.5,291.8 341.0,290.4 341.5,292.3 342.0,293.9 342.5,293.3 343.0,292.3 343.5,293.1 344.0,294.5 344.5,293.3 345.0,292.7 345.5,294.9 346.0,292.3 346.5,291.6 347.0,293.9 347.5,292.8 348.0,294.6 348.5,293.5 349.0,293.1 349.5,293.4 350.0,292.2 350.5,293.4 351.0,292.8 351.5,292.1 352.0,293.1 352.5,292.6 353.0,294.1 353.5,295.3 354.0,294.4 354.5,292.7 355.0,292.1 355.5,291.8 356.0,293.9 356.5,292.8 357.0,290.5 357.5,291.4 358.0,293.1 358.5,292.4 359.0,291.2 359.5,290.9 360.0,292.4 360.5,294.2 361.0,292.7 361.5,293.8 362.0,293.2 362.5,294.1 363.0,293.3 363.5,292.9 364.0,292.0 364.5,292.9 365.0,293.6 365.5,294.0 366.0,292.9 366.5,292.5 367.0,294.1 367.5,295.5 368.0,293.2 368.5,293.0 369.0,293.0 369.5,293.2 370.0,293.9 370.5,294.6 371.0,293.9 371.5,294.3 372.0,294.5 372.5,295.2 373.0,295.8 373.5,294.3 374.0,294.3 374.5,292.7 375.0,291.1 375.5,294.8 376.0,294.6 376.5,294.5 377.0,293.0 377.5,294.3 378.0,293.8 378.5,294.8 379.0,294.0 379.5,294.6 380.0,295.0 380.5,296.1 381.0,295.4 381.5,294.3 382.0,294.4 382.5,294.5 383.0,295.2 383.5,295.5 384.0,293.9 384.5,292.7 385.0,293.8 385.5,293.7 386.0,293.9 386.5,295.4 387.0,293.3 387.5,294.3 388.0,294.5 388.5,291.5 389.0,293.7 389.5,291.5 390.0,291.8 390.5,292.7 391.0,293.8 391.5,291.3 392.0,294.7 392.5,294.6 393.0,294.9 393.5,294.3 394.0,292.6 394.5,295.4 395.0,295.3 395.5,296.3 396.0,295.0 396.5,294.8 397.0,293.6 397.5,293.8 398.0,296.1 398.5,293.8 399.0,295.1 399.5,295.3 400.0,293.4 400.5,294.5 401.0,295.0 401.5,295.5 402.0,293.6 402.5,294.5 403.0,296.8 403.5,296.3 404.0,295.6 404.5,294.8 405.0,294.9 405.5,295.4 406.0,293.7 406.5,294.8 407.0,292.5 407.5,295.9 408.0,295.1 408.5,294.3 409.0,296.0 409.5,294.8 410.0,295.3 410.5,294.0 411.0,295.3 411.5,295.7 412.0,294.3 412.5,295.9 413.0,295.9 413.5,296.4 414.0,295.5 414.5,295.6 415.0,295.6 415.5,296.0 416.0,295.3 416.5,295.2 417.0,292.8 417.5,294.4 418.0,295.8 418.5,295.8 419.0,296.3 419.5,297.2 420.0,294.5 420.5,296.6 421.0,295.4 421.5,296.2 422.0,294.8 422.5,294.8 423.0,294.8 423.5,294.8 424.0,296.7 424.5,295.5 425.0,296.5 425.5,295.4 426.0,296.4 426.5,295.9 427.0,296.9 427.5,295.9 428.0,294.8 428.5,294.2 429.0,295.6 429.5,295.8 430.0,294.2 430.5,294.8 431.0,297.5 431.5,297.4 432.0,296.8 432.5,296.8" fill="none" stroke="#c8141e" stroke-width="0.90" stroke-linejoin="round"/>
<path d="M34.5,293.3 35.0,291.7 35.5,292.1 36.0,294.1 36.5,292.2 37.0,291.0 37.5,290.1 38.0,290.9 38.5,289.7 39.0,292.0 39.5,291.8 40.0,290.8 40.5,289.9 41.0,290.9 41.5,291.1 42.0,291.3 42.5,290.8 43.0,292.4 43.5,293.6 44.0,291.4 44.5,291.6 45.0,291.3 45.5,292.7 46.0,292.0 46.5,292.0 47.0,292.8 47.5,291.0 48.0,291.3 48.5,291.8 49.0,290.7 49.5,292.0 50.0,291.2 50.5,292.6 51.0,295.4 51.5,294.9 52.0,293.2 52.5,295.2 53.0,293.4 53.5,294.4 54.0,292.3 54.5,293.7 55.0,292.0 55.5,294.6 56.0,295.0 56.5,292.9 57.0,294.7 57.5,294.8 58.0,293.2 58.5,293.6 59.0,295.1 59.5,295.5 60.0,292.8 60.5,296.0 61.0,294.3 61.5,294.6 62.0,293.2 62.5,295.0 63.0,296.5 63.5,297.0 64.0,295.3 64.5,294.1 65.0,293.8 65.5,295.1 66.0,295.9 66.5,295.5 67.0,294.8 67.5,294.4 68.0,293.8 68.5,293.1 69.0,294.7 69.5,296.0 70.0,295.0 70.5,294.2 71.0,294.3 71.5,294.9 72.0,294.8 72.5,295.2 73.0,296.6 73.5,296.6 74.0,294.5 74.5,297.9 75.0,296.7 75.5,296.3 76.0,296.4 76.5,295.6 77.0,295.7 77.5,295.3 78.0,296.3 78.5,295.2 79.0,296.2 79.5,295.3 80.0,296.4 80.5,294.7 81.0,296.0 81.5,294.7 82.0,296.0 82.5,295.0 83.0,296.1 83.5,296.7 84.0,296.7 84.5,295.8 85.0,296.5 85.5,296.2 86.0,297.9 86.5,295.7 87.0,296.9 87.5,297.0 88.0,299.0 88.5,298.8 89.0,299.3 89.5,297.2 90.0,298.0 90.5,296.3 91.0,299.4 91.5,297.0 92.0,295.2 92.5,298.3 93.0,297.7 93.5,297.7 94.0,297.4 94.5,297.8 95.0,296.8 95.5,296.5 96.0,298.1 96.5,294.9 97.0,292.7 97.5,285.4 98.0,291.0 98.5,295.5 99.0,296.8 99.5,299.0 100.0,298.3 100.5,298.9 101.0,298.8 101.5,298.5 102.0,298.8 102.5,296.6 103.0,300.1 103.5,299.2 104.0,298.7 104.5,301.0 105.0,299.1 105.5,299.4 106.0,298.6 106.5,298.8 107.0,299.6 107.5,299.1 108.0,297.6 108.5,298.6 109.0,301.7 109.5,299.5 110.0,297.9 110.5,297.5 111.0,300.1 111.5,297.9 112.0,298.7 112.5,299.7 113.0,299.3 113.5,300.1 114.0,299.7 114.5,300.1 115.0,298.8 115.5,297.8 116.0,299.1 116.5,296.9 117.0,297.2 117.5,298.5 118.0,297.7 118.5,299.1 119.0,299.0 119.5,299.7 120.0,298.9 120.5,299.5 121.0,300.2 121.5,300.8 122.0,300.1 122.5,300.6 123.0,299.4 123.5,303.0 124.0,301.3 124.5,300.9 125.0,300.4 125.5,301.9 126.0,303.2 126.5,300.1 127.0,301.3 127.5,301.1 128.0,301.2 128.5,302.0 129.0,301.8 129.5,302.1 130.0,302.2 130.5,300.2 131.0,302.4 131.5,303.1 132.0,302.1 132.5,301.7 133.0,303.1 133.5,301.7 134.0,302.1 134.5,301.8 135.0,301.5 135.5,302.2 136.0,301.2 136.5,302.9 137.0,303.0 137.5,300.8 138.0,299.3 138.5,301.8 139.0,302.6 139.5,303.0 140.0,302.1 140.5,301.4 141.0,301.3 141.5,303.6 142.0,302.5 142.5,302.8 143.0,302.0 143.5,302.8 144.0,301.6 144.5,302.6 145.0,301.3 145.5,303.2 146.0,303.7 146.5,302.5 147.0,302.4 147.5,302.5 148.0,303.7 148.5,301.1 149.0,303.3 149.5,304.5 150.0,302.8 150.5,302.1 151.0,301.0 151.5,303.8 152.0,302.4 152.5,304.1 153.0,303.7 153.5,303.3 154.0,304.8 154.5,303.3 155.0,303.8 155.5,303.1 156.0,302.7 156.5,301.5 157.0,303.7 157.5,304.0 158.0,303.3 158.5,302.2 159.0,303.6 159.5,304.1 160.0,304.8 160.5,304.8 161.0,301.8 161.5,303.4 162.0,303.0 162.5,303.0 163.0,302.1 163.5,304.2 164.0,304.5 164.5,302.5 165.0,302.6 165.5,304.7 166.0,304.1 166.5,303.4 167.0,305.7 167.5,304.2 168.0,304.8 168.5,303.3 169.0,304.6 169.5,304.3 170.0,306.2 170.5,304.0 171.0,304.1 171.5,304.3 172.0,307.4 172.5,306.1 173.0,305.4 173.5,304.2 174.0,305.6 174.5,305.0 175.0,307.2 175.5,305.1 176.0,306.9 176.5,303.8 177.0,304.3 177.5,305.6 178.0,304.3 178.5,306.0 179.0,305.4 179.5,305.2 180.0,305.0 180.5,305.3 181.0,305.0 181.5,305.6 182.0,302.9 182.5,302.9 183.0,302.5 183.5,302.8 184.0,302.7 184.5,301.3 185.0,304.5 185.5,303.7 186.0,305.7 186.5,304.8 187.0,305.0 187.5,305.5 188.0,306.3 188.5,305.0 189.0,306.8 189.5,304.3 190.0,306.6 190.5,305.5 191.0,305.5 191.5,304.9 192.0,307.7 192.5,307.3 193.0,306.4 193.5,305.6 194.0,306.1 194.5,306.4 195.0,303.7 195.5,305.4 196.0,306.9 196.5,306.1 197.0,307.5 197.5,307.3 198.0,306.0 198.5,307.0 199.0,306.4 199.5,304.2 200.0,303.8 200.5,303.6 201.0,302.3 201.5,302.9 202.0,297.6 202.5,293.7 203.0,290.0 203.5,285.4 204.0,290.7 204.5,295.7 205.0,299.2 205.5,302.6 206.0,304.7 206.5,304.8 207.0,305.4 207.5,305.3 208.0,306.8 208.5,305.7 209.0,305.3 209.5,307.3 210.0,307.4 210.5,307.3 211.0,306.9 211.5,306.9 212.0,307.6 212.5,307.1 213.0,310.1 213.5,305.9 214.0,308.0 214.5,308.9 215.0,308.4 215.5,307.1 216.0,307.5 216.5,307.8 217.0,307.3 217.5,306.8 218.0,306.7 218.5,308.9 219.0,308.8 219.5,307.7 220.0,310.2 220.5,309.2 221.0,307.9 221.5,309.0 222.0,307.8 222.5,306.9 223.0,308.4 223.5,307.9 224.0,307.0 224.5,309.0 225.0,308.3 225.5,308.7 226.0,308.1 226.5,307.9 227.0,308.5 227.5,309.4 228.0,310.8 228.5,309.5 229.0,310.7 229.5,308.4 230.0,307.6 230.5,307.2 231.0,308.3 231.5,308.1 232.0,309.3 232.5,307.9 233.0,306.7 233.5,308.2 234.0,308.0 234.5,304.2 235.0,302.6 235.5,299.1 236.0,298.7 236.5,302.9 237.0,304.7 237.5,307.8 238.0,308.5 238.5,308.8 239.0,307.3 239.5,309.4 240.0,310.2 240.5,308.1 241.0,310.4 241.5,310.2 242.0,309.8 242.5,310.0 243.0,310.9 243.5,310.8 244.0,307.4 244.5,308.0 245.0,309.8 245.5,311.8 246.0,308.9 246.5,309.0 247.0,309.1 247.5,308.2 248.0,309.3 248.5,309.9 249.0,309.2 249.5,309.5 250.0,308.3 250.5,309.6 251.0,310.6 251.5,311.0 252.0,310.1 252.5,309.3 253.0,310.0 253.5,311.3 254.0,310.3 254.5,309.8 255.0,309.4 255.5,308.8 256.0,311.2 256.5,309.5 257.0,310.6 257.5,309.9 258.0,311.5 258.5,311.2 259.0,310.5 259.5,309.7 260.0,310.4 260.5,310.9 261.0,311.3 261.5,309.3 262.0,310.2 262.5,309.2 263.0,309.5 263.5,310.7 264.0,311.1 264.5,310.8 265.0,311.2 265.5,310.9 266.0,311.3 266.5,311.2 267.0,309.7 267.5,311.0 268.0,309.2 268.5,308.0 269.0,310.1 269.5,309.8 270.0,310.6 270.5,311.1 271.0,310.1 271.5,309.4 272.0,311.3 272.5,310.3 273.0,310.5 273.5,311.2 274.0,313.3 274.5,309.9 275.0,308.6 275.5,310.6 276.0,310.3 276.5,309.2 277.0,307.5 277.5,308.2 278.0,306.2 278.5,306.7 279.0,307.0 279.5,308.4 280.0,310.7 280.5,309.4 281.0,311.0 281.5,311.1 282.0,312.0 282.5,309.6 283.0,308.4 283.5,310.8 284.0,312.5 284.5,313.1 285.0,312.5 285.5,311.9 286.0,310.7 286.5,312.1 287.0,311.2 287.5,310.6 288.0,312.6 288.5,312.8 289.0,311.3 289.5,313.9 290.0,313.7 290.5,312.1 291.0,312.9 291.5,311.4 292.0,311.1 292.5,311.5 293.0,311.1 293.5,311.8 294.0,313.0 294.5,312.4 295.0,312.3 295.5,311.9 296.0,311.3 296.5,311.6 297.0,311.1 297.5,311.9 298.0,312.7 298.5,309.8 299.0,312.9 299.5,311.9 300.0,311.3 300.5,310.7 301.0,310.7 301.5,312.2 302.0,312.8 302.5,308.6 303.0,311.0 303.5,308.2 304.0,303.9 304.5,301.9 305.0,304.4 305.5,306.7 306.0,309.2 306.5,313.7 307.0,313.9 307.5,312.8 308.0,312.1 308.5,311.5 309.0,311.6 309.5,312.9 310.0,311.3 310.5,313.4 311.0,311.2 311.5,313.7 312.0,312.5 312.5,311.6 313.0,313.3 313.5,313.4 314.0,313.0 314.5,313.5 315.0,313.7 315.5,314.8 316.0,313.8 316.5,313.0 317.0,313.2 317.5,313.9 318.0,314.8 318.5,313.2 319.0,314.3 319.5,312.9 320.0,312.7 320.5,311.7 321.0,313.9 321.5,314.1 322.0,313.9 322.5,312.7 323.0,311.9 323.5,312.8 324.0,312.1 324.5,310.3 325.0,313.6 325.5,311.4 326.0,312.8 326.5,313.9 327.0,311.5 327.5,311.3 328.0,312.4 328.5,312.0 329.0,311.5 329.5,311.6 330.0,312.1 330.5,311.3 331.0,311.6 331.5,312.0 332.0,311.8 332.5,313.7 333.0,313.1 333.5,314.7 334.0,314.3 334.5,314.6 335.0,312.7 335.5,314.4 336.0,312.8 336.5,313.6 337.0,313.4 337.5,313.8 338.0,313.5 338.5,314.9 339.0,314.3 339.5,316.5 340.0,313.9 340.5,316.7 341.0,314.9 341.5,314.1 342.0,314.2 342.5,315.8 343.0,317.1 343.5,315.1 344.0,316.4 344.5,314.9 345.0,313.2 345.5,314.0 346.0,314.8 346.5,315.2 347.0,314.1 347.5,313.9 348.0,313.5 348.5,315.2 349.0,314.7 349.5,313.5 350.0,314.1 350.5,313.8 351.0,314.3 351.5,314.9 352.0,313.5 352.5,314.3 353.0,316.0 353.5,312.0 354.0,312.9 354.5,313.5 355.0,311.4 355.5,313.9 356.0,314.6 356.5,313.6 357.0,313.1 357.5,314.2 358.0,313.8 358.5,313.9 359.0,313.9 359.5,313.4 360.0,313.1 360.5,315.4 361.0,317.0 361.5,313.1 362.0,314.0 362.5,313.5 363.0,314.8 363.5,314.8 364.0,315.6 364.5,316.1 365.0,314.6 365.5,315.8 366.0,316.0 366.5,315.1 367.0,314.2 367.5,315.7 368.0,316.3 368.5,314.3 369.0,316.6 369.5,315.5 370.0,314.4 370.5,316.0 371.0,315.4 371.5,316.2 372.0,315.8 372.5,314.9 373.0,314.1 373.5,314.6 374.0,315.4 374.5,316.8 375.0,314.4 375.5,314.7 376.0,313.7 376.5,315.1 377.0,315.0 377.5,315.8 378.0,316.5 378.5,315.4 379.0,315.9 379.5,314.9 380.0,316.3 380.5,314.8 381.0,313.4 381.5,317.4 382.0,313.9 382.5,315.1 383.0,315.1 383.5,315.5 384.0,313.2 384.5,316.2 385.0,317.1 385.5,316.3 386.0,314.7 386.5,316.3 387.0,315.7 387.5,314.8 388.0,315.2 388.5,316.5 389.0,313.7 389.5,312.9 390.0,312.1 390.5,314.1 391.0,314.0 391.5,314.8 392.0,315.2 392.5,315.7 393.0,314.8 393.5,314.5 394.0,317.1 394.5,315.8 395.0,314.4 395.5,315.6 396.0,316.9 396.5,316.5 397.0,317.8 397.5,315.8 398.0,317.8 398.5,315.3 399.0,316.2 399.5,315.7 400.0,315.3 400.5,315.5 401.0,316.6 401.5,317.1 402.0,316.0 402.5,317.4 403.0,316.5 403.5,316.7 404.0,316.1 404.5,316.7 405.0,314.4 405.5,315.3 406.0,315.2 406.5,316.6 407.0,316.3 407.5,316.5 408.0,316.4 408.5,315.4 409.0,314.9 409.5,316.5 410.0,316.7 410.5,315.0 411.0,314.7 411.5,315.6 412.0,316.6 412.5,317.3 413.0,317.5 413.5,316.1 414.0,314.0 414.5,316.6 415.0,315.4 415.5,317.0 416.0,317.1 416.5,318.2 417.0,314.5 417.5,315.3 418.0,316.6 418.5,317.7 419.0,316.2 419.5,318.1 420.0,317.2 420.5,317.7 421.0,317.9 421.5,316.4 422.0,314.4 422.5,315.6 423.0,316.2 423.5,316.6 424.0,316.5 424.5,315.4 425.0,317.3 425.5,316.1 426.0,316.4 426.5,316.7 427.0,316.4 427.5,314.7 428.0,316.7 428.5,315.9 429.0,316.7 429.5,315.4 430.0,316.9 430.5,315.5 431.0,316.3 431.5,315.6 432.0,317.3 432.5,315.7" fill="none" stroke="#c8141e" stroke-width="0.90" stroke-linejoin="round"/>
</g>
<circle cx="235.1" cy="32.1" r="3.2" fill="#127f7f"/><circle cx="235.1" cy="55.9" r="3.2" fill="#127f7f"/><circle cx="235.1" cy="75.8" r="3.2" fill="#127f7f"/><circle cx="235.1" cy="98.8" r="3.2" fill="#127f7f"/><circle cx="270.6" cy="31.7" r="3.1" fill="#7a00ff"/><circle cx="284.4" cy="46.2" r="3.1" fill="#7a00ff"/><circle cx="271.0" cy="62.6" r="3.1" fill="#7a00ff"/><circle cx="284.4" cy="69.3" r="3.1" fill="#7a00ff"/><circle cx="271.0" cy="87.0" r="3.1" fill="#7a00ff"/><circle cx="284.6" cy="91.2" r="3.1" fill="#7a00ff"/><circle cx="271.0" cy="110.6" r="3.1" fill="#7a00ff"/><circle cx="284.6" cy="113.9" r="3.1" fill="#7a00ff"/><circle cx="271.0" cy="132.4" r="3.1" fill="#7a00ff"/><circle cx="284.0" cy="135.1" r="3.1" fill="#7a00ff"/><rect x="243.9" y="85.8" width="5.5" height="5.5" fill="#ff00ff"/><rect x="225.2" y="107.2" width="5.5" height="5.5" fill="#ff00ff"/><rect x="226.2" y="128.2" width="5.5" height="5.5" fill="#ff00ff"/><circle cx="328.5" cy="155.4" r="2.8" fill="#ff8010"/><circle cx="357.5" cy="156.3" r="2.8" fill="#ff8010"/><circle cx="328.2" cy="175.5" r="2.8" fill="#ff8010"/><circle cx="357.5" cy="177.2" r="2.8" fill="#ff8010"/><circle cx="328.5" cy="197.7" r="2.8" fill="#ff8010"/><circle cx="357.5" cy="199.1" r="2.8" fill="#ff8010"/>
<line x1="34.5" y1="216.5" x2="432.5" y2="216.5" stroke="#8a8a8a" stroke-width="1.2"/>
<path d="M34.5,13.2 H432.5 V322.8 H34.5 Z" fill="none" stroke="#111" stroke-width="1.3"/>
<path d="M34.5,322.8 v8.0 M62.9,322.8 v4.5 M91.4,322.8 v8.0 M119.8,322.8 v4.5 M148.2,322.8 v8.0 M176.6,322.8 v4.5 M205.1,322.8 v8.0 M233.5,322.8 v4.5 M261.9,322.8 v8.0 M290.4,322.8 v4.5 M318.8,322.8 v8.0 M347.2,322.8 v4.5 M375.6,322.8 v8.0 M404.1,322.8 v4.5 M432.5,322.8 v8.0" stroke="#111" stroke-width="1.3"/>
<g font-size="17" fill="#111"><text x="34.5" y="352" text-anchor="middle">10</text><text x="91.4" y="352" text-anchor="middle">11</text><text x="148.2" y="352" text-anchor="middle">12</text><text x="205.1" y="352" text-anchor="middle">13</text><text x="261.9" y="352" text-anchor="middle">14</text><text x="318.8" y="352" text-anchor="middle">15</text><text x="375.6" y="352" text-anchor="middle">16</text><text x="432.5" y="352" text-anchor="middle">17</text></g>
<text x="233.5" y="379" font-size="18.7" text-anchor="middle" fill="#111">Two theta (deg.)</text>
<text x="8.5" y="24" font-size="28" font-weight="bold" fill="#000">a</text>
<path d="M443.4,15.1 H615.4 V322.9 H443.4 Z" fill="none" stroke="#111" stroke-width="1.3"/>
<path d="M446.6,322.9 v4.5 M465.3,322.9 v8.0 M484.0,322.9 v4.5 M502.8,322.9 v8.0 M521.5,322.9 v4.5 M540.2,322.9 v8.0 M558.9,322.9 v4.5 M577.6,322.9 v8.0 M596.4,322.9 v4.5 M615.1,322.9 v8.0" stroke="#111" stroke-width="1.3"/>
<g font-size="18" fill="#111"><text x="465.3" y="352" text-anchor="middle">2.0</text><text x="502.8" y="352" text-anchor="middle">1.5</text><text x="540.2" y="352" text-anchor="middle">1.0</text><text x="577.6" y="352" text-anchor="middle">0.5</text><text x="615.1" y="352" text-anchor="middle">0.0</text></g>
<text x="529.4" y="379" font-size="18.4" text-anchor="middle" fill="#111">Voltage (V)</text>
<path d="M452.3,312.5 C480,310 520,309 536,307.5 C545,306 548,302 551,292 C554,280 556,268 559.7,257" fill="none" stroke="#c8141e" stroke-width="2"/>
<path d="M559.7,257 C563,248 563.5,232 565,215 C567,200 572,188 575.3,180 C578,170 580,161 581.2,155.3" fill="none" stroke="#1c1c9e" stroke-width="2"/>
<path d="M581.2,155.3 C585,145 588,136 591,128.5 C594,120 597,112 600,103 C604,90 608,72 609.7,58.6 C611,45 613,30 614.6,19.3" fill="none" stroke="#1f8b1f" stroke-width="2"/>
<circle cx="452.5" cy="27.7" r="3.2" fill="#127f7f"/>
<circle cx="452.5" cy="51" r="3.2" fill="#7a00ff"/>
<rect x="449.7" y="68.5" width="5.6" height="5.6" fill="#ff00ff"/>
<circle cx="452.5" cy="92.7" r="3.2" fill="#ff8010"/>
<g font-size="13.5" fill="#111"><text x="463" y="33.4">K<tspan font-size="9.5" dy="3">3</tspan><tspan dy="-3">Sb</tspan></text><text x="463" y="56.5">K<tspan font-size="9.5" dy="3">2</tspan><tspan dy="-3">S</tspan><tspan font-size="9.5" dy="3">3</tspan></text><text x="463" y="77">K<tspan font-size="9.5" dy="3">2</tspan><tspan dy="-3">S</tspan><tspan font-size="9.5" dy="3">6</tspan></text><text x="463" y="98.2">Sb</text></g>
<g font-size="13" fill="#111" text-anchor="middle"><text x="525.2" y="121.5">Alloying</text><text x="525.2" y="137.7">and</text><text x="525.2" y="153.6">conversion</text></g>
<text x="453.2" y="275.3" font-size="13" fill="#111">K<tspan font-size="9" dy="-5">+</tspan><tspan dy="5"> intercalation</tspan></text>
<text x="552.8" y="307.3" font-size="13" fill="#111">Discharge</text>
<line x1="573.2" y1="289.5" x2="598.5" y2="181" stroke="#111" stroke-width="1"/>
<path d="M600.4,174.8 L602.2,184.2 L595.6,182.7 Z" fill="#111"/>
<circle cx="578.8" cy="157" r="7.5" fill="none" stroke="#f08030" stroke-width="1.8" stroke-dasharray="2 2"/>
<line x1="587" y1="156.8" x2="618" y2="155.8" stroke="#f08030" stroke-width="1.8"/>
<path d="M627,155.6 L616.5,149.6 L616.5,161.6 Z" fill="#f08030"/>
<g clip-path="url(#cc)">
<rect x="630.0" y="8.0" width="323.0" height="323.0" fill="#6c6c6c"/>
<rect x="791.5" y="8.0" width="161.5" height="323.0" fill="#000" opacity="0.06"/>
<circle cx="799" cy="171" r="120" fill="url(#darkdisk)"/>
<ellipse cx="787" cy="150" rx="30" ry="17" fill="#000" filter="url(#blur8)"/>
<ellipse cx="787" cy="152" rx="22" ry="10" fill="#000" filter="url(#blur3)"/>
<g transform="rotate(-19.8 791.5 192.6)"><rect x="560" y="159.1" width="470" height="67" fill="#cbcbcb" filter="url(#blur2)"/></g>
<g transform="rotate(-19.8 791.5 192.6)" opacity="0.5"><rect x="560" y="161" width="470" height="63" fill="#cbcbcb" filter="url(#grain)"/></g>
</g>
<g fill="none" stroke="#f28a3c" stroke-width="2.6" stroke-dasharray="2.6 2.2"><circle cx="675.4" cy="103.2" r="6.5"/><circle cx="689.4" cy="100.3" r="7"/><circle cx="662.2" cy="150.1" r="7.5"/><path d="M673.6,109.5 C670,120 666,130 664.5,142"/></g>
<line x1="753.4" y1="76.5" x2="703" y2="93.6" stroke="#f28a3c" stroke-width="2.2"/>
<path d="M694.5,96.5 L705.5,87.5 L708,99 Z" fill="#f28a3c"/>
<text x="751.5" y="63.5" font-size="18.4" fill="#f28a3c" text-anchor="middle">Sb (002)</text>
<text transform="translate(655,123.5) rotate(-70)" x="0" y="6.5" font-size="18.4" fill="#f28a3c" text-anchor="middle">Sb (101)</text>
<g fill="none" stroke="#7fd150" stroke-width="2.8" stroke-dasharray="2.8 2.4"><circle cx="707.5" cy="106.2" r="7"/><circle cx="723" cy="99.5" r="7.5"/><circle cx="739.3" cy="257.7" r="8"/><circle cx="867" cy="239" r="7.5"/><path d="M703,112 C692,130 688,150 689.4,165 C690,185 692,200 700,215 C710,234 722,245 733,252"/><path d="M713,111 C703,128 698,148 697.5,162 C697,180 699,195 705,210 C713,228 725,242 736,250"/><path d="M747,259 C765,266 785,269 805,267 C830,264 850,255 861,244"/></g>
<text transform="translate(682,222) rotate(62)" x="0" y="6" font-size="18.4" fill="#7fd150" text-anchor="middle">K<tspan font-size="13" dy="4">2</tspan><tspan dy="-4">S</tspan><tspan font-size="13" dy="4">6</tspan><tspan dy="-4"> (040)</tspan></text>
<text transform="translate(745,223) rotate(47)" x="0" y="6" font-size="18.4" fill="#7fd150" text-anchor="middle">K<tspan font-size="13" dy="4">2</tspan><tspan dy="-4">S</tspan><tspan font-size="13" dy="4">6</tspan><tspan dy="-4"> (002)</tspan></text>
<rect x="754" y="300" width="69.6" height="6" fill="#fff"/>
<g shape-rendering="crispEdges"><rect x="1016.40" y="321.58" width="2.72" height="8.72" fill="#72ff8d"/><rect x="1018.82" y="321.58" width="2.72" height="8.72" fill="#60ff9f"/><rect x="1021.23" y="321.58" width="2.72" height="8.72" fill="#72ff8d"/><rect x="1023.65" y="321.58" width="2.72" height="8.72" fill="#4fffb0"/><rect x="1026.06" y="321.58" width="2.72" height="8.72" fill="#56ffa9"/><rect x="1028.48" y="321.58" width="2.72" height="8.72" fill="#5affa5"/><rect x="1030.90" y="321.58" width="2.72" height="8.72" fill="#6fff90"/><rect x="1033.31" y="321.58" width="2.72" height="8.72" fill="#70ff8f"/><rect x="1035.73" y="321.58" width="2.72" height="8.72" fill="#52ffad"/><rect x="1038.14" y="321.58" width="2.72" height="8.72" fill="#4fffb0"/><rect x="1040.56" y="321.58" width="2.72" height="8.72" fill="#82ff7d"/><rect x="1042.98" y="321.58" width="2.72" height="8.72" fill="#97ff68"/><rect x="1045.39" y="321.58" width="2.72" height="8.72" fill="#d7ff28"/><rect x="1047.81" y="321.58" width="2.72" height="8.72" fill="#ffba00"/><rect x="1050.22" y="321.58" width="2.72" height="8.72" fill="#ff9000"/><rect x="1052.64" y="321.58" width="2.72" height="8.72" fill="#ffec00"/><rect x="1055.06" y="321.58" width="2.72" height="8.72" fill="#dfff20"/><rect x="1057.47" y="321.58" width="2.72" height="8.72" fill="#aeff51"/><rect x="1059.89" y="321.58" width="2.72" height="8.72" fill="#86ff79"/><rect x="1062.30" y="321.58" width="2.72" height="8.72" fill="#61ff9e"/><rect x="1064.72" y="321.58" width="2.72" height="8.72" fill="#5cffa3"/><rect x="1067.14" y="321.58" width="2.72" height="8.72" fill="#5cffa3"/><rect x="1069.55" y="321.58" width="2.72" height="8.72" fill="#5effa1"/><rect x="1071.97" y="321.58" width="2.72" height="8.72" fill="#6bff94"/><rect x="1074.38" y="321.58" width="2.72" height="8.72" fill="#69ff96"/><rect x="1076.80" y="321.58" width="2.72" height="8.72" fill="#6fff90"/><rect x="1079.22" y="321.58" width="2.72" height="8.72" fill="#71ff8e"/><rect x="1081.63" y="321.58" width="2.72" height="8.72" fill="#65ff9a"/><rect x="1084.05" y="321.58" width="2.72" height="8.72" fill="#48ffb7"/><rect x="1086.46" y="321.58" width="2.72" height="8.72" fill="#6cff93"/><rect x="1088.88" y="321.58" width="2.72" height="8.72" fill="#5dffa2"/><rect x="1091.30" y="321.58" width="2.72" height="8.72" fill="#56ffa9"/><rect x="1093.71" y="321.58" width="2.72" height="8.72" fill="#43ffbc"/><rect x="1096.13" y="321.58" width="2.72" height="8.72" fill="#70ff8f"/><rect x="1098.54" y="321.58" width="2.72" height="8.72" fill="#55ffaa"/><rect x="1100.96" y="321.58" width="2.72" height="8.72" fill="#68ff97"/><rect x="1103.38" y="321.58" width="2.72" height="8.72" fill="#8dff72"/><rect x="1105.79" y="321.58" width="2.72" height="8.72" fill="#50ffaf"/><rect x="1108.21" y="321.58" width="2.72" height="8.72" fill="#7fff80"/><rect x="1110.62" y="321.58" width="2.72" height="8.72" fill="#5effa1"/><rect x="1113.04" y="321.58" width="2.72" height="8.72" fill="#5affa5"/><rect x="1115.46" y="321.58" width="2.72" height="8.72" fill="#6cff93"/><rect x="1117.87" y="321.58" width="2.72" height="8.72" fill="#5cffa3"/><rect x="1120.29" y="321.58" width="2.72" height="8.72" fill="#57ffa8"/><rect x="1122.70" y="321.58" width="2.72" height="8.72" fill="#5cffa3"/><rect x="1125.12" y="321.58" width="2.72" height="8.72" fill="#53ffac"/><rect x="1127.54" y="321.58" width="2.72" height="8.72" fill="#6eff91"/><rect x="1129.95" y="321.58" width="2.72" height="8.72" fill="#59ffa6"/><rect x="1132.37" y="321.58" width="2.72" height="8.72" fill="#73ff8c"/><rect x="1134.78" y="321.58" width="2.72" height="8.72" fill="#63ff9c"/><rect x="1016.40" y="304.74" width="2.72" height="17.14" fill="#64ff9b"/><rect x="1018.82" y="304.74" width="2.72" height="17.14" fill="#69ff96"/><rect x="1021.23" y="304.74" width="2.72" height="17.14" fill="#73ff8c"/><rect x="1023.65" y="304.74" width="2.72" height="17.14" fill="#53ffac"/><rect x="1026.06" y="304.74" width="2.72" height="17.14" fill="#39ffc6"/><rect x="1028.48" y="304.74" width="2.72" height="17.14" fill="#52ffad"/><rect x="1030.90" y="304.74" width="2.72" height="17.14" fill="#64ff9b"/><rect x="1033.31" y="304.74" width="2.72" height="17.14" fill="#6fff90"/><rect x="1035.73" y="304.74" width="2.72" height="17.14" fill="#60ff9f"/><rect x="1038.14" y="304.74" width="2.72" height="17.14" fill="#4dffb2"/><rect x="1040.56" y="304.74" width="2.72" height="17.14" fill="#7bff84"/><rect x="1042.98" y="304.74" width="2.72" height="17.14" fill="#98ff67"/><rect x="1045.39" y="304.74" width="2.72" height="17.14" fill="#d6ff29"/><rect x="1047.81" y="304.74" width="2.72" height="17.14" fill="#ff9b00"/><rect x="1050.22" y="304.74" width="2.72" height="17.14" fill="#ff6700"/><rect x="1052.64" y="304.74" width="2.72" height="17.14" fill="#ffe000"/><rect x="1055.06" y="304.74" width="2.72" height="17.14" fill="#e1ff1e"/><rect x="1057.47" y="304.74" width="2.72" height="17.14" fill="#a9ff56"/><rect x="1059.89" y="304.74" width="2.72" height="17.14" fill="#81ff7e"/><rect x="1062.30" y="304.74" width="2.72" height="17.14" fill="#68ff97"/><rect x="1064.72" y="304.74" width="2.72" height="17.14" fill="#7dff82"/><rect x="1067.14" y="304.74" width="2.72" height="17.14" fill="#67ff98"/><rect x="1069.55" y="304.74" width="2.72" height="17.14" fill="#5affa5"/><rect x="1071.97" y="304.74" width="2.72" height="17.14" fill="#6bff94"/><rect x="1074.38" y="304.74" width="2.72" height="17.14" fill="#5effa1"/><rect x="1076.80" y="304.74" width="2.72" height="17.14" fill="#77ff88"/><rect x="1079.22" y="304.74" width="2.72" height="17.14" fill="#62ff9d"/><rect x="1081.63" y="304.74" width="2.72" height="17.14" fill="#5affa5"/><rect x="1084.05" y="304.74" width="2.72" height="17.14" fill="#4dffb2"/><rect x="1086.46" y="304.74" width="2.72" height="17.14" fill="#73ff8c"/><rect x="1088.88" y="304.74" width="2.72" height="17.14" fill="#51ffae"/><rect x="1091.30" y="304.74" width="2.72" height="17.14" fill="#5dffa2"/><rect x="1093.71" y="304.74" width="2.72" height="17.14" fill="#37ffc8"/><rect x="1096.13" y="304.74" width="2.72" height="17.14" fill="#55ffaa"/><rect x="1098.54" y="304.74" width="2.72" height="17.14" fill="#4cffb3"/><rect x="1100.96" y="304.74" width="2.72" height="17.14" fill="#59ffa6"/><rect x="1103.38" y="304.74" width="2.72" height="17.14" fill="#8aff75"/><rect x="1105.79" y="304.74" width="2.72" height="17.14" fill="#58ffa7"/><rect x="1108.21" y="304.74" width="2.72" height="17.14" fill="#6eff91"/><rect x="1110.62" y="304.74" width="2.72" height="17.14" fill="#4cffb3"/><rect x="1113.04" y="304.74" width="2.72" height="17.14" fill="#55ffaa"/><rect x="1115.46" y="304.74" width="2.72" height="17.14" fill="#65ff9a"/><rect x="1117.87" y="304.74" width="2.72" height="17.14" fill="#5fffa0"/><rect x="1120.29" y="304.74" width="2.72" height="17.14" fill="#69ff96"/><rect x="1122.70" y="304.74" width="2.72" height="17.14" fill="#58ffa7"/><rect x="1125.12" y="304.74" width="2.72" height="17.14" fill="#4dffb2"/><rect x="1127.54" y="304.74" width="2.72" height="17.14" fill="#55ffaa"/><rect x="1129.95" y="304.74" width="2.72" height="17.14" fill="#62ff9d"/><rect x="1132.37" y="304.74" width="2.72" height="17.14" fill="#82ff7d"/><rect x="1134.78" y="304.74" width="2.72" height="17.14" fill="#54ffab"/><rect x="1016.40" y="287.89" width="2.72" height="17.14" fill="#67ff98"/><rect x="1018.82" y="287.89" width="2.72" height="17.14" fill="#54ffab"/><rect x="1021.23" y="287.89" width="2.72" height="17.14" fill="#6aff95"/><rect x="1023.65" y="287.89" width="2.72" height="17.14" fill="#58ffa7"/><rect x="1026.06" y="287.89" width="2.72" height="17.14" fill="#62ff9d"/><rect x="1028.48" y="287.89" width="2.72" height="17.14" fill="#5effa1"/><rect x="1030.90" y="287.89" width="2.72" height="17.14" fill="#5affa5"/><rect x="1033.31" y="287.89" width="2.72" height="17.14" fill="#51ffae"/><rect x="1035.73" y="287.89" width="2.72" height="17.14" fill="#5fffa0"/><rect x="1038.14" y="287.89" width="2.72" height="17.14" fill="#59ffa6"/><rect x="1040.56" y="287.89" width="2.72" height="17.14" fill="#6eff91"/><rect x="1042.98" y="287.89" width="2.72" height="17.14" fill="#95ff6a"/><rect x="1045.39" y="287.89" width="2.72" height="17.14" fill="#d5ff2a"/><rect x="1047.81" y="287.89" width="2.72" height="17.14" fill="#ff7900"/><rect x="1050.22" y="287.89" width="2.72" height="17.14" fill="#ff4c00"/><rect x="1052.64" y="287.89" width="2.72" height="17.14" fill="#ffd900"/><rect x="1055.06" y="287.89" width="2.72" height="17.14" fill="#dfff20"/><rect x="1057.47" y="287.89" width="2.72" height="17.14" fill="#a4ff5b"/><rect x="1059.89" y="287.89" width="2.72" height="17.14" fill="#83ff7c"/><rect x="1062.30" y="287.89" width="2.72" height="17.14" fill="#58ffa7"/><rect x="1064.72" y="287.89" width="2.72" height="17.14" fill="#6bff94"/><rect x="1067.14" y="287.89" width="2.72" height="17.14" fill="#4bffb4"/><rect x="1069.55" y="287.89" width="2.72" height="17.14" fill="#4fffb0"/><rect x="1071.97" y="287.89" width="2.72" height="17.14" fill="#68ff97"/><rect x="1074.38" y="287.89" width="2.72" height="17.14" fill="#70ff8f"/><rect x="1076.80" y="287.89" width="2.72" height="17.14" fill="#58ffa7"/><rect x="1079.22" y="287.89" width="2.72" height="17.14" fill="#5affa5"/><rect x="1081.63" y="287.89" width="2.72" height="17.14" fill="#67ff98"/><rect x="1084.05" y="287.89" width="2.72" height="17.14" fill="#4fffb0"/><rect x="1086.46" y="287.89" width="2.72" height="17.14" fill="#5affa5"/><rect x="1088.88" y="287.89" width="2.72" height="17.14" fill="#43ffbc"/><rect x="1091.30" y="287.89" width="2.72" height="17.14" fill="#53ffac"/><rect x="1093.71" y="287.89" width="2.72" height="17.14" fill="#3effc1"/><rect x="1096.13" y="287.89" width="2.72" height="17.14" fill="#55ffaa"/><rect x="1098.54" y="287.89" width="2.72" height="17.14" fill="#5fffa0"/><rect x="1100.96" y="287.89" width="2.72" height="17.14" fill="#65ff9a"/><rect x="1103.38" y="287.89" width="2.72" height="17.14" fill="#99ff66"/><rect x="1105.79" y="287.89" width="2.72" height="17.14" fill="#5affa5"/><rect x="1108.21" y="287.89" width="2.72" height="17.14" fill="#65ff9a"/><rect x="1110.62" y="287.89" width="2.72" height="17.14" fill="#42ffbd"/><rect x="1113.04" y="287.89" width="2.72" height="17.14" fill="#57ffa8"/><rect x="1115.46" y="287.89" width="2.72" height="17.14" fill="#57ffa8"/><rect x="1117.87" y="287.89" width="2.72" height="17.14" fill="#49ffb6"/><rect x="1120.29" y="287.89" width="2.72" height="17.14" fill="#67ff98"/><rect x="1122.70" y="287.89" width="2.72" height="17.14" fill="#6cff93"/><rect x="1125.12" y="287.89" width="2.72" height="17.14" fill="#58ffa7"/><rect x="1127.54" y="287.89" width="2.72" height="17.14" fill="#70ff8f"/><rect x="1129.95" y="287.89" width="2.72" height="17.14" fill="#54ffab"/><rect x="1132.37" y="287.89" width="2.72" height="17.14" fill="#6bff94"/><rect x="1134.78" y="287.89" width="2.72" height="17.14" fill="#56ffa9"/><rect x="1016.40" y="271.05" width="2.72" height="17.14" fill="#68ff97"/><rect x="1018.82" y="271.05" width="2.72" height="17.14" fill="#55ffaa"/><rect x="1021.23" y="271.05" width="2.72" height="17.14" fill="#57ffa8"/><rect x="1023.65" y="271.05" width="2.72" height="17.14" fill="#46ffb9"/><rect x="1026.06" y="271.05" width="2.72" height="17.14" fill="#4bffb4"/><rect x="1028.48" y="271.05" width="2.72" height="17.14" fill="#5dffa2"/><rect x="1030.90" y="271.05" width="2.72" height="17.14" fill="#5dffa2"/><rect x="1033.31" y="271.05" width="2.72" height="17.14" fill="#79ff86"/><rect x="1035.73" y="271.05" width="2.72" height="17.14" fill="#52ffad"/><rect x="1038.14" y="271.05" width="2.72" height="17.14" fill="#5cffa3"/><rect x="1040.56" y="271.05" width="2.72" height="17.14" fill="#86ff79"/><rect x="1042.98" y="271.05" width="2.72" height="17.14" fill="#8eff71"/><rect x="1045.39" y="271.05" width="2.72" height="17.14" fill="#c8ff37"/><rect x="1047.81" y="271.05" width="2.72" height="17.14" fill="#ffb400"/><rect x="1050.22" y="271.05" width="2.72" height="17.14" fill="#ff8c00"/><rect x="1052.64" y="271.05" width="2.72" height="17.14" fill="#ffea00"/><rect x="1055.06" y="271.05" width="2.72" height="17.14" fill="#dfff20"/><rect x="1057.47" y="271.05" width="2.72" height="17.14" fill="#b2ff4d"/><rect x="1059.89" y="271.05" width="2.72" height="17.14" fill="#8aff75"/><rect x="1062.30" y="271.05" width="2.72" height="17.14" fill="#54ffab"/><rect x="1064.72" y="271.05" width="2.72" height="17.14" fill="#6cff93"/><rect x="1067.14" y="271.05" width="2.72" height="17.14" fill="#5affa5"/><rect x="1069.55" y="271.05" width="2.72" height="17.14" fill="#51ffae"/><rect x="1071.97" y="271.05" width="2.72" height="17.14" fill="#57ffa8"/><rect x="1074.38" y="271.05" width="2.72" height="17.14" fill="#67ff98"/><rect x="1076.80" y="271.05" width="2.72" height="17.14" fill="#6dff92"/><rect x="1079.22" y="271.05" width="2.72" height="17.14" fill="#74ff8b"/><rect x="1081.63" y="271.05" width="2.72" height="17.14" fill="#4dffb2"/><rect x="1084.05" y="271.05" width="2.72" height="17.14" fill="#40ffbf"/><rect x="1086.46" y="271.05" width="2.72" height="17.14" fill="#4cffb3"/><rect x="1088.88" y="271.05" width="2.72" height="17.14" fill="#49ffb6"/><rect x="1091.30" y="271.05" width="2.72" height="17.14" fill="#60ff9f"/><rect x="1093.71" y="271.05" width="2.72" height="17.14" fill="#42ffbd"/><rect x="1096.13" y="271.05" width="2.72" height="17.14" fill="#5effa1"/><rect x="1098.54" y="271.05" width="2.72" height="17.14" fill="#55ffaa"/><rect x="1100.96" y="271.05" width="2.72" height="17.14" fill="#69ff96"/><rect x="1103.38" y="271.05" width="2.72" height="17.14" fill="#7cff83"/><rect x="1105.79" y="271.05" width="2.72" height="17.14" fill="#53ffac"/><rect x="1108.21" y="271.05" width="2.72" height="17.14" fill="#5effa1"/><rect x="1110.62" y="271.05" width="2.72" height="17.14" fill="#5dffa2"/><rect x="1113.04" y="271.05" width="2.72" height="17.14" fill="#63ff9c"/><rect x="1115.46" y="271.05" width="2.72" height="17.14" fill="#63ff9c"/><rect x="1117.87" y="271.05" width="2.72" height="17.14" fill="#5dffa2"/><rect x="1120.29" y="271.05" width="2.72" height="17.14" fill="#61ff9e"/><rect x="1122.70" y="271.05" width="2.72" height="17.14" fill="#5fffa0"/><rect x="1125.12" y="271.05" width="2.72" height="17.14" fill="#4dffb2"/><rect x="1127.54" y="271.05" width="2.72" height="17.14" fill="#5fffa0"/><rect x="1129.95" y="271.05" width="2.72" height="17.14" fill="#45ffba"/><rect x="1132.37" y="271.05" width="2.72" height="17.14" fill="#6cff93"/><rect x="1134.78" y="271.05" width="2.72" height="17.14" fill="#66ff99"/><rect x="1016.40" y="254.21" width="2.72" height="17.14" fill="#71ff8e"/><rect x="1018.82" y="254.21" width="2.72" height="17.14" fill="#61ff9e"/><rect x="1021.23" y="254.21" width="2.72" height="17.14" fill="#66ff99"/><rect x="1023.65" y="254.21" width="2.72" height="17.14" fill="#56ffa9"/><rect x="1026.06" y="254.21" width="2.72" height="17.14" fill="#4fffb0"/><rect x="1028.48" y="254.21" width="2.72" height="17.14" fill="#54ffab"/><rect x="1030.90" y="254.21" width="2.72" height="17.14" fill="#64ff9b"/><rect x="1033.31" y="254.21" width="2.72" height="17.14" fill="#6cff93"/><rect x="1035.73" y="254.21" width="2.72" height="17.14" fill="#49ffb6"/><rect x="1038.14" y="254.21" width="2.72" height="17.14" fill="#4fffb0"/><rect x="1040.56" y="254.21" width="2.72" height="17.14" fill="#73ff8c"/><rect x="1042.98" y="254.21" width="2.72" height="17.14" fill="#8cff73"/><rect x="1045.39" y="254.21" width="2.72" height="17.14" fill="#ccff33"/><rect x="1047.81" y="254.21" width="2.72" height="17.14" fill="#ffe400"/><rect x="1050.22" y="254.21" width="2.72" height="17.14" fill="#ffbe00"/><rect x="1052.64" y="254.21" width="2.72" height="17.14" fill="#fff800"/><rect x="1055.06" y="254.21" width="2.72" height="17.14" fill="#dcff23"/><rect x="1057.47" y="254.21" width="2.72" height="17.14" fill="#aeff51"/><rect x="1059.89" y="254.21" width="2.72" height="17.14" fill="#8cff73"/><rect x="1062.30" y="254.21" width="2.72" height="17.14" fill="#67ff98"/><rect x="1064.72" y="254.21" width="2.72" height="17.14" fill="#64ff9b"/><rect x="1067.14" y="254.21" width="2.72" height="17.14" fill="#5affa5"/><rect x="1069.55" y="254.21" width="2.72" height="17.14" fill="#57ffa8"/><rect x="1071.97" y="254.21" width="2.72" height="17.14" fill="#65ff9a"/><rect x="1074.38" y="254.21" width="2.72" height="17.14" fill="#5bffa4"/><rect x="1076.80" y="254.21" width="2.72" height="17.14" fill="#59ffa6"/><rect x="1079.22" y="254.21" width="2.72" height="17.14" fill="#5cffa3"/><rect x="1081.63" y="254.21" width="2.72" height="17.14" fill="#53ffac"/><rect x="1084.05" y="254.21" width="2.72" height="17.14" fill="#38ffc7"/><rect x="1086.46" y="254.21" width="2.72" height="17.14" fill="#70ff8f"/><rect x="1088.88" y="254.21" width="2.72" height="17.14" fill="#4effb1"/><rect x="1091.30" y="254.21" width="2.72" height="17.14" fill="#57ffa8"/><rect x="1093.71" y="254.21" width="2.72" height="17.14" fill="#59ffa6"/><rect x="1096.13" y="254.21" width="2.72" height="17.14" fill="#55ffaa"/><rect x="1098.54" y="254.21" width="2.72" height="17.14" fill="#5affa5"/><rect x="1100.96" y="254.21" width="2.72" height="17.14" fill="#67ff98"/><rect x="1103.38" y="254.21" width="2.72" height="17.14" fill="#74ff8b"/><rect x="1105.79" y="254.21" width="2.72" height="17.14" fill="#4bffb4"/><rect x="1108.21" y="254.21" width="2.72" height="17.14" fill="#5dffa2"/><rect x="1110.62" y="254.21" width="2.72" height="17.14" fill="#55ffaa"/><rect x="1113.04" y="254.21" width="2.72" height="17.14" fill="#65ff9a"/><rect x="1115.46" y="254.21" width="2.72" height="17.14" fill="#57ffa8"/><rect x="1117.87" y="254.21" width="2.72" height="17.14" fill="#65ff9a"/><rect x="1120.29" y="254.21" width="2.72" height="17.14" fill="#5cffa3"/><rect x="1122.70" y="254.21" width="2.72" height="17.14" fill="#59ffa6"/><rect x="1125.12" y="254.21" width="2.72" height="17.14" fill="#4affb5"/><rect x="1127.54" y="254.21" width="2.72" height="17.14" fill="#5fffa0"/><rect x="1129.95" y="254.21" width="2.72" height="17.14" fill="#3fffc0"/><rect x="1132.37" y="254.21" width="2.72" height="17.14" fill="#68ff97"/><rect x="1134.78" y="254.21" width="2.72" height="17.14" fill="#49ffb6"/><rect x="1016.40" y="237.37" width="2.72" height="17.14" fill="#70ff8f"/><rect x="1018.82" y="237.37" width="2.72" height="17.14" fill="#76ff89"/><rect x="1021.23" y="237.37" width="2.72" height="17.14" fill="#84ff7b"/><rect x="1023.65" y="237.37" width="2.72" height="17.14" fill="#52ffad"/><rect x="1026.06" y="237.37" width="2.72" height="17.14" fill="#3affc5"/><rect x="1028.48" y="237.37" width="2.72" height="17.14" fill="#57ffa8"/><rect x="1030.90" y="237.37" width="2.72" height="17.14" fill="#58ffa7"/><rect x="1033.31" y="237.37" width="2.72" height="17.14" fill="#7eff81"/><rect x="1035.73" y="237.37" width="2.72" height="17.14" fill="#56ffa9"/><rect x="1038.14" y="237.37" width="2.72" height="17.14" fill="#50ffaf"/><rect x="1040.56" y="237.37" width="2.72" height="17.14" fill="#83ff7c"/><rect x="1042.98" y="237.37" width="2.72" height="17.14" fill="#97ff68"/><rect x="1045.39" y="237.37" width="2.72" height="17.14" fill="#c2ff3d"/><rect x="1047.81" y="237.37" width="2.72" height="17.14" fill="#ffe100"/><rect x="1050.22" y="237.37" width="2.72" height="17.14" fill="#ffbe00"/><rect x="1052.64" y="237.37" width="2.72" height="17.14" fill="#fff800"/><rect x="1055.06" y="237.37" width="2.72" height="17.14" fill="#deff21"/><rect x="1057.47" y="237.37" width="2.72" height="17.14" fill="#acff53"/><rect x="1059.89" y="237.37" width="2.72" height="17.14" fill="#86ff79"/><rect x="1062.30" y="237.37" width="2.72" height="17.14" fill="#61ff9e"/><rect x="1064.72" y="237.37" width="2.72" height="17.14" fill="#5dffa2"/><rect x="1067.14" y="237.37" width="2.72" height="17.14" fill="#70ff8f"/><rect x="1069.55" y="237.37" width="2.72" height="17.14" fill="#5cffa3"/><rect x="1071.97" y="237.37" width="2.72" height="17.14" fill="#60ff9f"/><rect x="1074.38" y="237.37" width="2.72" height="17.14" fill="#4fffb0"/><rect x="1076.80" y="237.37" width="2.72" height="17.14" fill="#63ff9c"/><rect x="1079.22" y="237.37" width="2.72" height="17.14" fill="#72ff8d"/><rect x="1081.63" y="237.37" width="2.72" height="17.14" fill="#51ffae"/><rect x="1084.05" y="237.37" width="2.72" height="17.14" fill="#51ffae"/><rect x="1086.46" y="237.37" width="2.72" height="17.14" fill="#60ff9f"/><rect x="1088.88" y="237.37" width="2.72" height="17.14" fill="#4fffb0"/><rect x="1091.30" y="237.37" width="2.72" height="17.14" fill="#58ffa7"/><rect x="1093.71" y="237.37" width="2.72" height="17.14" fill="#4cffb3"/><rect x="1096.13" y="237.37" width="2.72" height="17.14" fill="#68ff97"/><rect x="1098.54" y="237.37" width="2.72" height="17.14" fill="#4effb1"/><rect x="1100.96" y="237.37" width="2.72" height="17.14" fill="#6eff91"/><rect x="1103.38" y="237.37" width="2.72" height="17.14" fill="#7cff83"/><rect x="1105.79" y="237.37" width="2.72" height="17.14" fill="#52ffad"/><rect x="1108.21" y="237.37" width="2.72" height="17.14" fill="#6dff92"/><rect x="1110.62" y="237.37" width="2.72" height="17.14" fill="#41ffbe"/><rect x="1113.04" y="237.37" width="2.72" height="17.14" fill="#54ffab"/><rect x="1115.46" y="237.37" width="2.72" height="17.14" fill="#6dff92"/><rect x="1117.87" y="237.37" width="2.72" height="17.14" fill="#67ff98"/><rect x="1120.29" y="237.37" width="2.72" height="17.14" fill="#4effb1"/><rect x="1122.70" y="237.37" width="2.72" height="17.14" fill="#62ff9d"/><rect x="1125.12" y="237.37" width="2.72" height="17.14" fill="#63ff9c"/><rect x="1127.54" y="237.37" width="2.72" height="17.14" fill="#6fff90"/><rect x="1129.95" y="237.37" width="2.72" height="17.14" fill="#4fffb0"/><rect x="1132.37" y="237.37" width="2.72" height="17.14" fill="#6dff92"/><rect x="1134.78" y="237.37" width="2.72" height="17.14" fill="#53ffac"/><rect x="1016.40" y="220.53" width="2.72" height="17.14" fill="#60ff9f"/><rect x="1018.82" y="220.53" width="2.72" height="17.14" fill="#5effa1"/><rect x="1021.23" y="220.53" width="2.72" height="17.14" fill="#66ff99"/><rect x="1023.65" y="220.53" width="2.72" height="17.14" fill="#54ffab"/><rect x="1026.06" y="220.53" width="2.72" height="17.14" fill="#58ffa7"/><rect x="1028.48" y="220.53" width="2.72" height="17.14" fill="#59ffa6"/><rect x="1030.90" y="220.53" width="2.72" height="17.14" fill="#53ffac"/><rect x="1033.31" y="220.53" width="2.72" height="17.14" fill="#75ff8a"/><rect x="1035.73" y="220.53" width="2.72" height="17.14" fill="#46ffb9"/><rect x="1038.14" y="220.53" width="2.72" height="17.14" fill="#52ffad"/><rect x="1040.56" y="220.53" width="2.72" height="17.14" fill="#7aff85"/><rect x="1042.98" y="220.53" width="2.72" height="17.14" fill="#91ff6e"/><rect x="1045.39" y="220.53" width="2.72" height="17.14" fill="#c9ff36"/><rect x="1047.81" y="220.53" width="2.72" height="17.14" fill="#ffc900"/><rect x="1050.22" y="220.53" width="2.72" height="17.14" fill="#ffa200"/><rect x="1052.64" y="220.53" width="2.72" height="17.14" fill="#fff100"/><rect x="1055.06" y="220.53" width="2.72" height="17.14" fill="#deff21"/><rect x="1057.47" y="220.53" width="2.72" height="17.14" fill="#b3ff4c"/><rect x="1059.89" y="220.53" width="2.72" height="17.14" fill="#8aff75"/><rect x="1062.30" y="220.53" width="2.72" height="17.14" fill="#6dff92"/><rect x="1064.72" y="220.53" width="2.72" height="17.14" fill="#6eff91"/><rect x="1067.14" y="220.53" width="2.72" height="17.14" fill="#4dffb2"/><rect x="1069.55" y="220.53" width="2.72" height="17.14" fill="#50ffaf"/><rect x="1071.97" y="220.53" width="2.72" height="17.14" fill="#5dffa2"/><rect x="1074.38" y="220.53" width="2.72" height="17.14" fill="#64ff9b"/><rect x="1076.80" y="220.53" width="2.72" height="17.14" fill="#71ff8e"/><rect x="1079.22" y="220.53" width="2.72" height="17.14" fill="#6eff91"/><rect x="1081.63" y="220.53" width="2.72" height="17.14" fill="#5cffa3"/><rect x="1084.05" y="220.53" width="2.72" height="17.14" fill="#46ffb9"/><rect x="1086.46" y="220.53" width="2.72" height="17.14" fill="#62ff9d"/><rect x="1088.88" y="220.53" width="2.72" height="17.14" fill="#4dffb2"/><rect x="1091.30" y="220.53" width="2.72" height="17.14" fill="#61ff9e"/><rect x="1093.71" y="220.53" width="2.72" height="17.14" fill="#46ffb9"/><rect x="1096.13" y="220.53" width="2.72" height="17.14" fill="#54ffab"/><rect x="1098.54" y="220.53" width="2.72" height="17.14" fill="#4affb5"/><rect x="1100.96" y="220.53" width="2.72" height="17.14" fill="#6aff95"/><rect x="1103.38" y="220.53" width="2.72" height="17.14" fill="#91ff6e"/><rect x="1105.79" y="220.53" width="2.72" height="17.14" fill="#65ff9a"/><rect x="1108.21" y="220.53" width="2.72" height="17.14" fill="#6fff90"/><rect x="1110.62" y="220.53" width="2.72" height="17.14" fill="#54ffab"/><rect x="1113.04" y="220.53" width="2.72" height="17.14" fill="#58ffa7"/><rect x="1115.46" y="220.53" width="2.72" height="17.14" fill="#6bff94"/><rect x="1117.87" y="220.53" width="2.72" height="17.14" fill="#50ffaf"/><rect x="1120.29" y="220.53" width="2.72" height="17.14" fill="#5effa1"/><rect x="1122.70" y="220.53" width="2.72" height="17.14" fill="#56ffa9"/><rect x="1125.12" y="220.53" width="2.72" height="17.14" fill="#57ffa8"/><rect x="1127.54" y="220.53" width="2.72" height="17.14" fill="#5dffa2"/><rect x="1129.95" y="220.53" width="2.72" height="17.14" fill="#51ffae"/><rect x="1132.37" y="220.53" width="2.72" height="17.14" fill="#77ff88"/><rect x="1134.78" y="220.53" width="2.72" height="17.14" fill="#63ff9c"/><rect x="1016.40" y="203.68" width="2.72" height="17.14" fill="#63ff9c"/><rect x="1018.82" y="203.68" width="2.72" height="17.14" fill="#57ffa8"/><rect x="1021.23" y="203.68" width="2.72" height="17.14" fill="#70ff8f"/><rect x="1023.65" y="203.68" width="2.72" height="17.14" fill="#4affb5"/><rect x="1026.06" y="203.68" width="2.72" height="17.14" fill="#50ffaf"/><rect x="1028.48" y="203.68" width="2.72" height="17.14" fill="#55ffaa"/><rect x="1030.90" y="203.68" width="2.72" height="17.14" fill="#61ff9e"/><rect x="1033.31" y="203.68" width="2.72" height="17.14" fill="#58ffa7"/><rect x="1035.73" y="203.68" width="2.72" height="17.14" fill="#58ffa7"/><rect x="1038.14" y="203.68" width="2.72" height="17.14" fill="#52ffad"/><rect x="1040.56" y="203.68" width="2.72" height="17.14" fill="#74ff8b"/><rect x="1042.98" y="203.68" width="2.72" height="17.14" fill="#a1ff5e"/><rect x="1045.39" y="203.68" width="2.72" height="17.14" fill="#d1ff2e"/><rect x="1047.81" y="203.68" width="2.72" height="17.14" fill="#ffbf00"/><rect x="1050.22" y="203.68" width="2.72" height="17.14" fill="#ff9e00"/><rect x="1052.64" y="203.68" width="2.72" height="17.14" fill="#fff000"/><rect x="1055.06" y="203.68" width="2.72" height="17.14" fill="#deff21"/><rect x="1057.47" y="203.68" width="2.72" height="17.14" fill="#b5ff4a"/><rect x="1059.89" y="203.68" width="2.72" height="17.14" fill="#84ff7b"/><rect x="1062.30" y="203.68" width="2.72" height="17.14" fill="#6aff95"/><rect x="1064.72" y="203.68" width="2.72" height="17.14" fill="#6bff94"/><rect x="1067.14" y="203.68" width="2.72" height="17.14" fill="#57ffa8"/><rect x="1069.55" y="203.68" width="2.72" height="17.14" fill="#5affa5"/><rect x="1071.97" y="203.68" width="2.72" height="17.14" fill="#56ffa9"/><rect x="1074.38" y="203.68" width="2.72" height="17.14" fill="#52ffad"/><rect x="1076.80" y="203.68" width="2.72" height="17.14" fill="#6dff92"/><rect x="1079.22" y="203.68" width="2.72" height="17.14" fill="#70ff8f"/><rect x="1081.63" y="203.68" width="2.72" height="17.14" fill="#5fffa0"/><rect x="1084.05" y="203.68" width="2.72" height="17.14" fill="#3dffc2"/><rect x="1086.46" y="203.68" width="2.72" height="17.14" fill="#50ffaf"/><rect x="1088.88" y="203.68" width="2.72" height="17.14" fill="#4fffb0"/><rect x="1091.30" y="203.68" width="2.72" height="17.14" fill="#59ffa6"/><rect x="1093.71" y="203.68" width="2.72" height="17.14" fill="#39ffc6"/><rect x="1096.13" y="203.68" width="2.72" height="17.14" fill="#5bffa4"/><rect x="1098.54" y="203.68" width="2.72" height="17.14" fill="#43ffbc"/><rect x="1100.96" y="203.68" width="2.72" height="17.14" fill="#5effa1"/><rect x="1103.38" y="203.68" width="2.72" height="17.14" fill="#86ff79"/><rect x="1105.79" y="203.68" width="2.72" height="17.14" fill="#5fffa0"/><rect x="1108.21" y="203.68" width="2.72" height="17.14" fill="#68ff97"/><rect x="1110.62" y="203.68" width="2.72" height="17.14" fill="#4dffb2"/><rect x="1113.04" y="203.68" width="2.72" height="17.14" fill="#4dffb2"/><rect x="1115.46" y="203.68" width="2.72" height="17.14" fill="#60ff9f"/><rect x="1117.87" y="203.68" width="2.72" height="17.14" fill="#55ffaa"/><rect x="1120.29" y="203.68" width="2.72" height="17.14" fill="#5effa1"/><rect x="1122.70" y="203.68" width="2.72" height="17.14" fill="#60ff9f"/><rect x="1125.12" y="203.68" width="2.72" height="17.14" fill="#56ffa9"/><rect x="1127.54" y="203.68" width="2.72" height="17.14" fill="#73ff8c"/><rect x="1129.95" y="203.68" width="2.72" height="17.14" fill="#38ffc7"/><rect x="1132.37" y="203.68" width="2.72" height="17.14" fill="#77ff88"/><rect x="1134.78" y="203.68" width="2.72" height="17.14" fill="#54ffab"/><rect x="1016.40" y="186.84" width="2.72" height="17.14" fill="#83ff7c"/><rect x="1018.82" y="186.84" width="2.72" height="17.14" fill="#6aff95"/><rect x="1021.23" y="186.84" width="2.72" height="17.14" fill="#57ffa8"/><rect x="1023.65" y="186.84" width="2.72" height="17.14" fill="#5affa5"/><rect x="1026.06" y="186.84" width="2.72" height="17.14" fill="#46ffb9"/><rect x="1028.48" y="186.84" width="2.72" height="17.14" fill="#65ff9a"/><rect x="1030.90" y="186.84" width="2.72" height="17.14" fill="#57ffa8"/><rect x="1033.31" y="186.84" width="2.72" height="17.14" fill="#69ff96"/><rect x="1035.73" y="186.84" width="2.72" height="17.14" fill="#4fffb0"/><rect x="1038.14" y="186.84" width="2.72" height="17.14" fill="#56ffa9"/><rect x="1040.56" y="186.84" width="2.72" height="17.14" fill="#76ff89"/><rect x="1042.98" y="186.84" width="2.72" height="17.14" fill="#86ff79"/><rect x="1045.39" y="186.84" width="2.72" height="17.14" fill="#c3ff3c"/><rect x="1047.81" y="186.84" width="2.72" height="17.14" fill="#f9ff06"/><rect x="1050.22" y="186.84" width="2.72" height="17.14" fill="#ffec00"/><rect x="1052.64" y="186.84" width="2.72" height="17.14" fill="#f9ff06"/><rect x="1055.06" y="186.84" width="2.72" height="17.14" fill="#ddff22"/><rect x="1057.47" y="186.84" width="2.72" height="17.14" fill="#b0ff4f"/><rect x="1059.89" y="186.84" width="2.72" height="17.14" fill="#83ff7c"/><rect x="1062.30" y="186.84" width="2.72" height="17.14" fill="#66ff99"/><rect x="1064.72" y="186.84" width="2.72" height="17.14" fill="#73ff8c"/><rect x="1067.14" y="186.84" width="2.72" height="17.14" fill="#55ffaa"/><rect x="1069.55" y="186.84" width="2.72" height="17.14" fill="#53ffac"/><rect x="1071.97" y="186.84" width="2.72" height="17.14" fill="#48ffb7"/><rect x="1074.38" y="186.84" width="2.72" height="17.14" fill="#58ffa7"/><rect x="1076.80" y="186.84" width="2.72" height="17.14" fill="#5dffa2"/><rect x="1079.22" y="186.84" width="2.72" height="17.14" fill="#5fffa0"/><rect x="1081.63" y="186.84" width="2.72" height="17.14" fill="#57ffa8"/><rect x="1084.05" y="186.84" width="2.72" height="17.14" fill="#58ffa7"/><rect x="1086.46" y="186.84" width="2.72" height="17.14" fill="#62ff9d"/><rect x="1088.88" y="186.84" width="2.72" height="17.14" fill="#49ffb6"/><rect x="1091.30" y="186.84" width="2.72" height="17.14" fill="#70ff8f"/><rect x="1093.71" y="186.84" width="2.72" height="17.14" fill="#49ffb6"/><rect x="1096.13" y="186.84" width="2.72" height="17.14" fill="#4affb5"/><rect x="1098.54" y="186.84" width="2.72" height="17.14" fill="#56ffa9"/><rect x="1100.96" y="186.84" width="2.72" height="17.14" fill="#55ffaa"/><rect x="1103.38" y="186.84" width="2.72" height="17.14" fill="#95ff6a"/><rect x="1105.79" y="186.84" width="2.72" height="17.14" fill="#4effb1"/><rect x="1108.21" y="186.84" width="2.72" height="17.14" fill="#60ff9f"/><rect x="1110.62" y="186.84" width="2.72" height="17.14" fill="#3bffc4"/><rect x="1113.04" y="186.84" width="2.72" height="17.14" fill="#59ffa6"/><rect x="1115.46" y="186.84" width="2.72" height="17.14" fill="#5affa5"/><rect x="1117.87" y="186.84" width="2.72" height="17.14" fill="#5affa5"/><rect x="1120.29" y="186.84" width="2.72" height="17.14" fill="#5cffa3"/><rect x="1122.70" y="186.84" width="2.72" height="17.14" fill="#57ffa8"/><rect x="1125.12" y="186.84" width="2.72" height="17.14" fill="#59ffa6"/><rect x="1127.54" y="186.84" width="2.72" height="17.14" fill="#6cff93"/><rect x="1129.95" y="186.84" width="2.72" height="17.14" fill="#52ffad"/><rect x="1132.37" y="186.84" width="2.72" height="17.14" fill="#6aff95"/><rect x="1134.78" y="186.84" width="2.72" height="17.14" fill="#4bffb4"/><rect x="1016.40" y="170.00" width="2.72" height="17.14" fill="#6eff91"/><rect x="1018.82" y="170.00" width="2.72" height="17.14" fill="#79ff86"/><rect x="1021.23" y="170.00" width="2.72" height="17.14" fill="#63ff9c"/><rect x="1023.65" y="170.00" width="2.72" height="17.14" fill="#4effb1"/><rect x="1026.06" y="170.00" width="2.72" height="17.14" fill="#44ffbb"/><rect x="1028.48" y="170.00" width="2.72" height="17.14" fill="#50ffaf"/><rect x="1030.90" y="170.00" width="2.72" height="17.14" fill="#58ffa7"/><rect x="1033.31" y="170.00" width="2.72" height="17.14" fill="#68ff97"/><rect x="1035.73" y="170.00" width="2.72" height="17.14" fill="#5fffa0"/><rect x="1038.14" y="170.00" width="2.72" height="17.14" fill="#57ffa8"/><rect x="1040.56" y="170.00" width="2.72" height="17.14" fill="#77ff88"/><rect x="1042.98" y="170.00" width="2.72" height="17.14" fill="#88ff77"/><rect x="1045.39" y="170.00" width="2.72" height="17.14" fill="#c1ff3e"/><rect x="1047.81" y="170.00" width="2.72" height="17.14" fill="#f3ff0c"/><rect x="1050.22" y="170.00" width="2.72" height="17.14" fill="#fff100"/><rect x="1052.64" y="170.00" width="2.72" height="17.14" fill="#f8ff07"/><rect x="1055.06" y="170.00" width="2.72" height="17.14" fill="#ddff22"/><rect x="1057.47" y="170.00" width="2.72" height="17.14" fill="#b2ff4d"/><rect x="1059.89" y="170.00" width="2.72" height="17.14" fill="#89ff76"/><rect x="1062.30" y="170.00" width="2.72" height="17.14" fill="#68ff97"/><rect x="1064.72" y="170.00" width="2.72" height="17.14" fill="#62ff9d"/><rect x="1067.14" y="170.00" width="2.72" height="17.14" fill="#64ff9b"/><rect x="1069.55" y="170.00" width="2.72" height="17.14" fill="#58ffa7"/><rect x="1071.97" y="170.00" width="2.72" height="17.14" fill="#71ff8e"/><rect x="1074.38" y="170.00" width="2.72" height="17.14" fill="#54ffab"/><rect x="1076.80" y="170.00" width="2.72" height="17.14" fill="#61ff9e"/><rect x="1079.22" y="170.00" width="2.72" height="17.14" fill="#76ff89"/><rect x="1081.63" y="170.00" width="2.72" height="17.14" fill="#5cffa3"/><rect x="1084.05" y="170.00" width="2.72" height="17.14" fill="#54ffab"/><rect x="1086.46" y="170.00" width="2.72" height="17.14" fill="#64ff9b"/><rect x="1088.88" y="170.00" width="2.72" height="17.14" fill="#4cffb3"/><rect x="1091.30" y="170.00" width="2.72" height="17.14" fill="#56ffa9"/><rect x="1093.71" y="170.00" width="2.72" height="17.14" fill="#3cffc3"/><rect x="1096.13" y="170.00" width="2.72" height="17.14" fill="#52ffad"/><rect x="1098.54" y="170.00" width="2.72" height="17.14" fill="#69ff96"/><rect x="1100.96" y="170.00" width="2.72" height="17.14" fill="#65ff9a"/><rect x="1103.38" y="170.00" width="2.72" height="17.14" fill="#8aff75"/><rect x="1105.79" y="170.00" width="2.72" height="17.14" fill="#65ff9a"/><rect x="1108.21" y="170.00" width="2.72" height="17.14" fill="#6cff93"/><rect x="1110.62" y="170.00" width="2.72" height="17.14" fill="#56ffa9"/><rect x="1113.04" y="170.00" width="2.72" height="17.14" fill="#56ffa9"/><rect x="1115.46" y="170.00" width="2.72" height="17.14" fill="#62ff9d"/><rect x="1117.87" y="170.00" width="2.72" height="17.14" fill="#65ff9a"/><rect x="1120.29" y="170.00" width="2.72" height="17.14" fill="#5dffa2"/><rect x="1122.70" y="170.00" width="2.72" height="17.14" fill="#4fffb0"/><rect x="1125.12" y="170.00" width="2.72" height="17.14" fill="#4dffb2"/><rect x="1127.54" y="170.00" width="2.72" height="17.14" fill="#5dffa2"/><rect x="1129.95" y="170.00" width="2.72" height="17.14" fill="#58ffa7"/><rect x="1132.37" y="170.00" width="2.72" height="17.14" fill="#6bff94"/><rect x="1134.78" y="170.00" width="2.72" height="17.14" fill="#4bffb4"/><rect x="1016.40" y="153.16" width="2.72" height="17.14" fill="#68ff97"/><rect x="1018.82" y="153.16" width="2.72" height="17.14" fill="#70ff8f"/><rect x="1021.23" y="153.16" width="2.72" height="17.14" fill="#67ff98"/><rect x="1023.65" y="153.16" width="2.72" height="17.14" fill="#57ffa8"/><rect x="1026.06" y="153.16" width="2.72" height="17.14" fill="#4cffb3"/><rect x="1028.48" y="153.16" width="2.72" height="17.14" fill="#5effa1"/><rect x="1030.90" y="153.16" width="2.72" height="17.14" fill="#6bff94"/><rect x="1033.31" y="153.16" width="2.72" height="17.14" fill="#78ff87"/><rect x="1035.73" y="153.16" width="2.72" height="17.14" fill="#40ffbf"/><rect x="1038.14" y="153.16" width="2.72" height="17.14" fill="#64ff9b"/><rect x="1040.56" y="153.16" width="2.72" height="17.14" fill="#7bff84"/><rect x="1042.98" y="153.16" width="2.72" height="17.14" fill="#90ff6f"/><rect x="1045.39" y="153.16" width="2.72" height="17.14" fill="#caff35"/><rect x="1047.81" y="153.16" width="2.72" height="17.14" fill="#efff10"/><rect x="1050.22" y="153.16" width="2.72" height="17.14" fill="#fff500"/><rect x="1052.64" y="153.16" width="2.72" height="17.14" fill="#f7ff08"/><rect x="1055.06" y="153.16" width="2.72" height="17.14" fill="#dbff24"/><rect x="1057.47" y="153.16" width="2.72" height="17.14" fill="#b0ff4f"/><rect x="1059.89" y="153.16" width="2.72" height="17.14" fill="#89ff76"/><rect x="1062.30" y="153.16" width="2.72" height="17.14" fill="#65ff9a"/><rect x="1064.72" y="153.16" width="2.72" height="17.14" fill="#4fffb0"/><rect x="1067.14" y="153.16" width="2.72" height="17.14" fill="#5dffa2"/><rect x="1069.55" y="153.16" width="2.72" height="17.14" fill="#56ffa9"/><rect x="1071.97" y="153.16" width="2.72" height="17.14" fill="#50ffaf"/><rect x="1074.38" y="153.16" width="2.72" height="17.14" fill="#72ff8d"/><rect x="1076.80" y="153.16" width="2.72" height="17.14" fill="#62ff9d"/><rect x="1079.22" y="153.16" width="2.72" height="17.14" fill="#65ff9a"/><rect x="1081.63" y="153.16" width="2.72" height="17.14" fill="#5bffa4"/><rect x="1084.05" y="153.16" width="2.72" height="17.14" fill="#3effc1"/><rect x="1086.46" y="153.16" width="2.72" height="17.14" fill="#5cffa3"/><rect x="1088.88" y="153.16" width="2.72" height="17.14" fill="#4bffb4"/><rect x="1091.30" y="153.16" width="2.72" height="17.14" fill="#5dffa2"/><rect x="1093.71" y="153.16" width="2.72" height="17.14" fill="#45ffba"/><rect x="1096.13" y="153.16" width="2.72" height="17.14" fill="#5bffa4"/><rect x="1098.54" y="153.16" width="2.72" height="17.14" fill="#44ffbb"/><rect x="1100.96" y="153.16" width="2.72" height="17.14" fill="#64ff9b"/><rect x="1103.38" y="153.16" width="2.72" height="17.14" fill="#7dff82"/><rect x="1105.79" y="153.16" width="2.72" height="17.14" fill="#5dffa2"/><rect x="1108.21" y="153.16" width="2.72" height="17.14" fill="#5dffa2"/><rect x="1110.62" y="153.16" width="2.72" height="17.14" fill="#46ffb9"/><rect x="1113.04" y="153.16" width="2.72" height="17.14" fill="#5affa5"/><rect x="1115.46" y="153.16" width="2.72" height="17.14" fill="#58ffa7"/><rect x="1117.87" y="153.16" width="2.72" height="17.14" fill="#74ff8b"/><rect x="1120.29" y="153.16" width="2.72" height="17.14" fill="#60ff9f"/><rect x="1122.70" y="153.16" width="2.72" height="17.14" fill="#5cffa3"/><rect x="1125.12" y="153.16" width="2.72" height="17.14" fill="#48ffb7"/><rect x="1127.54" y="153.16" width="2.72" height="17.14" fill="#73ff8c"/><rect x="1129.95" y="153.16" width="2.72" height="17.14" fill="#60ff9f"/><rect x="1132.37" y="153.16" width="2.72" height="17.14" fill="#76ff89"/><rect x="1134.78" y="153.16" width="2.72" height="17.14" fill="#48ffb7"/><rect x="1016.40" y="136.32" width="2.72" height="17.14" fill="#66ff99"/><rect x="1018.82" y="136.32" width="2.72" height="17.14" fill="#67ff98"/><rect x="1021.23" y="136.32" width="2.72" height="17.14" fill="#63ff9c"/><rect x="1023.65" y="136.32" width="2.72" height="17.14" fill="#49ffb6"/><rect x="1026.06" y="136.32" width="2.72" height="17.14" fill="#3fffc0"/><rect x="1028.48" y="136.32" width="2.72" height="17.14" fill="#53ffac"/><rect x="1030.90" y="136.32" width="2.72" height="17.14" fill="#62ff9d"/><rect x="1033.31" y="136.32" width="2.72" height="17.14" fill="#63ff9c"/><rect x="1035.73" y="136.32" width="2.72" height="17.14" fill="#51ffae"/><rect x="1038.14" y="136.32" width="2.72" height="17.14" fill="#71ff8e"/><rect x="1040.56" y="136.32" width="2.72" height="17.14" fill="#8bff74"/><rect x="1042.98" y="136.32" width="2.72" height="17.14" fill="#8cff73"/><rect x="1045.39" y="136.32" width="2.72" height="17.14" fill="#c1ff3e"/><rect x="1047.81" y="136.32" width="2.72" height="17.14" fill="#f0ff0f"/><rect x="1050.22" y="136.32" width="2.72" height="17.14" fill="#fff500"/><rect x="1052.64" y="136.32" width="2.72" height="17.14" fill="#f7ff08"/><rect x="1055.06" y="136.32" width="2.72" height="17.14" fill="#dcff23"/><rect x="1057.47" y="136.32" width="2.72" height="17.14" fill="#acff53"/><rect x="1059.89" y="136.32" width="2.72" height="17.14" fill="#82ff7d"/><rect x="1062.30" y="136.32" width="2.72" height="17.14" fill="#65ff9a"/><rect x="1064.72" y="136.32" width="2.72" height="17.14" fill="#72ff8d"/><rect x="1067.14" y="136.32" width="2.72" height="17.14" fill="#68ff97"/><rect x="1069.55" y="136.32" width="2.72" height="17.14" fill="#4bffb4"/><rect x="1071.97" y="136.32" width="2.72" height="17.14" fill="#57ffa8"/><rect x="1074.38" y="136.32" width="2.72" height="17.14" fill="#57ffa8"/><rect x="1076.80" y="136.32" width="2.72" height="17.14" fill="#6dff92"/><rect x="1079.22" y="136.32" width="2.72" height="17.14" fill="#6cff93"/><rect x="1081.63" y="136.32" width="2.72" height="17.14" fill="#67ff98"/><rect x="1084.05" y="136.32" width="2.72" height="17.14" fill="#45ffba"/><rect x="1086.46" y="136.32" width="2.72" height="17.14" fill="#51ffae"/><rect x="1088.88" y="136.32" width="2.72" height="17.14" fill="#4fffb0"/><rect x="1091.30" y="136.32" width="2.72" height="17.14" fill="#5cffa3"/><rect x="1093.71" y="136.32" width="2.72" height="17.14" fill="#4fffb0"/><rect x="1096.13" y="136.32" width="2.72" height="17.14" fill="#4fffb0"/><rect x="1098.54" y="136.32" width="2.72" height="17.14" fill="#53ffac"/><rect x="1100.96" y="136.32" width="2.72" height="17.14" fill="#57ffa8"/><rect x="1103.38" y="136.32" width="2.72" height="17.14" fill="#7dff82"/><rect x="1105.79" y="136.32" width="2.72" height="17.14" fill="#5fffa0"/><rect x="1108.21" y="136.32" width="2.72" height="17.14" fill="#6aff95"/><rect x="1110.62" y="136.32" width="2.72" height="17.14" fill="#42ffbd"/><rect x="1113.04" y="136.32" width="2.72" height="17.14" fill="#47ffb8"/><rect x="1115.46" y="136.32" width="2.72" height="17.14" fill="#4bffb4"/><rect x="1117.87" y="136.32" width="2.72" height="17.14" fill="#55ffaa"/><rect x="1120.29" y="136.32" width="2.72" height="17.14" fill="#6cff93"/><rect x="1122.70" y="136.32" width="2.72" height="17.14" fill="#5dffa2"/><rect x="1125.12" y="136.32" width="2.72" height="17.14" fill="#39ffc6"/><rect x="1127.54" y="136.32" width="2.72" height="17.14" fill="#5affa5"/><rect x="1129.95" y="136.32" width="2.72" height="17.14" fill="#56ffa9"/><rect x="1132.37" y="136.32" width="2.72" height="17.14" fill="#84ff7b"/><rect x="1134.78" y="136.32" width="2.72" height="17.14" fill="#62ff9d"/><rect x="1016.40" y="119.47" width="2.72" height="17.14" fill="#6fff90"/><rect x="1018.82" y="119.47" width="2.72" height="17.14" fill="#62ff9d"/><rect x="1021.23" y="119.47" width="2.72" height="17.14" fill="#5dffa2"/><rect x="1023.65" y="119.47" width="2.72" height="17.14" fill="#51ffae"/><rect x="1026.06" y="119.47" width="2.72" height="17.14" fill="#48ffb7"/><rect x="1028.48" y="119.47" width="2.72" height="17.14" fill="#53ffac"/><rect x="1030.90" y="119.47" width="2.72" height="17.14" fill="#62ff9d"/><rect x="1033.31" y="119.47" width="2.72" height="17.14" fill="#66ff99"/><rect x="1035.73" y="119.47" width="2.72" height="17.14" fill="#54ffab"/><rect x="1038.14" y="119.47" width="2.72" height="17.14" fill="#64ff9b"/><rect x="1040.56" y="119.47" width="2.72" height="17.14" fill="#82ff7d"/><rect x="1042.98" y="119.47" width="2.72" height="17.14" fill="#96ff69"/><rect x="1045.39" y="119.47" width="2.72" height="17.14" fill="#bfff40"/><rect x="1047.81" y="119.47" width="2.72" height="17.14" fill="#f1ff0e"/><rect x="1050.22" y="119.47" width="2.72" height="17.14" fill="#fff100"/><rect x="1052.64" y="119.47" width="2.72" height="17.14" fill="#f8ff07"/><rect x="1055.06" y="119.47" width="2.72" height="17.14" fill="#dbff24"/><rect x="1057.47" y="119.47" width="2.72" height="17.14" fill="#b3ff4c"/><rect x="1059.89" y="119.47" width="2.72" height="17.14" fill="#82ff7d"/><rect x="1062.30" y="119.47" width="2.72" height="17.14" fill="#69ff96"/><rect x="1064.72" y="119.47" width="2.72" height="17.14" fill="#62ff9d"/><rect x="1067.14" y="119.47" width="2.72" height="17.14" fill="#54ffab"/><rect x="1069.55" y="119.47" width="2.72" height="17.14" fill="#6dff92"/><rect x="1071.97" y="119.47" width="2.72" height="17.14" fill="#4fffb0"/><rect x="1074.38" y="119.47" width="2.72" height="17.14" fill="#69ff96"/><rect x="1076.80" y="119.47" width="2.72" height="17.14" fill="#5fffa0"/><rect x="1079.22" y="119.47" width="2.72" height="17.14" fill="#6cff93"/><rect x="1081.63" y="119.47" width="2.72" height="17.14" fill="#56ffa9"/><rect x="1084.05" y="119.47" width="2.72" height="17.14" fill="#42ffbd"/><rect x="1086.46" y="119.47" width="2.72" height="17.14" fill="#6eff91"/><rect x="1088.88" y="119.47" width="2.72" height="17.14" fill="#5effa1"/><rect x="1091.30" y="119.47" width="2.72" height="17.14" fill="#51ffae"/><rect x="1093.71" y="119.47" width="2.72" height="17.14" fill="#4affb5"/><rect x="1096.13" y="119.47" width="2.72" height="17.14" fill="#65ff9a"/><rect x="1098.54" y="119.47" width="2.72" height="17.14" fill="#4cffb3"/><rect x="1100.96" y="119.47" width="2.72" height="17.14" fill="#66ff99"/><rect x="1103.38" y="119.47" width="2.72" height="17.14" fill="#7cff83"/><rect x="1105.79" y="119.47" width="2.72" height="17.14" fill="#61ff9e"/><rect x="1108.21" y="119.47" width="2.72" height="17.14" fill="#6bff94"/><rect x="1110.62" y="119.47" width="2.72" height="17.14" fill="#58ffa7"/><rect x="1113.04" y="119.47" width="2.72" height="17.14" fill="#5cffa3"/><rect x="1115.46" y="119.47" width="2.72" height="17.14" fill="#58ffa7"/><rect x="1117.87" y="119.47" width="2.72" height="17.14" fill="#61ff9e"/><rect x="1120.29" y="119.47" width="2.72" height="17.14" fill="#55ffaa"/><rect x="1122.70" y="119.47" width="2.72" height="17.14" fill="#65ff9a"/><rect x="1125.12" y="119.47" width="2.72" height="17.14" fill="#5fffa0"/><rect x="1127.54" y="119.47" width="2.72" height="17.14" fill="#69ff96"/><rect x="1129.95" y="119.47" width="2.72" height="17.14" fill="#4cffb3"/><rect x="1132.37" y="119.47" width="2.72" height="17.14" fill="#7fff80"/><rect x="1134.78" y="119.47" width="2.72" height="17.14" fill="#57ffa8"/><rect x="1016.40" y="102.63" width="2.72" height="17.14" fill="#5fffa0"/><rect x="1018.82" y="102.63" width="2.72" height="17.14" fill="#5dffa2"/><rect x="1021.23" y="102.63" width="2.72" height="17.14" fill="#76ff89"/><rect x="1023.65" y="102.63" width="2.72" height="17.14" fill="#52ffad"/><rect x="1026.06" y="102.63" width="2.72" height="17.14" fill="#4dffb2"/><rect x="1028.48" y="102.63" width="2.72" height="17.14" fill="#58ffa7"/><rect x="1030.90" y="102.63" width="2.72" height="17.14" fill="#51ffae"/><rect x="1033.31" y="102.63" width="2.72" height="17.14" fill="#65ff9a"/><rect x="1035.73" y="102.63" width="2.72" height="17.14" fill="#54ffab"/><rect x="1038.14" y="102.63" width="2.72" height="17.14" fill="#59ffa6"/><rect x="1040.56" y="102.63" width="2.72" height="17.14" fill="#7aff85"/><rect x="1042.98" y="102.63" width="2.72" height="17.14" fill="#84ff7b"/><rect x="1045.39" y="102.63" width="2.72" height="17.14" fill="#c6ff39"/><rect x="1047.81" y="102.63" width="2.72" height="17.14" fill="#f8ff07"/><rect x="1050.22" y="102.63" width="2.72" height="17.14" fill="#ffec00"/><rect x="1052.64" y="102.63" width="2.72" height="17.14" fill="#faff05"/><rect x="1055.06" y="102.63" width="2.72" height="17.14" fill="#dcff23"/><rect x="1057.47" y="102.63" width="2.72" height="17.14" fill="#abff54"/><rect x="1059.89" y="102.63" width="2.72" height="17.14" fill="#86ff79"/><rect x="1062.30" y="102.63" width="2.72" height="17.14" fill="#75ff8a"/><rect x="1064.72" y="102.63" width="2.72" height="17.14" fill="#55ffaa"/><rect x="1067.14" y="102.63" width="2.72" height="17.14" fill="#5effa1"/><rect x="1069.55" y="102.63" width="2.72" height="17.14" fill="#51ffae"/><rect x="1071.97" y="102.63" width="2.72" height="17.14" fill="#61ff9e"/><rect x="1074.38" y="102.63" width="2.72" height="17.14" fill="#6eff91"/><rect x="1076.80" y="102.63" width="2.72" height="17.14" fill="#61ff9e"/><rect x="1079.22" y="102.63" width="2.72" height="17.14" fill="#5dffa2"/><rect x="1081.63" y="102.63" width="2.72" height="17.14" fill="#5fffa0"/><rect x="1084.05" y="102.63" width="2.72" height="17.14" fill="#43ffbc"/><rect x="1086.46" y="102.63" width="2.72" height="17.14" fill="#55ffaa"/><rect x="1088.88" y="102.63" width="2.72" height="17.14" fill="#53ffac"/><rect x="1091.30" y="102.63" width="2.72" height="17.14" fill="#54ffab"/><rect x="1093.71" y="102.63" width="2.72" height="17.14" fill="#51ffae"/><rect x="1096.13" y="102.63" width="2.72" height="17.14" fill="#4effb1"/><rect x="1098.54" y="102.63" width="2.72" height="17.14" fill="#5dffa2"/><rect x="1100.96" y="102.63" width="2.72" height="17.14" fill="#50ffaf"/><rect x="1103.38" y="102.63" width="2.72" height="17.14" fill="#8fff70"/><rect x="1105.79" y="102.63" width="2.72" height="17.14" fill="#49ffb6"/><rect x="1108.21" y="102.63" width="2.72" height="17.14" fill="#74ff8b"/><rect x="1110.62" y="102.63" width="2.72" height="17.14" fill="#48ffb7"/><rect x="1113.04" y="102.63" width="2.72" height="17.14" fill="#48ffb7"/><rect x="1115.46" y="102.63" width="2.72" height="17.14" fill="#62ff9d"/><rect x="1117.87" y="102.63" width="2.72" height="17.14" fill="#5effa1"/><rect x="1120.29" y="102.63" width="2.72" height="17.14" fill="#56ffa9"/><rect x="1122.70" y="102.63" width="2.72" height="17.14" fill="#58ffa7"/><rect x="1125.12" y="102.63" width="2.72" height="17.14" fill="#52ffad"/><rect x="1127.54" y="102.63" width="2.72" height="17.14" fill="#61ff9e"/><rect x="1129.95" y="102.63" width="2.72" height="17.14" fill="#33ffcc"/><rect x="1132.37" y="102.63" width="2.72" height="17.14" fill="#6eff91"/><rect x="1134.78" y="102.63" width="2.72" height="17.14" fill="#5affa5"/><rect x="1016.40" y="85.79" width="2.72" height="17.14" fill="#6eff91"/><rect x="1018.82" y="85.79" width="2.72" height="17.14" fill="#6bff94"/><rect x="1021.23" y="85.79" width="2.72" height="17.14" fill="#61ff9e"/><rect x="1023.65" y="85.79" width="2.72" height="17.14" fill="#70ff8f"/><rect x="1026.06" y="85.79" width="2.72" height="17.14" fill="#54ffab"/><rect x="1028.48" y="85.79" width="2.72" height="17.14" fill="#5effa1"/><rect x="1030.90" y="85.79" width="2.72" height="17.14" fill="#6dff92"/><rect x="1033.31" y="85.79" width="2.72" height="17.14" fill="#74ff8b"/><rect x="1035.73" y="85.79" width="2.72" height="17.14" fill="#51ffae"/><rect x="1038.14" y="85.79" width="2.72" height="17.14" fill="#51ffae"/><rect x="1040.56" y="85.79" width="2.72" height="17.14" fill="#84ff7b"/><rect x="1042.98" y="85.79" width="2.72" height="17.14" fill="#96ff69"/><rect x="1045.39" y="85.79" width="2.72" height="17.14" fill="#c2ff3d"/><rect x="1047.81" y="85.79" width="2.72" height="17.14" fill="#ffda00"/><rect x="1050.22" y="85.79" width="2.72" height="17.14" fill="#ffb500"/><rect x="1052.64" y="85.79" width="2.72" height="17.14" fill="#fff600"/><rect x="1055.06" y="85.79" width="2.72" height="17.14" fill="#deff21"/><rect x="1057.47" y="85.79" width="2.72" height="17.14" fill="#b0ff4f"/><rect x="1059.89" y="85.79" width="2.72" height="17.14" fill="#85ff7a"/><rect x="1062.30" y="85.79" width="2.72" height="17.14" fill="#74ff8b"/><rect x="1064.72" y="85.79" width="2.72" height="17.14" fill="#60ff9f"/><rect x="1067.14" y="85.79" width="2.72" height="17.14" fill="#5cffa3"/><rect x="1069.55" y="85.79" width="2.72" height="17.14" fill="#5cffa3"/><rect x="1071.97" y="85.79" width="2.72" height="17.14" fill="#63ff9c"/><rect x="1074.38" y="85.79" width="2.72" height="17.14" fill="#67ff98"/><rect x="1076.80" y="85.79" width="2.72" height="17.14" fill="#73ff8c"/><rect x="1079.22" y="85.79" width="2.72" height="17.14" fill="#64ff9b"/><rect x="1081.63" y="85.79" width="2.72" height="17.14" fill="#6aff95"/><rect x="1084.05" y="85.79" width="2.72" height="17.14" fill="#4bffb4"/><rect x="1086.46" y="85.79" width="2.72" height="17.14" fill="#5affa5"/><rect x="1088.88" y="85.79" width="2.72" height="17.14" fill="#49ffb6"/><rect x="1091.30" y="85.79" width="2.72" height="17.14" fill="#6fff90"/><rect x="1093.71" y="85.79" width="2.72" height="17.14" fill="#52ffad"/><rect x="1096.13" y="85.79" width="2.72" height="17.14" fill="#57ffa8"/><rect x="1098.54" y="85.79" width="2.72" height="17.14" fill="#3affc5"/><rect x="1100.96" y="85.79" width="2.72" height="17.14" fill="#57ffa8"/><rect x="1103.38" y="85.79" width="2.72" height="17.14" fill="#7dff82"/><rect x="1105.79" y="85.79" width="2.72" height="17.14" fill="#5cffa3"/><rect x="1108.21" y="85.79" width="2.72" height="17.14" fill="#7eff81"/><rect x="1110.62" y="85.79" width="2.72" height="17.14" fill="#53ffac"/><rect x="1113.04" y="85.79" width="2.72" height="17.14" fill="#5bffa4"/><rect x="1115.46" y="85.79" width="2.72" height="17.14" fill="#5affa5"/><rect x="1117.87" y="85.79" width="2.72" height="17.14" fill="#4fffb0"/><rect x="1120.29" y="85.79" width="2.72" height="17.14" fill="#5effa1"/><rect x="1122.70" y="85.79" width="2.72" height="17.14" fill="#58ffa7"/><rect x="1125.12" y="85.79" width="2.72" height="17.14" fill="#6eff91"/><rect x="1127.54" y="85.79" width="2.72" height="17.14" fill="#5fffa0"/><rect x="1129.95" y="85.79" width="2.72" height="17.14" fill="#4cffb3"/><rect x="1132.37" y="85.79" width="2.72" height="17.14" fill="#7eff81"/><rect x="1134.78" y="85.79" width="2.72" height="17.14" fill="#56ffa9"/><rect x="1016.40" y="68.95" width="2.72" height="17.14" fill="#5fffa0"/><rect x="1018.82" y="68.95" width="2.72" height="17.14" fill="#6eff91"/><rect x="1021.23" y="68.95" width="2.72" height="17.14" fill="#65ff9a"/><rect x="1023.65" y="68.95" width="2.72" height="17.14" fill="#48ffb7"/><rect x="1026.06" y="68.95" width="2.72" height="17.14" fill="#4fffb0"/><rect x="1028.48" y="68.95" width="2.72" height="17.14" fill="#60ff9f"/><rect x="1030.90" y="68.95" width="2.72" height="17.14" fill="#5effa1"/><rect x="1033.31" y="68.95" width="2.72" height="17.14" fill="#71ff8e"/><rect x="1035.73" y="68.95" width="2.72" height="17.14" fill="#59ffa6"/><rect x="1038.14" y="68.95" width="2.72" height="17.14" fill="#4effb1"/><rect x="1040.56" y="68.95" width="2.72" height="17.14" fill="#6aff95"/><rect x="1042.98" y="68.95" width="2.72" height="17.14" fill="#82ff7d"/><rect x="1045.39" y="68.95" width="2.72" height="17.14" fill="#c1ff3e"/><rect x="1047.81" y="68.95" width="2.72" height="17.14" fill="#fdff02"/><rect x="1050.22" y="68.95" width="2.72" height="17.14" fill="#ffe700"/><rect x="1052.64" y="68.95" width="2.72" height="17.14" fill="#fbff04"/><rect x="1055.06" y="68.95" width="2.72" height="17.14" fill="#e1ff1e"/><rect x="1057.47" y="68.95" width="2.72" height="17.14" fill="#adff52"/><rect x="1059.89" y="68.95" width="2.72" height="17.14" fill="#8cff73"/><rect x="1062.30" y="68.95" width="2.72" height="17.14" fill="#59ffa6"/><rect x="1064.72" y="68.95" width="2.72" height="17.14" fill="#6cff93"/><rect x="1067.14" y="68.95" width="2.72" height="17.14" fill="#64ff9b"/><rect x="1069.55" y="68.95" width="2.72" height="17.14" fill="#57ffa8"/><rect x="1071.97" y="68.95" width="2.72" height="17.14" fill="#57ffa8"/><rect x="1074.38" y="68.95" width="2.72" height="17.14" fill="#54ffab"/><rect x="1076.80" y="68.95" width="2.72" height="17.14" fill="#66ff99"/><rect x="1079.22" y="68.95" width="2.72" height="17.14" fill="#76ff89"/><rect x="1081.63" y="68.95" width="2.72" height="17.14" fill="#5bffa4"/><rect x="1084.05" y="68.95" width="2.72" height="17.14" fill="#4bffb4"/><rect x="1086.46" y="68.95" width="2.72" height="17.14" fill="#5effa1"/><rect x="1088.88" y="68.95" width="2.72" height="17.14" fill="#4dffb2"/><rect x="1091.30" y="68.95" width="2.72" height="17.14" fill="#4fffb0"/><rect x="1093.71" y="68.95" width="2.72" height="17.14" fill="#4effb1"/><rect x="1096.13" y="68.95" width="2.72" height="17.14" fill="#5affa5"/><rect x="1098.54" y="68.95" width="2.72" height="17.14" fill="#55ffaa"/><rect x="1100.96" y="68.95" width="2.72" height="17.14" fill="#58ffa7"/><rect x="1103.38" y="68.95" width="2.72" height="17.14" fill="#78ff87"/><rect x="1105.79" y="68.95" width="2.72" height="17.14" fill="#58ffa7"/><rect x="1108.21" y="68.95" width="2.72" height="17.14" fill="#71ff8e"/><rect x="1110.62" y="68.95" width="2.72" height="17.14" fill="#5cffa3"/><rect x="1113.04" y="68.95" width="2.72" height="17.14" fill="#55ffaa"/><rect x="1115.46" y="68.95" width="2.72" height="17.14" fill="#6cff93"/><rect x="1117.87" y="68.95" width="2.72" height="17.14" fill="#62ff9d"/><rect x="1120.29" y="68.95" width="2.72" height="17.14" fill="#64ff9b"/><rect x="1122.70" y="68.95" width="2.72" height="17.14" fill="#4dffb2"/><rect x="1125.12" y="68.95" width="2.72" height="17.14" fill="#53ffac"/><rect x="1127.54" y="68.95" width="2.72" height="17.14" fill="#59ffa6"/><rect x="1129.95" y="68.95" width="2.72" height="17.14" fill="#5effa1"/><rect x="1132.37" y="68.95" width="2.72" height="17.14" fill="#7bff84"/><rect x="1134.78" y="68.95" width="2.72" height="17.14" fill="#5cffa3"/><rect x="1016.40" y="52.11" width="2.72" height="17.14" fill="#52ffad"/><rect x="1018.82" y="52.11" width="2.72" height="17.14" fill="#67ff98"/><rect x="1021.23" y="52.11" width="2.72" height="17.14" fill="#6fff90"/><rect x="1023.65" y="52.11" width="2.72" height="17.14" fill="#48ffb7"/><rect x="1026.06" y="52.11" width="2.72" height="17.14" fill="#55ffaa"/><rect x="1028.48" y="52.11" width="2.72" height="17.14" fill="#5cffa3"/><rect x="1030.90" y="52.11" width="2.72" height="17.14" fill="#60ff9f"/><rect x="1033.31" y="52.11" width="2.72" height="17.14" fill="#63ff9c"/><rect x="1035.73" y="52.11" width="2.72" height="17.14" fill="#46ffb9"/><rect x="1038.14" y="52.11" width="2.72" height="17.14" fill="#53ffac"/><rect x="1040.56" y="52.11" width="2.72" height="17.14" fill="#96ff69"/><rect x="1042.98" y="52.11" width="2.72" height="17.14" fill="#94ff6b"/><rect x="1045.39" y="52.11" width="2.72" height="17.14" fill="#c1ff3e"/><rect x="1047.81" y="52.11" width="2.72" height="17.14" fill="#f2ff0d"/><rect x="1050.22" y="52.11" width="2.72" height="17.14" fill="#fff100"/><rect x="1052.64" y="52.11" width="2.72" height="17.14" fill="#f8ff07"/><rect x="1055.06" y="52.11" width="2.72" height="17.14" fill="#dbff24"/><rect x="1057.47" y="52.11" width="2.72" height="17.14" fill="#b1ff4e"/><rect x="1059.89" y="52.11" width="2.72" height="17.14" fill="#82ff7d"/><rect x="1062.30" y="52.11" width="2.72" height="17.14" fill="#6eff91"/><rect x="1064.72" y="52.11" width="2.72" height="17.14" fill="#5affa5"/><rect x="1067.14" y="52.11" width="2.72" height="17.14" fill="#6aff95"/><rect x="1069.55" y="52.11" width="2.72" height="17.14" fill="#58ffa7"/><rect x="1071.97" y="52.11" width="2.72" height="17.14" fill="#62ff9d"/><rect x="1074.38" y="52.11" width="2.72" height="17.14" fill="#5effa1"/><rect x="1076.80" y="52.11" width="2.72" height="17.14" fill="#5bffa4"/><rect x="1079.22" y="52.11" width="2.72" height="17.14" fill="#76ff89"/><rect x="1081.63" y="52.11" width="2.72" height="17.14" fill="#5affa5"/><rect x="1084.05" y="52.11" width="2.72" height="17.14" fill="#44ffbb"/><rect x="1086.46" y="52.11" width="2.72" height="17.14" fill="#5bffa4"/><rect x="1088.88" y="52.11" width="2.72" height="17.14" fill="#4dffb2"/><rect x="1091.30" y="52.11" width="2.72" height="17.14" fill="#56ffa9"/><rect x="1093.71" y="52.11" width="2.72" height="17.14" fill="#4dffb2"/><rect x="1096.13" y="52.11" width="2.72" height="17.14" fill="#5fffa0"/><rect x="1098.54" y="52.11" width="2.72" height="17.14" fill="#4bffb4"/><rect x="1100.96" y="52.11" width="2.72" height="17.14" fill="#50ffaf"/><rect x="1103.38" y="52.11" width="2.72" height="17.14" fill="#89ff76"/><rect x="1105.79" y="52.11" width="2.72" height="17.14" fill="#65ff9a"/><rect x="1108.21" y="52.11" width="2.72" height="17.14" fill="#6dff92"/><rect x="1110.62" y="52.11" width="2.72" height="17.14" fill="#40ffbf"/><rect x="1113.04" y="52.11" width="2.72" height="17.14" fill="#5effa1"/><rect x="1115.46" y="52.11" width="2.72" height="17.14" fill="#68ff97"/><rect x="1117.87" y="52.11" width="2.72" height="17.14" fill="#5effa1"/><rect x="1120.29" y="52.11" width="2.72" height="17.14" fill="#65ff9a"/><rect x="1122.70" y="52.11" width="2.72" height="17.14" fill="#5affa5"/><rect x="1125.12" y="52.11" width="2.72" height="17.14" fill="#52ffad"/><rect x="1127.54" y="52.11" width="2.72" height="17.14" fill="#6cff93"/><rect x="1129.95" y="52.11" width="2.72" height="17.14" fill="#4dffb2"/><rect x="1132.37" y="52.11" width="2.72" height="17.14" fill="#64ff9b"/><rect x="1134.78" y="52.11" width="2.72" height="17.14" fill="#55ffaa"/><rect x="1016.40" y="35.26" width="2.72" height="17.14" fill="#6dff92"/><rect x="1018.82" y="35.26" width="2.72" height="17.14" fill="#4effb1"/><rect x="1021.23" y="35.26" width="2.72" height="17.14" fill="#61ff9e"/><rect x="1023.65" y="35.26" width="2.72" height="17.14" fill="#5cffa3"/><rect x="1026.06" y="35.26" width="2.72" height="17.14" fill="#4affb5"/><rect x="1028.48" y="35.26" width="2.72" height="17.14" fill="#5cffa3"/><rect x="1030.90" y="35.26" width="2.72" height="17.14" fill="#55ffaa"/><rect x="1033.31" y="35.26" width="2.72" height="17.14" fill="#73ff8c"/><rect x="1035.73" y="35.26" width="2.72" height="17.14" fill="#62ff9d"/><rect x="1038.14" y="35.26" width="2.72" height="17.14" fill="#55ffaa"/><rect x="1040.56" y="35.26" width="2.72" height="17.14" fill="#75ff8a"/><rect x="1042.98" y="35.26" width="2.72" height="17.14" fill="#8bff74"/><rect x="1045.39" y="35.26" width="2.72" height="17.14" fill="#c5ff3a"/><rect x="1047.81" y="35.26" width="2.72" height="17.14" fill="#f7ff08"/><rect x="1050.22" y="35.26" width="2.72" height="17.14" fill="#ffec00"/><rect x="1052.64" y="35.26" width="2.72" height="17.14" fill="#f9ff06"/><rect x="1055.06" y="35.26" width="2.72" height="17.14" fill="#deff21"/><rect x="1057.47" y="35.26" width="2.72" height="17.14" fill="#b0ff4f"/><rect x="1059.89" y="35.26" width="2.72" height="17.14" fill="#78ff87"/><rect x="1062.30" y="35.26" width="2.72" height="17.14" fill="#65ff9a"/><rect x="1064.72" y="35.26" width="2.72" height="17.14" fill="#6cff93"/><rect x="1067.14" y="35.26" width="2.72" height="17.14" fill="#54ffab"/><rect x="1069.55" y="35.26" width="2.72" height="17.14" fill="#62ff9d"/><rect x="1071.97" y="35.26" width="2.72" height="17.14" fill="#6aff95"/><rect x="1074.38" y="35.26" width="2.72" height="17.14" fill="#6aff95"/><rect x="1076.80" y="35.26" width="2.72" height="17.14" fill="#5dffa2"/><rect x="1079.22" y="35.26" width="2.72" height="17.14" fill="#62ff9d"/><rect x="1081.63" y="35.26" width="2.72" height="17.14" fill="#68ff97"/><rect x="1084.05" y="35.26" width="2.72" height="17.14" fill="#50ffaf"/><rect x="1086.46" y="35.26" width="2.72" height="17.14" fill="#71ff8e"/><rect x="1088.88" y="35.26" width="2.72" height="17.14" fill="#57ffa8"/><rect x="1091.30" y="35.26" width="2.72" height="17.14" fill="#59ffa6"/><rect x="1093.71" y="35.26" width="2.72" height="17.14" fill="#46ffb9"/><rect x="1096.13" y="35.26" width="2.72" height="17.14" fill="#49ffb6"/><rect x="1098.54" y="35.26" width="2.72" height="17.14" fill="#5affa5"/><rect x="1100.96" y="35.26" width="2.72" height="17.14" fill="#76ff89"/><rect x="1103.38" y="35.26" width="2.72" height="17.14" fill="#7fff80"/><rect x="1105.79" y="35.26" width="2.72" height="17.14" fill="#56ffa9"/><rect x="1108.21" y="35.26" width="2.72" height="17.14" fill="#6dff92"/><rect x="1110.62" y="35.26" width="2.72" height="17.14" fill="#4fffb0"/><rect x="1113.04" y="35.26" width="2.72" height="17.14" fill="#4affb5"/><rect x="1115.46" y="35.26" width="2.72" height="17.14" fill="#5dffa2"/><rect x="1117.87" y="35.26" width="2.72" height="17.14" fill="#4fffb0"/><rect x="1120.29" y="35.26" width="2.72" height="17.14" fill="#75ff8a"/><rect x="1122.70" y="35.26" width="2.72" height="17.14" fill="#56ffa9"/><rect x="1125.12" y="35.26" width="2.72" height="17.14" fill="#58ffa7"/><rect x="1127.54" y="35.26" width="2.72" height="17.14" fill="#76ff89"/><rect x="1129.95" y="35.26" width="2.72" height="17.14" fill="#65ff9a"/><rect x="1132.37" y="35.26" width="2.72" height="17.14" fill="#81ff7e"/><rect x="1134.78" y="35.26" width="2.72" height="17.14" fill="#66ff99"/><rect x="1016.40" y="18.42" width="2.72" height="17.14" fill="#5fffa0"/><rect x="1018.82" y="18.42" width="2.72" height="17.14" fill="#5dffa2"/><rect x="1021.23" y="18.42" width="2.72" height="17.14" fill="#61ff9e"/><rect x="1023.65" y="18.42" width="2.72" height="17.14" fill="#53ffac"/><rect x="1026.06" y="18.42" width="2.72" height="17.14" fill="#66ff99"/><rect x="1028.48" y="18.42" width="2.72" height="17.14" fill="#4affb5"/><rect x="1030.90" y="18.42" width="2.72" height="17.14" fill="#68ff97"/><rect x="1033.31" y="18.42" width="2.72" height="17.14" fill="#5effa1"/><rect x="1035.73" y="18.42" width="2.72" height="17.14" fill="#5effa1"/><rect x="1038.14" y="18.42" width="2.72" height="17.14" fill="#63ff9c"/><rect x="1040.56" y="18.42" width="2.72" height="17.14" fill="#77ff88"/><rect x="1042.98" y="18.42" width="2.72" height="17.14" fill="#a1ff5e"/><rect x="1045.39" y="18.42" width="2.72" height="17.14" fill="#c0ff3f"/><rect x="1047.81" y="18.42" width="2.72" height="17.14" fill="#f2ff0d"/><rect x="1050.22" y="18.42" width="2.72" height="17.14" fill="#fff500"/><rect x="1052.64" y="18.42" width="2.72" height="17.14" fill="#f6ff09"/><rect x="1055.06" y="18.42" width="2.72" height="17.14" fill="#dcff23"/><rect x="1057.47" y="18.42" width="2.72" height="17.14" fill="#adff52"/><rect x="1059.89" y="18.42" width="2.72" height="17.14" fill="#89ff76"/><rect x="1062.30" y="18.42" width="2.72" height="17.14" fill="#67ff98"/><rect x="1064.72" y="18.42" width="2.72" height="17.14" fill="#7cff83"/><rect x="1067.14" y="18.42" width="2.72" height="17.14" fill="#5effa1"/><rect x="1069.55" y="18.42" width="2.72" height="17.14" fill="#54ffab"/><rect x="1071.97" y="18.42" width="2.72" height="17.14" fill="#54ffab"/><rect x="1074.38" y="18.42" width="2.72" height="17.14" fill="#57ffa8"/><rect x="1076.80" y="18.42" width="2.72" height="17.14" fill="#56ffa9"/><rect x="1079.22" y="18.42" width="2.72" height="17.14" fill="#5fffa0"/><rect x="1081.63" y="18.42" width="2.72" height="17.14" fill="#68ff97"/><rect x="1084.05" y="18.42" width="2.72" height="17.14" fill="#47ffb8"/><rect x="1086.46" y="18.42" width="2.72" height="17.14" fill="#63ff9c"/><rect x="1088.88" y="18.42" width="2.72" height="17.14" fill="#4effb1"/><rect x="1091.30" y="18.42" width="2.72" height="17.14" fill="#65ff9a"/><rect x="1093.71" y="18.42" width="2.72" height="17.14" fill="#50ffaf"/><rect x="1096.13" y="18.42" width="2.72" height="17.14" fill="#64ff9b"/><rect x="1098.54" y="18.42" width="2.72" height="17.14" fill="#4dffb2"/><rect x="1100.96" y="18.42" width="2.72" height="17.14" fill="#5cffa3"/><rect x="1103.38" y="18.42" width="2.72" height="17.14" fill="#7cff83"/><rect x="1105.79" y="18.42" width="2.72" height="17.14" fill="#5affa5"/><rect x="1108.21" y="18.42" width="2.72" height="17.14" fill="#5effa1"/><rect x="1110.62" y="18.42" width="2.72" height="17.14" fill="#48ffb7"/><rect x="1113.04" y="18.42" width="2.72" height="17.14" fill="#56ffa9"/><rect x="1115.46" y="18.42" width="2.72" height="17.14" fill="#62ff9d"/><rect x="1117.87" y="18.42" width="2.72" height="17.14" fill="#58ffa7"/><rect x="1120.29" y="18.42" width="2.72" height="17.14" fill="#5bffa4"/><rect x="1122.70" y="18.42" width="2.72" height="17.14" fill="#6aff95"/><rect x="1125.12" y="18.42" width="2.72" height="17.14" fill="#4cffb3"/><rect x="1127.54" y="18.42" width="2.72" height="17.14" fill="#58ffa7"/><rect x="1129.95" y="18.42" width="2.72" height="17.14" fill="#54ffab"/><rect x="1132.37" y="18.42" width="2.72" height="17.14" fill="#68ff97"/><rect x="1134.78" y="18.42" width="2.72" height="17.14" fill="#4bffb4"/><rect x="1016.40" y="8.30" width="2.72" height="10.42" fill="#6cff93"/><rect x="1018.82" y="8.30" width="2.72" height="10.42" fill="#4fffb0"/><rect x="1021.23" y="8.30" width="2.72" height="10.42" fill="#47ffb8"/><rect x="1023.65" y="8.30" width="2.72" height="10.42" fill="#58ffa7"/><rect x="1026.06" y="8.30" width="2.72" height="10.42" fill="#56ffa9"/><rect x="1028.48" y="8.30" width="2.72" height="10.42" fill="#4affb5"/><rect x="1030.90" y="8.30" width="2.72" height="10.42" fill="#59ffa6"/><rect x="1033.31" y="8.30" width="2.72" height="10.42" fill="#70ff8f"/><rect x="1035.73" y="8.30" width="2.72" height="10.42" fill="#3dffc2"/><rect x="1038.14" y="8.30" width="2.72" height="10.42" fill="#4effb1"/><rect x="1040.56" y="8.30" width="2.72" height="10.42" fill="#71ff8e"/><rect x="1042.98" y="8.30" width="2.72" height="10.42" fill="#91ff6e"/><rect x="1045.39" y="8.30" width="2.72" height="10.42" fill="#b7ff48"/><rect x="1047.81" y="8.30" width="2.72" height="10.42" fill="#f1ff0e"/><rect x="1050.22" y="8.30" width="2.72" height="10.42" fill="#fff500"/><rect x="1052.64" y="8.30" width="2.72" height="10.42" fill="#f7ff08"/><rect x="1055.06" y="8.30" width="2.72" height="10.42" fill="#dcff23"/><rect x="1057.47" y="8.30" width="2.72" height="10.42" fill="#a4ff5b"/><rect x="1059.89" y="8.30" width="2.72" height="10.42" fill="#83ff7c"/><rect x="1062.30" y="8.30" width="2.72" height="10.42" fill="#5affa5"/><rect x="1064.72" y="8.30" width="2.72" height="10.42" fill="#66ff99"/><rect x="1067.14" y="8.30" width="2.72" height="10.42" fill="#58ffa7"/><rect x="1069.55" y="8.30" width="2.72" height="10.42" fill="#55ffaa"/><rect x="1071.97" y="8.30" width="2.72" height="10.42" fill="#59ffa6"/><rect x="1074.38" y="8.30" width="2.72" height="10.42" fill="#67ff98"/><rect x="1076.80" y="8.30" width="2.72" height="10.42" fill="#6cff93"/><rect x="1079.22" y="8.30" width="2.72" height="10.42" fill="#5fffa0"/><rect x="1081.63" y="8.30" width="2.72" height="10.42" fill="#5effa1"/><rect x="1084.05" y="8.30" width="2.72" height="10.42" fill="#55ffaa"/><rect x="1086.46" y="8.30" width="2.72" height="10.42" fill="#69ff96"/><rect x="1088.88" y="8.30" width="2.72" height="10.42" fill="#43ffbc"/><rect x="1091.30" y="8.30" width="2.72" height="10.42" fill="#58ffa7"/><rect x="1093.71" y="8.30" width="2.72" height="10.42" fill="#46ffb9"/><rect x="1096.13" y="8.30" width="2.72" height="10.42" fill="#65ff9a"/><rect x="1098.54" y="8.30" width="2.72" height="10.42" fill="#53ffac"/><rect x="1100.96" y="8.30" width="2.72" height="10.42" fill="#62ff9d"/><rect x="1103.38" y="8.30" width="2.72" height="10.42" fill="#9bff64"/><rect x="1105.79" y="8.30" width="2.72" height="10.42" fill="#4dffb2"/><rect x="1108.21" y="8.30" width="2.72" height="10.42" fill="#5cffa3"/><rect x="1110.62" y="8.30" width="2.72" height="10.42" fill="#3affc5"/><rect x="1113.04" y="8.30" width="2.72" height="10.42" fill="#48ffb7"/><rect x="1115.46" y="8.30" width="2.72" height="10.42" fill="#6dff92"/><rect x="1117.87" y="8.30" width="2.72" height="10.42" fill="#5effa1"/><rect x="1120.29" y="8.30" width="2.72" height="10.42" fill="#71ff8e"/><rect x="1122.70" y="8.30" width="2.72" height="10.42" fill="#49ffb6"/><rect x="1125.12" y="8.30" width="2.72" height="10.42" fill="#46ffb9"/><rect x="1127.54" y="8.30" width="2.72" height="10.42" fill="#71ff8e"/><rect x="1129.95" y="8.30" width="2.72" height="10.42" fill="#5cffa3"/><rect x="1132.37" y="8.30" width="2.72" height="10.42" fill="#7cff83"/><rect x="1134.78" y="8.30" width="2.72" height="10.42" fill="#5fffa0"/></g>
<g font-size="10" fill="#111"><text x="1012.5" y="333.6" text-anchor="end">1</text><text x="1012.5" y="316.8" text-anchor="end">2</text><text x="1012.5" y="299.9" text-anchor="end">3</text><text x="1012.5" y="283.1" text-anchor="end">4</text><text x="1012.5" y="266.2" text-anchor="end">5</text><text x="1012.5" y="249.4" text-anchor="end">6</text><text x="1012.5" y="232.5" text-anchor="end">7</text><text x="1012.5" y="215.7" text-anchor="end">8</text><text x="1012.5" y="198.9" text-anchor="end">9</text><text x="1012.5" y="182.0" text-anchor="end">10</text><text x="1012.5" y="165.2" text-anchor="end">11</text><text x="1012.5" y="148.3" text-anchor="end">12</text><text x="1012.5" y="131.5" text-anchor="end">13</text><text x="1012.5" y="114.7" text-anchor="end">14</text><text x="1012.5" y="97.8" text-anchor="end">15</text><text x="1012.5" y="81.0" text-anchor="end">16</text><text x="1012.5" y="64.1" text-anchor="end">17</text><text x="1012.5" y="47.3" text-anchor="end">18</text><text x="1012.5" y="30.4" text-anchor="end">19</text><text x="1012.5" y="13.6" text-anchor="end">20</text></g>
<path d="M1013.5,330.0 h3 M1013.5,313.2 h3 M1013.5,296.3 h3 M1013.5,279.5 h3 M1013.5,262.6 h3 M1013.5,245.8 h3 M1013.5,228.9 h3 M1013.5,212.1 h3 M1013.5,195.3 h3 M1013.5,178.4 h3 M1013.5,161.6 h3 M1013.5,144.7 h3 M1013.5,127.9 h3 M1013.5,111.1 h3 M1013.5,94.2 h3 M1013.5,77.4 h3 M1013.5,60.5 h3 M1013.5,43.7 h3 M1013.5,26.8 h3 M1013.5,10.0 h3" stroke="#555" stroke-width="0.8"/>
<g font-size="10" fill="#111" text-anchor="middle"><text x="1034" y="350.5">14.25</text><text x="1117" y="350.5">14.5</text></g>
<path d="M1034,330 v3 M1117,330 v3" stroke="#555" stroke-width="0.8"/>
<rect x="1066" y="146.8" width="63.4" height="178.6" fill="none" stroke="#111" stroke-width="1.2"/>
<g font-size="8.5" fill="#111"><text x="1062" y="328.4" text-anchor="end">1</text><text x="1062" y="310.5" text-anchor="end">2</text><text x="1062" y="292.7" text-anchor="end">3</text><text x="1062" y="274.8" text-anchor="end">4</text><text x="1062" y="257.0" text-anchor="end">5</text><text x="1062" y="239.1" text-anchor="end">6</text><text x="1062" y="221.2" text-anchor="end">7</text><text x="1062" y="203.4" text-anchor="end">8</text><text x="1062" y="185.5" text-anchor="end">9</text><text x="1062" y="167.7" text-anchor="end">10</text><text x="1062" y="149.8" text-anchor="end">11</text></g>
<path d="M1066,325.4 h-3 M1066,307.5 h-3 M1066,289.7 h-3 M1066,271.8 h-3 M1066,254.0 h-3 M1066,236.1 h-3 M1066,218.2 h-3 M1066,200.4 h-3 M1066,182.5 h-3 M1066,164.7 h-3 M1066,146.8 h-3" stroke="#111" stroke-width="0.8"/>
<g font-size="8.5" fill="#111" text-anchor="middle"><text x="1082.5" y="340">14.304</text><text x="1113.7" y="340">14.308</text></g>
<path d="M1082.5,325.4 v3 M1113.7,325.4 v3" stroke="#111" stroke-width="0.8"/>
<polyline points="1120.2,147.4 1117.2,183 1102.4,201.1 1076.3,219 1080.1,236.7 1092,254.5 1098,272.3 1100.9,290.1 1105.4,308 1106.3,325.4" fill="none" stroke="#0d5a12" stroke-width="1.3"/>
<rect x="1168" y="29" width="15.3" height="303" fill="url(#jetg)"/>
<g font-size="10" fill="#111"><text x="1162.5" y="320.4" text-anchor="end">200</text><text x="1162.5" y="259.8" text-anchor="end">400</text><text x="1162.5" y="199.2" text-anchor="end">600</text><text x="1162.5" y="138.6" text-anchor="end">800</text><text x="1162.5" y="78.0" text-anchor="end">1000</text></g>
<g font-size="10" fill="#111" text-anchor="middle"><text x="1172.5" y="8">Intensity</text><text x="1172.5" y="20.5">(N)</text></g>
<text x="975" y="24" font-size="27" font-weight="bold" fill="#000">b</text>
<g clip-path="url(#clipC)"><g filter="url(#texC3)"><rect x="-20" y="395" width="430" height="390" fill="#919191"/><ellipse cx="140" cy="430" rx="70" ry="17" fill="#ffffff" filter="url(#sb6)"/><ellipse cx="40" cy="425" rx="20" ry="12" fill="#8c8c8c" filter="url(#sb6)"/><ellipse cx="32" cy="483" rx="22" ry="26" fill="#d9d9d9" filter="url(#sb6)"/><ellipse cx="72" cy="485" rx="20" ry="30" fill="#999999" filter="url(#sb6)"/><ellipse cx="206" cy="495" rx="18" ry="50" fill="#b2b2b2" filter="url(#sb6)"/><ellipse cx="60" cy="525" rx="60" ry="10" fill="#999999" filter="url(#sb6)"/><ellipse cx="150" cy="580" rx="32" ry="14" fill="#f2f2f2" filter="url(#sb6)"/><ellipse cx="62" cy="628" rx="32" ry="28" fill="#e6e6e6" filter="url(#sb6)"/><ellipse cx="140" cy="628" rx="35" ry="45" fill="#f2f2f2" filter="url(#sb6)"/><ellipse cx="14" cy="590" rx="14" ry="12" fill="#b2b2b2" filter="url(#sb6)"/><ellipse cx="88" cy="718" rx="28" ry="20" fill="#a6a6a6" filter="url(#sb6)"/><ellipse cx="142" cy="738" rx="32" ry="28" fill="#d9d9d9" filter="url(#sb6)"/><ellipse cx="235" cy="632" rx="55" ry="28" fill="#ffffff" filter="url(#sb6)"/><ellipse cx="320" cy="615" rx="75" ry="35" fill="#ffffff" filter="url(#sb6)"/><ellipse cx="362" cy="688" rx="22" ry="14" fill="#e6e6e6" filter="url(#sb6)"/><ellipse cx="330" cy="690" rx="60" ry="30" fill="#808080" filter="url(#sb6)"/><ellipse cx="255" cy="705" rx="45" ry="30" fill="#808080" filter="url(#sb6)"/><ellipse cx="255" cy="750" rx="35" ry="15" fill="#999999" filter="url(#sb6)"/><ellipse cx="200" cy="575" rx="12" ry="10" fill="#808080" filter="url(#sb6)"/><ellipse cx="145" cy="482" rx="46" ry="34" fill="#000000" filter="url(#sb6)"/><ellipse cx="18" cy="551" rx="19" ry="18" fill="#000000" filter="url(#sb6)"/><ellipse cx="116" cy="563" rx="17" ry="17" fill="#000000" filter="url(#sb6)"/><ellipse cx="161" cy="548" rx="23" ry="17" fill="#000000" filter="url(#sb6)"/><ellipse cx="201" cy="553" rx="16" ry="16" fill="#000000" filter="url(#sb6)"/><ellipse cx="4" cy="512" rx="6" ry="14" fill="#000000" filter="url(#sb6)"/><ellipse cx="22" cy="430" rx="18" ry="12" fill="#262626" filter="url(#sb6)"/><ellipse cx="38" cy="608" rx="18" ry="16" fill="#0d0d0d" filter="url(#sb6)"/><ellipse cx="85" cy="598" rx="30" ry="16" fill="#0d0d0d" filter="url(#sb6)"/><ellipse cx="110" cy="683" rx="48" ry="24" fill="#000000" filter="url(#sb6)"/><ellipse cx="28" cy="665" rx="30" ry="35" fill="#333333" filter="url(#sb6)"/><ellipse cx="30" cy="735" rx="35" ry="30" fill="#0d0d0d" filter="url(#sb6)"/><ellipse cx="198" cy="742" rx="25" ry="22" fill="#000000" filter="url(#sb6)"/><ellipse cx="200" cy="593" rx="15" ry="12" fill="#000000" filter="url(#sb6)"/><ellipse cx="340" cy="752" rx="52" ry="16" fill="#000000" filter="url(#sb6)"/><ellipse cx="195" cy="679" rx="10" ry="10" fill="#000000" filter="url(#sb6)"/><ellipse cx="255" cy="690" rx="12" ry="10" fill="#1a1a1a" filter="url(#sb6)"/><ellipse cx="275" cy="730" rx="10" ry="8" fill="#1a1a1a" filter="url(#sb6)"/></g><ellipse cx="335" cy="612" rx="82" ry="40" fill="#000" opacity="0.85" filter="url(#sb10)"/><ellipse cx="370" cy="680" rx="30" ry="18" fill="#000" opacity="0.45" filter="url(#sb10)"/><ellipse cx="240" cy="630" rx="35" ry="16" fill="#000" opacity="0.35" filter="url(#sb10)"/><ellipse cx="135" cy="425" rx="40" ry="12" fill="#000" opacity="0.3" filter="url(#sb6)"/></g>
<g clip-path="url(#clipC)"><g mask="url(#mottleMask)" opacity="0.8"><rect x="150" y="630" width="245" height="140" filter="url(#mottle)"/></g></g>
<rect x="7" y="741.7" width="148" height="8.3" fill="#fff"/>
<text x="9" y="445.3" font-size="27" font-weight="bold" fill="#fff">c</text>
<g clip-path="url(#clipD)"><g filter="url(#texD)"><rect x="213" y="405" width="190" height="190" fill="#5e5e5e"/><rect x="320" y="400" width="80" height="72" fill="#686868" filter="url(#sb6)"/><ellipse cx="292" cy="522" rx="48" ry="55" fill="#4e4e4e" filter="url(#sb10)"/><ellipse cx="300" cy="440" rx="30" ry="18" fill="#5e5e5e" filter="url(#sb6)"/><ellipse cx="272" cy="533" rx="17" ry="19" fill="#454545" filter="url(#sb6)"/><ellipse cx="324" cy="499" rx="16" ry="16" fill="#484848" filter="url(#sb6)"/><ellipse cx="287" cy="462" rx="15" ry="14" fill="#4a4a4a" filter="url(#sb6)"/><ellipse cx="233" cy="476" rx="15" ry="23" fill="#8a8a8a" filter="url(#sb2)"/><ellipse cx="309" cy="446" rx="15" ry="13" fill="#7c7c7c" filter="url(#sb2)"/><path d="M356,472 C350,500 354,540 349,560 C347,572 345,578 343,590 L400,590 L400,470 Z" fill="#858585" filter="url(#sb2)"/></g></g>
<line x1="255.6" y1="462.8" x2="291.4" y2="447.3" stroke="#f7b500" stroke-width="2.6"/><path d="M249.0,465.7 L259.2,466.7 L255.3,457.5 Z" fill="#f7b500"/><path d="M298.0,444.4 L291.7,452.6 L287.8,443.4 Z" fill="#f7b500"/>
<line x1="286.3" y1="555.6" x2="329.5" y2="470.6" stroke="#f7b500" stroke-width="2.6"/><path d="M283.0,562.0 L291.5,556.2 L282.6,551.7 Z" fill="#f7b500"/><path d="M332.8,464.2 L333.2,474.5 L324.3,470.0 Z" fill="#f7b500"/>
<text transform="translate(284.6,466.4) rotate(-28.6)" x="0" y="7" font-size="20" fill="#fff" text-anchor="middle">10 nm</text>
<text transform="translate(298,504.3) rotate(-59.6)" x="0" y="6.5" font-size="18" fill="#fff" text-anchor="middle">25 nm</text>
<rect x="239" y="568.8" width="27" height="5.2" fill="#fff"/>
<text x="232" y="445" font-size="27" font-weight="bold" fill="#fff">d</text>
<g clip-path="url(#clipE)"><rect x="397.5" y="415.4" width="390.5" height="352.9" fill="#0d0d0d"/><circle cx="603" cy="608" r="250" fill="url(#halo)"/><path d="M397,604.6 H577 L582,605.4 H592 V607.6 H582 L577,608.2 H397 Z" fill="#000"/><circle cx="602.4" cy="607.6" r="16.2" fill="#000"/></g>
<circle cx="603.6" cy="609.1" r="58.8" fill="none" stroke="#12b04e" stroke-width="3.2" stroke-dasharray="7 3.4"/>
<circle cx="603.3" cy="609.3" r="55.4" fill="none" stroke="#ffc000" stroke-width="3.0" stroke-dasharray="6.4 3.1" stroke-dashoffset="3"/>
<text x="641.5" y="543" font-size="20" fill="#12b04e">K<tspan font-size="14" dy="5">3</tspan><tspan dy="-5">Sb (220)</tspan></text>
<text x="640" y="695.5" font-size="20" fill="#ffc000">K<tspan font-size="14" dy="5">2</tspan><tspan dy="-5">S</tspan><tspan font-size="14" dy="5">3</tspan><tspan dy="-5"> (112)</tspan></text>
<rect x="428" y="740" width="40.6" height="12" fill="#fff"/>
<text x="406" y="444" font-size="27" font-weight="bold" fill="#fff">e</text>
<circle cx="237" cy="672" r="70.5" fill="none" stroke="#c00a0a" stroke-width="3"/>
<line x1="307" y1="655.5" x2="510" y2="623.8" stroke="#c00a0a" stroke-width="3.2" stroke-dasharray="8 5"/>
<path d="M499,614 L513,623.4 L500.5,633.5" fill="none" stroke="#c00a0a" stroke-width="3.2"/>
<g clip-path="url(#clipF)"><rect x="796.0" y="416.0" width="192.6" height="169.4" fill="#000"/><g filter="url(#spclipF)"><rect x="776.0" y="396.0" width="44.5" height="44.6" fill="#1a1a1a"/><rect x="820.1" y="396.0" width="24.5" height="44.6" fill="#303030"/><rect x="844.1" y="396.0" width="24.5" height="44.6" fill="#303030"/><rect x="868.2" y="396.0" width="24.5" height="44.6" fill="#111111"/><rect x="892.3" y="396.0" width="24.5" height="44.6" fill="#1a1a1a"/><rect x="916.4" y="396.0" width="24.5" height="44.6" fill="#585858"/><rect x="940.5" y="396.0" width="24.5" height="44.6" fill="#888888"/><rect x="964.5" y="396.0" width="44.5" height="44.6" fill="#777777"/><rect x="776.0" y="440.2" width="44.5" height="24.6" fill="#090909"/><rect x="820.1" y="440.2" width="24.5" height="24.6" fill="#303030"/><rect x="844.1" y="440.2" width="24.5" height="24.6" fill="#242424"/><rect x="868.2" y="440.2" width="24.5" height="24.6" fill="#030303"/><rect x="892.3" y="440.2" width="24.5" height="24.6" fill="#090909"/><rect x="916.4" y="440.2" width="24.5" height="24.6" fill="#303030"/><rect x="940.5" y="440.2" width="24.5" height="24.6" fill="#999999"/><rect x="964.5" y="440.2" width="44.5" height="24.6" fill="#888888"/><rect x="776.0" y="464.4" width="44.5" height="24.6" fill="#111111"/><rect x="820.1" y="464.4" width="24.5" height="24.6" fill="#111111"/><rect x="844.1" y="464.4" width="24.5" height="24.6" fill="#1a1a1a"/><rect x="868.2" y="464.4" width="24.5" height="24.6" fill="#090909"/><rect x="892.3" y="464.4" width="24.5" height="24.6" fill="#111111"/><rect x="916.4" y="464.4" width="24.5" height="24.6" fill="#242424"/><rect x="940.5" y="464.4" width="24.5" height="24.6" fill="#888888"/><rect x="964.5" y="464.4" width="44.5" height="24.6" fill="#888888"/><rect x="776.0" y="488.6" width="44.5" height="24.6" fill="#111111"/><rect x="820.1" y="488.6" width="24.5" height="24.6" fill="#0c0c0c"/><rect x="844.1" y="488.6" width="24.5" height="24.6" fill="#111111"/><rect x="868.2" y="488.6" width="24.5" height="24.6" fill="#242424"/><rect x="892.3" y="488.6" width="24.5" height="24.6" fill="#1a1a1a"/><rect x="916.4" y="488.6" width="24.5" height="24.6" fill="#303030"/><rect x="940.5" y="488.6" width="24.5" height="24.6" fill="#999999"/><rect x="964.5" y="488.6" width="44.5" height="24.6" fill="#ababab"/><rect x="776.0" y="512.8" width="44.5" height="24.6" fill="#111111"/><rect x="820.1" y="512.8" width="24.5" height="24.6" fill="#111111"/><rect x="844.1" y="512.8" width="24.5" height="24.6" fill="#0c0c0c"/><rect x="868.2" y="512.8" width="24.5" height="24.6" fill="#3c3c3c"/><rect x="892.3" y="512.8" width="24.5" height="24.6" fill="#3c3c3c"/><rect x="916.4" y="512.8" width="24.5" height="24.6" fill="#4a4a4a"/><rect x="940.5" y="512.8" width="24.5" height="24.6" fill="#777777"/><rect x="964.5" y="512.8" width="44.5" height="24.6" fill="#999999"/><rect x="776.0" y="537.0" width="44.5" height="24.6" fill="#060606"/><rect x="820.1" y="537.0" width="24.5" height="24.6" fill="#090909"/><rect x="844.1" y="537.0" width="24.5" height="24.6" fill="#090909"/><rect x="868.2" y="537.0" width="24.5" height="24.6" fill="#303030"/><rect x="892.3" y="537.0" width="24.5" height="24.6" fill="#3c3c3c"/><rect x="916.4" y="537.0" width="24.5" height="24.6" fill="#3c3c3c"/><rect x="940.5" y="537.0" width="24.5" height="24.6" fill="#4a4a4a"/><rect x="964.5" y="537.0" width="44.5" height="24.6" fill="#3c3c3c"/><rect x="776.0" y="561.2" width="44.5" height="44.6" fill="#030303"/><rect x="820.1" y="561.2" width="24.5" height="44.6" fill="#030303"/><rect x="844.1" y="561.2" width="24.5" height="44.6" fill="#090909"/><rect x="868.2" y="561.2" width="24.5" height="44.6" fill="#303030"/><rect x="892.3" y="561.2" width="24.5" height="44.6" fill="#1a1a1a"/><rect x="916.4" y="561.2" width="24.5" height="44.6" fill="#3c3c3c"/><rect x="940.5" y="561.2" width="24.5" height="44.6" fill="#303030"/><rect x="964.5" y="561.2" width="44.5" height="44.6" fill="#303030"/></g></g>
<g clip-path="url(#clipG)"><rect x="995.0" y="416.0" width="193.5" height="169.8" fill="#000"/><g filter="url(#spclipG)"><rect x="975.0" y="396.0" width="44.6" height="44.7" fill="#303030"/><rect x="1019.2" y="396.0" width="24.6" height="44.7" fill="#3c3c3c"/><rect x="1043.4" y="396.0" width="24.6" height="44.7" fill="#303030"/><rect x="1067.6" y="396.0" width="24.6" height="44.7" fill="#242424"/><rect x="1091.8" y="396.0" width="24.6" height="44.7" fill="#1a1a1a"/><rect x="1115.9" y="396.0" width="24.6" height="44.7" fill="#303030"/><rect x="1140.1" y="396.0" width="24.6" height="44.7" fill="#676767"/><rect x="1164.3" y="396.0" width="44.6" height="44.7" fill="#676767"/><rect x="975.0" y="440.3" width="44.6" height="24.7" fill="#3c3c3c"/><rect x="1019.2" y="440.3" width="24.6" height="24.7" fill="#242424"/><rect x="1043.4" y="440.3" width="24.6" height="24.7" fill="#090909"/><rect x="1067.6" y="440.3" width="24.6" height="24.7" fill="#030303"/><rect x="1091.8" y="440.3" width="24.6" height="24.7" fill="#030303"/><rect x="1115.9" y="440.3" width="24.6" height="24.7" fill="#3c3c3c"/><rect x="1140.1" y="440.3" width="24.6" height="24.7" fill="#777777"/><rect x="1164.3" y="440.3" width="44.6" height="24.7" fill="#585858"/><rect x="975.0" y="464.5" width="44.6" height="24.7" fill="#1a1a1a"/><rect x="1019.2" y="464.5" width="24.6" height="24.7" fill="#111111"/><rect x="1043.4" y="464.5" width="24.6" height="24.7" fill="#111111"/><rect x="1067.6" y="464.5" width="24.6" height="24.7" fill="#090909"/><rect x="1091.8" y="464.5" width="24.6" height="24.7" fill="#111111"/><rect x="1115.9" y="464.5" width="24.6" height="24.7" fill="#303030"/><rect x="1140.1" y="464.5" width="24.6" height="24.7" fill="#676767"/><rect x="1164.3" y="464.5" width="44.6" height="24.7" fill="#676767"/><rect x="975.0" y="488.8" width="44.6" height="24.7" fill="#111111"/><rect x="1019.2" y="488.8" width="24.6" height="24.7" fill="#111111"/><rect x="1043.4" y="488.8" width="24.6" height="24.7" fill="#1a1a1a"/><rect x="1067.6" y="488.8" width="24.6" height="24.7" fill="#242424"/><rect x="1091.8" y="488.8" width="24.6" height="24.7" fill="#111111"/><rect x="1115.9" y="488.8" width="24.6" height="24.7" fill="#3c3c3c"/><rect x="1140.1" y="488.8" width="24.6" height="24.7" fill="#777777"/><rect x="1164.3" y="488.8" width="44.6" height="24.7" fill="#888888"/><rect x="975.0" y="513.0" width="44.6" height="24.7" fill="#242424"/><rect x="1019.2" y="513.0" width="24.6" height="24.7" fill="#242424"/><rect x="1043.4" y="513.0" width="24.6" height="24.7" fill="#111111"/><rect x="1067.6" y="513.0" width="24.6" height="24.7" fill="#303030"/><rect x="1091.8" y="513.0" width="24.6" height="24.7" fill="#303030"/><rect x="1115.9" y="513.0" width="24.6" height="24.7" fill="#585858"/><rect x="1140.1" y="513.0" width="24.6" height="24.7" fill="#777777"/><rect x="1164.3" y="513.0" width="44.6" height="24.7" fill="#777777"/><rect x="975.0" y="537.3" width="44.6" height="24.7" fill="#111111"/><rect x="1019.2" y="537.3" width="24.6" height="24.7" fill="#111111"/><rect x="1043.4" y="537.3" width="24.6" height="24.7" fill="#090909"/><rect x="1067.6" y="537.3" width="24.6" height="24.7" fill="#1a1a1a"/><rect x="1091.8" y="537.3" width="24.6" height="24.7" fill="#242424"/><rect x="1115.9" y="537.3" width="24.6" height="24.7" fill="#303030"/><rect x="1140.1" y="537.3" width="24.6" height="24.7" fill="#303030"/><rect x="1164.3" y="537.3" width="44.6" height="24.7" fill="#303030"/><rect x="975.0" y="561.5" width="44.6" height="44.7" fill="#060606"/><rect x="1019.2" y="561.5" width="24.6" height="44.7" fill="#090909"/><rect x="1043.4" y="561.5" width="24.6" height="44.7" fill="#111111"/><rect x="1067.6" y="561.5" width="24.6" height="44.7" fill="#242424"/><rect x="1091.8" y="561.5" width="24.6" height="44.7" fill="#111111"/><rect x="1115.9" y="561.5" width="24.6" height="44.7" fill="#303030"/><rect x="1140.1" y="561.5" width="24.6" height="44.7" fill="#242424"/><rect x="1164.3" y="561.5" width="44.6" height="44.7" fill="#1a1a1a"/></g></g>
<g clip-path="url(#clipH)"><rect x="796.0" y="593.0" width="192.7" height="175.7" fill="#000"/><g filter="url(#spclipH)"><rect x="776.0" y="573.0" width="44.5" height="45.5" fill="#676767"/><rect x="820.1" y="573.0" width="24.5" height="45.5" fill="#676767"/><rect x="844.2" y="573.0" width="24.5" height="45.5" fill="#585858"/><rect x="868.3" y="573.0" width="24.5" height="45.5" fill="#4a4a4a"/><rect x="892.4" y="573.0" width="24.5" height="45.5" fill="#585858"/><rect x="916.4" y="573.0" width="24.5" height="45.5" fill="#585858"/><rect x="940.5" y="573.0" width="24.5" height="45.5" fill="#585858"/><rect x="964.6" y="573.0" width="44.5" height="45.5" fill="#3c3c3c"/><rect x="776.0" y="618.1" width="44.5" height="25.5" fill="#585858"/><rect x="820.1" y="618.1" width="24.5" height="25.5" fill="#585858"/><rect x="844.2" y="618.1" width="24.5" height="25.5" fill="#242424"/><rect x="868.3" y="618.1" width="24.5" height="25.5" fill="#090909"/><rect x="892.4" y="618.1" width="24.5" height="25.5" fill="#1a1a1a"/><rect x="916.4" y="618.1" width="24.5" height="25.5" fill="#4a4a4a"/><rect x="940.5" y="618.1" width="24.5" height="25.5" fill="#585858"/><rect x="964.6" y="618.1" width="44.5" height="25.5" fill="#303030"/><rect x="776.0" y="643.2" width="44.5" height="25.5" fill="#585858"/><rect x="820.1" y="643.2" width="24.5" height="25.5" fill="#585858"/><rect x="844.2" y="643.2" width="24.5" height="25.5" fill="#303030"/><rect x="868.3" y="643.2" width="24.5" height="25.5" fill="#303030"/><rect x="892.4" y="643.2" width="24.5" height="25.5" fill="#4a4a4a"/><rect x="916.4" y="643.2" width="24.5" height="25.5" fill="#3c3c3c"/><rect x="940.5" y="643.2" width="24.5" height="25.5" fill="#676767"/><rect x="964.6" y="643.2" width="44.5" height="25.5" fill="#585858"/><rect x="776.0" y="668.3" width="44.5" height="25.5" fill="#1a1a1a"/><rect x="820.1" y="668.3" width="24.5" height="25.5" fill="#676767"/><rect x="844.2" y="668.3" width="24.5" height="25.5" fill="#676767"/><rect x="868.3" y="668.3" width="24.5" height="25.5" fill="#585858"/><rect x="892.4" y="668.3" width="24.5" height="25.5" fill="#3c3c3c"/><rect x="916.4" y="668.3" width="24.5" height="25.5" fill="#676767"/><rect x="940.5" y="668.3" width="24.5" height="25.5" fill="#777777"/><rect x="964.6" y="668.3" width="44.5" height="25.5" fill="#676767"/><rect x="776.0" y="693.4" width="44.5" height="25.5" fill="#303030"/><rect x="820.1" y="693.4" width="24.5" height="25.5" fill="#585858"/><rect x="844.2" y="693.4" width="24.5" height="25.5" fill="#676767"/><rect x="868.3" y="693.4" width="24.5" height="25.5" fill="#4a4a4a"/><rect x="892.4" y="693.4" width="24.5" height="25.5" fill="#303030"/><rect x="916.4" y="693.4" width="24.5" height="25.5" fill="#3c3c3c"/><rect x="940.5" y="693.4" width="24.5" height="25.5" fill="#4a4a4a"/><rect x="964.6" y="693.4" width="44.5" height="25.5" fill="#777777"/><rect x="776.0" y="718.5" width="44.5" height="25.5" fill="#585858"/><rect x="820.1" y="718.5" width="24.5" height="25.5" fill="#585858"/><rect x="844.2" y="718.5" width="24.5" height="25.5" fill="#4a4a4a"/><rect x="868.3" y="718.5" width="24.5" height="25.5" fill="#3c3c3c"/><rect x="892.4" y="718.5" width="24.5" height="25.5" fill="#242424"/><rect x="916.4" y="718.5" width="24.5" height="25.5" fill="#242424"/><rect x="940.5" y="718.5" width="24.5" height="25.5" fill="#303030"/><rect x="964.6" y="718.5" width="44.5" height="25.5" fill="#4a4a4a"/><rect x="776.0" y="743.6" width="44.5" height="45.5" fill="#4a4a4a"/><rect x="820.1" y="743.6" width="24.5" height="45.5" fill="#303030"/><rect x="844.2" y="743.6" width="24.5" height="45.5" fill="#1a1a1a"/><rect x="868.3" y="743.6" width="24.5" height="45.5" fill="#4a4a4a"/><rect x="892.4" y="743.6" width="24.5" height="45.5" fill="#3c3c3c"/><rect x="916.4" y="743.6" width="24.5" height="45.5" fill="#4a4a4a"/><rect x="940.5" y="743.6" width="24.5" height="45.5" fill="#303030"/><rect x="964.6" y="743.6" width="44.5" height="45.5" fill="#303030"/></g></g>
<g clip-path="url(#clipI)"><rect x="996.0" y="592.2" width="194.7" height="174.5" fill="#000"/><g filter="url(#spclipI)"><rect x="976.0" y="572.2" width="44.7" height="45.3" fill="#111111"/><rect x="1020.3" y="572.2" width="24.7" height="45.3" fill="#303030"/><rect x="1044.7" y="572.2" width="24.7" height="45.3" fill="#4a4a4a"/><rect x="1069.0" y="572.2" width="24.7" height="45.3" fill="#303030"/><rect x="1093.3" y="572.2" width="24.7" height="45.3" fill="#3c3c3c"/><rect x="1117.7" y="572.2" width="24.7" height="45.3" fill="#676767"/><rect x="1142.0" y="572.2" width="24.7" height="45.3" fill="#ababab"/><rect x="1166.4" y="572.2" width="44.7" height="45.3" fill="#888888"/><rect x="976.0" y="617.1" width="44.7" height="25.3" fill="#090909"/><rect x="1020.3" y="617.1" width="24.7" height="25.3" fill="#303030"/><rect x="1044.7" y="617.1" width="24.7" height="25.3" fill="#1a1a1a"/><rect x="1069.0" y="617.1" width="24.7" height="25.3" fill="#030303"/><rect x="1093.3" y="617.1" width="24.7" height="25.3" fill="#090909"/><rect x="1117.7" y="617.1" width="24.7" height="25.3" fill="#3c3c3c"/><rect x="1142.0" y="617.1" width="24.7" height="25.3" fill="#d1d1d1"/><rect x="1166.4" y="617.1" width="44.7" height="25.3" fill="#676767"/><rect x="976.0" y="642.1" width="44.7" height="25.3" fill="#1a1a1a"/><rect x="1020.3" y="642.1" width="24.7" height="25.3" fill="#303030"/><rect x="1044.7" y="642.1" width="24.7" height="25.3" fill="#242424"/><rect x="1069.0" y="642.1" width="24.7" height="25.3" fill="#111111"/><rect x="1093.3" y="642.1" width="24.7" height="25.3" fill="#1a1a1a"/><rect x="1117.7" y="642.1" width="24.7" height="25.3" fill="#303030"/><rect x="1142.0" y="642.1" width="24.7" height="25.3" fill="#888888"/><rect x="1166.4" y="642.1" width="44.7" height="25.3" fill="#888888"/><rect x="976.0" y="667.0" width="44.7" height="25.3" fill="#242424"/><rect x="1020.3" y="667.0" width="24.7" height="25.3" fill="#242424"/><rect x="1044.7" y="667.0" width="24.7" height="25.3" fill="#111111"/><rect x="1069.0" y="667.0" width="24.7" height="25.3" fill="#3c3c3c"/><rect x="1093.3" y="667.0" width="24.7" height="25.3" fill="#3c3c3c"/><rect x="1117.7" y="667.0" width="24.7" height="25.3" fill="#3c3c3c"/><rect x="1142.0" y="667.0" width="24.7" height="25.3" fill="#d1d1d1"/><rect x="1166.4" y="667.0" width="44.7" height="25.3" fill="#ababab"/><rect x="976.0" y="691.9" width="44.7" height="25.3" fill="#1a1a1a"/><rect x="1020.3" y="691.9" width="24.7" height="25.3" fill="#1a1a1a"/><rect x="1044.7" y="691.9" width="24.7" height="25.3" fill="#303030"/><rect x="1069.0" y="691.9" width="24.7" height="25.3" fill="#585858"/><rect x="1093.3" y="691.9" width="24.7" height="25.3" fill="#4a4a4a"/><rect x="1117.7" y="691.9" width="24.7" height="25.3" fill="#888888"/><rect x="1142.0" y="691.9" width="24.7" height="25.3" fill="#ababab"/><rect x="1166.4" y="691.9" width="44.7" height="25.3" fill="#bebebe"/><rect x="976.0" y="716.8" width="44.7" height="25.3" fill="#111111"/><rect x="1020.3" y="716.8" width="24.7" height="25.3" fill="#1a1a1a"/><rect x="1044.7" y="716.8" width="24.7" height="25.3" fill="#111111"/><rect x="1069.0" y="716.8" width="24.7" height="25.3" fill="#303030"/><rect x="1093.3" y="716.8" width="24.7" height="25.3" fill="#3c3c3c"/><rect x="1117.7" y="716.8" width="24.7" height="25.3" fill="#585858"/><rect x="1142.0" y="716.8" width="24.7" height="25.3" fill="#585858"/><rect x="1166.4" y="716.8" width="44.7" height="25.3" fill="#777777"/><rect x="976.0" y="741.8" width="44.7" height="45.3" fill="#030303"/><rect x="1020.3" y="741.8" width="24.7" height="45.3" fill="#090909"/><rect x="1044.7" y="741.8" width="24.7" height="45.3" fill="#3c3c3c"/><rect x="1069.0" y="741.8" width="24.7" height="45.3" fill="#303030"/><rect x="1093.3" y="741.8" width="24.7" height="45.3" fill="#303030"/><rect x="1117.7" y="741.8" width="24.7" height="45.3" fill="#3c3c3c"/><rect x="1142.0" y="741.8" width="24.7" height="45.3" fill="#3c3c3c"/><rect x="1166.4" y="741.8" width="44.7" height="45.3" fill="#3c3c3c"/></g></g>
<text x="806.0" y="445.5" font-size="25" font-weight="bold" fill="#fff">f</text><text x="1004.0" y="445.0" font-size="25" font-weight="bold" fill="#fff">g</text><text x="805.0" y="621.7" font-size="25" font-weight="bold" fill="#fff">h</text><text x="1003.0" y="621.3" font-size="25" font-weight="bold" fill="#fff">i</text><text x="804.0" y="577.5" font-size="16" fill="#fff">S</text><text x="1004.0" y="578.3" font-size="16" fill="#fff">K</text><text x="803.5" y="759.0" font-size="16" fill="#fff">C</text><text x="1003.2" y="758.8" font-size="16" fill="#fff">Sb</text>
<rect x="949.4" y="567.7" width="26.3" height="5.3" fill="#fff"/><rect x="947" y="580.6" width="25" height="0.8" fill="#999"/>
<rect x="1146" y="567.7" width="26.9" height="5.4" fill="#fff"/><rect x="1146" y="580" width="25" height="0.8" fill="#999"/>
<rect x="951.8" y="754" width="26.8" height="5" fill="#fff"/><rect x="948" y="764.4" width="25" height="0.8" fill="#999"/>
<rect x="1148" y="752" width="26.8" height="6" fill="#fff"/>
<text x="9" y="825.4" font-size="27" font-weight="bold" fill="#000">j</text>
<text x="240.5" y="828" font-size="19.1" fill="#2f74b5" text-anchor="middle">Coulombic efficiency (%)</text>
<g font-size="17.5" fill="#2f74b5" text-anchor="middle"><text x="81.0" y="855.5">0</text><text x="145.9" y="855.5">20</text><text x="210.8" y="855.5">40</text><text x="275.7" y="855.5">60</text><text x="340.6" y="855.5">80</text><text x="405.5" y="855.5">100</text></g>
<rect x="7" y="885.0" width="57.4" height="76.2" fill="#c4c4c4"/>
<path d="M64.4,885.0 L71.5,885.0 V961.2 H64.4 Z" fill="#c4c4c4"/>
<rect x="7" y="975.5" width="57.4" height="76.0" fill="#c4c4c4"/>
<path d="M64.4,975.5 L71.5,975.5 V1051.5 H64.4 Z" fill="#c4c4c4"/>
<rect x="7" y="1066.0" width="57.4" height="76.7" fill="#c4c4c4"/>
<path d="M64.4,1066.0 L71.5,1066.0 V1142.7 H64.4 Z" fill="#c4c4c4"/>
<g stroke="#aaaaaa" stroke-width="1.1" stroke-dasharray="4.5 3"><line x1="73.3" y1="872" x2="73.3" y2="1150"/><line x1="139.8" y1="872" x2="139.8" y2="1150"/><line x1="206.3" y1="872" x2="206.3" y2="1150"/><line x1="272.8" y1="872" x2="272.8" y2="1150"/><line x1="339.3" y1="872" x2="339.3" y2="1150"/><line x1="405.8" y1="872" x2="405.8" y2="1150"/></g>
<line x1="73.3" y1="871" x2="405.8" y2="870.5" stroke="#9aa2ac" stroke-width="2"/>
<g stroke="#9aa2ac" stroke-width="2"><line x1="73.3" y1="871" x2="78.8" y2="862.5"/><line x1="139.8" y1="871" x2="145.3" y2="862.5"/><line x1="206.3" y1="871" x2="211.8" y2="862.5"/><line x1="272.8" y1="871" x2="278.3" y2="862.5"/><line x1="339.3" y1="871" x2="344.8" y2="862.5"/><line x1="405.8" y1="871" x2="411.3" y2="862.5"/></g>
<line x1="73.3" y1="1151.2" x2="405.8" y2="1151.2" stroke="#f2b4b4" stroke-width="2"/>
<g stroke="#f2b4b4" stroke-width="2"><line x1="74.3" y1="1151" x2="69.8" y2="1159"/><line x1="140.8" y1="1151" x2="136.3" y2="1159"/><line x1="207.3" y1="1151" x2="202.8" y2="1159"/><line x1="273.8" y1="1151" x2="269.3" y2="1159"/><line x1="340.3" y1="1151" x2="335.8" y2="1159"/><line x1="406.8" y1="1151" x2="402.3" y2="1159"/></g>
<g font-size="17.5" fill="#c0141e" text-anchor="middle"><text x="73.6" y="1178">0</text><text x="136.0" y="1178">200</text><text x="200.0" y="1178">400</text><text x="268.0" y="1178">600</text><text x="331.5" y="1178">800</text><text x="391.7" y="1178">1000</text></g>
<text x="238" y="1209" font-size="19" fill="#c0141e" text-anchor="middle">Discharge capacity (mAh g<tspan font-size="12" dy="-7">−1</tspan><tspan dy="7">)</tspan></text>
<path d="M64.4,925.0 L71.1,918.3 H90.0 L83.3,925.0 Z" fill="#8a2a2a"/><path d="M83.3,925.0 L90.0,918.3 V954.5 L83.3,961.2 Z" fill="#6a0000"/><rect x="64.4" y="925.0" width="18.9" height="36.2" fill="url(#rfront)"/>
<path d="M64.4,891.7 L74.4,881.7 H395.0 L385.0,891.7 Z" fill="#4a6e95"/><path d="M385.0,891.7 L395.0,881.7 V914.2 L385.0,924.2 Z" fill="#284d75"/><rect x="64.4" y="891.7" width="320.6" height="32.5" fill="url(#bfront)"/>
<path d="M64.8,1019.0 L74.8,1009.0 H140.0 L130.0,1019.0 Z" fill="#8a2a2a"/><path d="M130.0,1019.0 L140.0,1009.0 V1041.7 L130.0,1051.7 Z" fill="#6a0000"/><rect x="64.8" y="1019.0" width="65.2" height="32.7" fill="url(#rfront)"/>
<path d="M64.8,986.7 L74.8,976.7 H369.2 L359.2,986.7 Z" fill="#4a6e95"/><path d="M359.2,986.7 L369.2,976.7 V1008.7 L359.2,1018.7 Z" fill="#284d75"/><rect x="64.8" y="986.7" width="294.4" height="32.0" fill="url(#bfront)"/>
<path d="M64.4,1109.0 L74.4,1099.0 H399.0 L389.0,1109.0 Z" fill="#8a2a2a"/><path d="M389.0,1109.0 L399.0,1099.0 V1132.7 L389.0,1142.7 Z" fill="#6a0000"/><rect x="64.4" y="1109.0" width="324.6" height="33.7" fill="url(#rfront)"/>
<path d="M64.4,1076.4 L74.4,1066.4 H167.9 L157.9,1076.4 Z" fill="#4a6e95"/><path d="M157.9,1076.4 L167.9,1066.4 V1099.0 L157.9,1109.0 Z" fill="#284d75"/><rect x="64.4" y="1076.4" width="93.5" height="32.6" fill="url(#bfront)"/>
<g font-size="18.3" fill="#111"><text x="36.5" y="929.5" text-anchor="middle">50th</text><text x="36.5" y="1019.5" text-anchor="middle">20th</text><text x="54.8" y="1110.5" text-anchor="end">1st</text><text x="102.5" y="951.3">70</text><text x="150" y="1043">184</text><text x="403.3" y="914.6">92%</text><text x="373" y="1004">87%</text><text x="175.5" y="1094.3">24%</text><text x="404.4" y="1128.7">988</text></g>
<text x="472.5" y="822.8" font-size="27" font-weight="bold" fill="#000">k</text>
<text x="853.4" y="863" font-size="18.7" fill="#111" text-anchor="middle">Cracks during cycles</text>
<path d="M580,907 V884 Q580,881.3 583,881.3 H1177 Q1180,881.3 1180,884 V907" fill="none" stroke="#3a4a5c" stroke-width="2.2"/>
<text transform="translate(490.5,995.5) rotate(-90)" x="0" y="0" font-size="19.3" fill="#111" text-anchor="middle">Bulk Sb<tspan font-size="13.5" dy="5">2</tspan><tspan dy="-5">S</tspan><tspan font-size="13.5" dy="5">3</tspan><tspan dy="-5"> (SBS)</tspan></text>
<circle cx="583.3" cy="1009" r="79.5" fill="url(#sph)"/>
<path d="M671.5,1003.3 L747.6,1003.3 L747.6,992.3 L767.0,1011.7 L747.6,1031.1 L747.6,1020.1 L671.5,1020.1 L684.5,1011.7 Z" fill="#5b9bd5"/>
<path d="M931.7,1000.6 L1011.0,1000.6 L1011.0,989.6 L1030.4,1009.0 L1011.0,1028.4 L1011.0,1017.4 L931.7,1017.4 L944.7,1009.0 Z" fill="#5b9bd5"/>
<text x="852" y="1146" font-size="18.7" fill="#111" text-anchor="middle">Sb<tspan font-size="13" dy="5">2</tspan><tspan dy="-5">S</tspan><tspan font-size="13" dy="5">3</tspan><tspan dy="-5"> + 8K</tspan><tspan font-size="13" dy="-7">+</tspan><tspan dy="7"> + 8e</tspan><tspan font-size="13" dy="-7">−</tspan><tspan dy="7"> ⟶ 2K</tspan><tspan font-size="13" dy="5">3</tspan><tspan dy="-5">Sb + K</tspan><tspan font-size="13" dy="5">2</tspan><tspan dy="-5">S</tspan><tspan font-size="13" dy="5">3</tspan></text>
<path d="M775.0,963.8 L775.8,958.8 L783.2,956.1 L791.2,957.5 L796.3,961.2 L796.3,967.7 L795.5,972.4 L791.7,976.7 L783.5,977.6 L776.8,974.9 L775.0,970.3 Z" fill="url(#fside)" stroke="#a2a5c2" stroke-width="1.4"/><path d="M775.0,963.8 L775.8,958.8 L783.2,956.1 L791.2,957.5 L796.3,961.2 L795.5,965.9 L791.7,970.2 L783.5,971.1 L776.8,968.4 Z" fill="#babdd4" stroke="#9da0c0" stroke-width="1.6" stroke-linejoin="round"/><path d="M796.5,959.3 L796.6,953.2 L809.8,948.4 L828.9,943.8 L847.7,947.2 L851.8,953.7 L851.8,960.2 L846.5,966.8 L827.2,969.6 L806.1,971.5 L796.5,965.8 Z" fill="url(#fside)" stroke="#a2a5c2" stroke-width="1.4"/><path d="M796.5,959.3 L796.6,953.2 L809.8,948.4 L828.9,943.8 L847.7,947.2 L851.8,953.7 L846.5,960.3 L827.2,963.1 L806.1,965.0 Z" fill="#babdd4" stroke="#9da0c0" stroke-width="1.6" stroke-linejoin="round"/><path d="M850.8,955.5 L857.2,947.7 L867.7,940.3 L881.1,941.2 L885.5,948.4 L886.1,956.0 L886.1,962.5 L877.5,970.2 L864.8,971.5 L851.1,971.2 L850.8,962.0 Z" fill="url(#fside)" stroke="#a2a5c2" stroke-width="1.4"/><path d="M850.8,955.5 L857.2,947.7 L867.7,940.3 L881.1,941.2 L885.5,948.4 L886.1,956.0 L877.5,963.7 L864.8,965.0 L851.1,964.7 Z" fill="#babdd4" stroke="#9da0c0" stroke-width="1.6" stroke-linejoin="round"/><path d="M781.1,985.2 L781.4,980.8 L791.8,978.1 L803.8,978.1 L817.5,979.3 L817.6,984.1 L817.6,990.6 L815.4,995.3 L801.1,996.5 L787.8,995.6 L781.1,991.7 Z" fill="url(#fside)" stroke="#a2a5c2" stroke-width="1.4"/><path d="M781.1,985.2 L781.4,980.8 L791.8,978.1 L803.8,978.1 L817.5,979.3 L817.6,984.1 L815.4,988.8 L801.1,990.0 L787.8,989.1 Z" fill="#babdd4" stroke="#9da0c0" stroke-width="1.6" stroke-linejoin="round"/><path d="M818.3,982.0 L822.2,972.5 L829.3,964.6 L843.1,964.2 L858.1,966.6 L863.0,977.2 L863.0,983.7 L856.6,993.5 L843.1,998.7 L828.5,996.0 L818.3,988.5 Z" fill="url(#fside)" stroke="#a2a5c2" stroke-width="1.4"/><path d="M818.3,982.0 L822.2,972.5 L829.3,964.6 L843.1,964.2 L858.1,966.6 L863.0,977.2 L856.6,987.0 L843.1,992.2 L828.5,989.5 Z" fill="#babdd4" stroke="#9da0c0" stroke-width="1.6" stroke-linejoin="round"/><path d="M869.7,979.7 L883.9,972.8 L897.7,970.9 L912.1,971.7 L915.1,980.7 L915.1,987.2 L905.0,996.0 L891.6,1001.2 L878.0,1001.2 L870.9,995.2 L869.7,986.2 Z" fill="url(#fside)" stroke="#a2a5c2" stroke-width="1.4"/><path d="M869.7,979.7 L883.9,972.8 L897.7,970.9 L912.1,971.7 L915.1,980.7 L905.0,989.5 L891.6,994.7 L878.0,994.7 L870.9,988.7 Z" fill="#babdd4" stroke="#9da0c0" stroke-width="1.6" stroke-linejoin="round"/><path d="M895.5,992.6 L897.3,982.9 L906.3,975.7 L918.5,977.8 L928.9,982.6 L928.9,989.1 L928.3,998.6 L925.3,1008.2 L913.1,1013.0 L901.6,1007.5 L895.5,999.1 Z" fill="url(#fside)" stroke="#a2a5c2" stroke-width="1.4"/><path d="M895.5,992.6 L897.3,982.9 L906.3,975.7 L918.5,977.8 L928.9,982.6 L928.3,992.1 L925.3,1001.7 L913.1,1006.5 L901.6,1001.0 Z" fill="#babdd4" stroke="#9da0c0" stroke-width="1.6" stroke-linejoin="round"/><path d="M769.8,997.0 L783.8,995.2 L799.7,995.8 L814.5,999.1 L824.5,1004.4 L824.5,1010.9 L813.6,1014.3 L798.9,1015.9 L782.1,1012.9 L773.3,1008.5 L769.8,1003.5 Z" fill="url(#fside)" stroke="#a2a5c2" stroke-width="1.4"/><path d="M769.8,997.0 L783.8,995.2 L799.7,995.8 L814.5,999.1 L824.5,1004.4 L813.6,1007.8 L798.9,1009.4 L782.1,1006.4 L773.3,1002.0 Z" fill="#babdd4" stroke="#9da0c0" stroke-width="1.6" stroke-linejoin="round"/><path d="M817.0,998.3 L823.3,993.6 L841.3,991.2 L858.7,993.4 L873.5,996.6 L873.5,1003.1 L870.9,1008.2 L857.2,1011.7 L838.7,1011.4 L822.3,1009.4 L817.0,1004.8 Z" fill="url(#fside)" stroke="#a2a5c2" stroke-width="1.4"/><path d="M817.0,998.3 L823.3,993.6 L841.3,991.2 L858.7,993.4 L873.5,996.6 L870.9,1001.7 L857.2,1005.2 L838.7,1004.9 L822.3,1002.9 Z" fill="#babdd4" stroke="#9da0c0" stroke-width="1.6" stroke-linejoin="round"/><path d="M759.5,1019.5 L768.7,1013.5 L779.2,1011.1 L792.5,1010.8 L799.2,1018.0 L799.4,1026.2 L799.4,1032.7 L788.1,1037.5 L775.4,1037.6 L766.0,1033.0 L759.5,1026.0 Z" fill="url(#fside)" stroke="#a2a5c2" stroke-width="1.4"/><path d="M759.5,1019.5 L768.7,1013.5 L779.2,1011.1 L792.5,1010.8 L799.2,1018.0 L799.4,1026.2 L788.1,1031.0 L775.4,1031.1 L766.0,1026.5 Z" fill="#babdd4" stroke="#9da0c0" stroke-width="1.6" stroke-linejoin="round"/><path d="M807.9,1017.7 L812.2,1011.5 L822.9,1007.0 L835.2,1006.1 L837.5,1012.2 L837.5,1018.7 L836.5,1024.6 L828.1,1030.1 L816.7,1032.6 L809.1,1029.6 L807.9,1024.2 Z" fill="url(#fside)" stroke="#a2a5c2" stroke-width="1.4"/><path d="M807.9,1017.7 L812.2,1011.5 L822.9,1007.0 L835.2,1006.1 L837.5,1012.2 L836.5,1018.1 L828.1,1023.6 L816.7,1026.1 L809.1,1023.1 Z" fill="#babdd4" stroke="#9da0c0" stroke-width="1.6" stroke-linejoin="round"/><path d="M840.6,1018.7 L846.6,1015.9 L852.5,1014.9 L859.6,1016.6 L861.1,1022.7 L861.1,1029.2 L857.6,1034.2 L851.4,1036.1 L844.1,1036.4 L840.8,1031.0 L840.6,1025.2 Z" fill="url(#fside)" stroke="#a2a5c2" stroke-width="1.4"/><path d="M840.6,1018.7 L846.6,1015.9 L852.5,1014.9 L859.6,1016.6 L861.1,1022.7 L857.6,1027.7 L851.4,1029.6 L844.1,1029.9 L840.8,1024.5 Z" fill="#babdd4" stroke="#9da0c0" stroke-width="1.6" stroke-linejoin="round"/><path d="M861.0,1023.4 L862.9,1017.8 L869.4,1015.7 L876.8,1015.6 L881.9,1020.6 L881.9,1027.1 L880.8,1033.4 L875.7,1037.6 L868.6,1038.8 L861.7,1036.1 L861.0,1029.9 Z" fill="url(#fside)" stroke="#a2a5c2" stroke-width="1.4"/><path d="M861.0,1023.4 L862.9,1017.8 L869.4,1015.7 L876.8,1015.6 L881.9,1020.6 L880.8,1026.9 L875.7,1031.1 L868.6,1032.3 L861.7,1029.6 Z" fill="#babdd4" stroke="#9da0c0" stroke-width="1.6" stroke-linejoin="round"/><path d="M881.5,1021.1 L882.0,1010.6 L889.9,1003.8 L900.1,1002.7 L911.3,1004.4 L917.6,1013.7 L917.6,1020.2 L910.0,1028.5 L902.5,1035.5 L890.7,1034.6 L881.5,1027.6 Z" fill="url(#fside)" stroke="#a2a5c2" stroke-width="1.4"/><path d="M881.5,1021.1 L882.0,1010.6 L889.9,1003.8 L900.1,1002.7 L911.3,1004.4 L917.6,1013.7 L910.0,1022.0 L902.5,1029.0 L890.7,1028.1 Z" fill="#babdd4" stroke="#9da0c0" stroke-width="1.6" stroke-linejoin="round"/><path d="M784.2,1039.4 L796.6,1036.7 L810.1,1036.2 L823.8,1038.6 L831.0,1042.8 L832.0,1047.5 L832.0,1054.0 L819.2,1055.6 L803.0,1056.0 L787.9,1051.6 L784.2,1045.9 Z" fill="url(#fside)" stroke="#a2a5c2" stroke-width="1.4"/><path d="M784.2,1039.4 L796.6,1036.7 L810.1,1036.2 L823.8,1038.6 L831.0,1042.8 L832.0,1047.5 L819.2,1049.1 L803.0,1049.5 L787.9,1045.1 Z" fill="#babdd4" stroke="#9da0c0" stroke-width="1.6" stroke-linejoin="round"/><path d="M828.5,1040.8 L836.8,1038.1 L846.2,1036.4 L855.3,1038.5 L860.2,1042.1 L860.2,1048.6 L856.2,1052.3 L848.1,1054.4 L838.4,1054.0 L830.8,1051.5 L828.5,1047.3 Z" fill="url(#fside)" stroke="#a2a5c2" stroke-width="1.4"/><path d="M828.5,1040.8 L836.8,1038.1 L846.2,1036.4 L855.3,1038.5 L860.2,1042.1 L856.2,1045.8 L848.1,1047.9 L838.4,1047.5 L830.8,1045.0 Z" fill="#babdd4" stroke="#9da0c0" stroke-width="1.6" stroke-linejoin="round"/><path d="M872.2,1054.4 L877.3,1048.5 L884.4,1042.6 L906.1,1039.1 L926.0,1040.4 L935.1,1045.2 L935.1,1051.7 L922.8,1057.4 L909.2,1062.3 L890.5,1062.2 L872.2,1060.9 Z" fill="url(#fside)" stroke="#a2a5c2" stroke-width="1.4"/><path d="M872.2,1054.4 L877.3,1048.5 L884.4,1042.6 L906.1,1039.1 L926.0,1040.4 L935.1,1045.2 L922.8,1050.9 L909.2,1055.8 L890.5,1055.7 Z" fill="#babdd4" stroke="#9da0c0" stroke-width="1.6" stroke-linejoin="round"/><path d="M768.3,1052.2 L777.7,1048.3 L792.1,1047.0 L808.7,1051.7 L822.9,1059.0 L822.9,1065.5 L816.0,1071.4 L804.8,1075.5 L786.3,1071.7 L769.6,1066.0 L768.3,1058.7 Z" fill="url(#fside)" stroke="#a2a5c2" stroke-width="1.4"/><path d="M768.3,1052.2 L777.7,1048.3 L792.1,1047.0 L808.7,1051.7 L822.9,1059.0 L816.0,1064.9 L804.8,1069.0 L786.3,1065.2 L769.6,1059.5 Z" fill="#babdd4" stroke="#9da0c0" stroke-width="1.6" stroke-linejoin="round"/><path d="M804.6,1067.1 L807.4,1059.0 L820.3,1057.7 L832.2,1057.4 L839.6,1063.7 L840.5,1071.7 L840.5,1078.2 L832.6,1085.1 L819.5,1084.2 L808.0,1081.3 L804.6,1073.6 Z" fill="url(#fside)" stroke="#a2a5c2" stroke-width="1.4"/><path d="M804.6,1067.1 L807.4,1059.0 L820.3,1057.7 L832.2,1057.4 L839.6,1063.7 L840.5,1071.7 L832.6,1078.6 L819.5,1077.7 L808.0,1074.8 Z" fill="#babdd4" stroke="#9da0c0" stroke-width="1.6" stroke-linejoin="round"/><path d="M834.3,1057.3 L842.6,1053.3 L853.0,1049.7 L867.0,1051.4 L871.0,1057.2 L871.0,1063.7 L868.8,1068.9 L861.0,1073.9 L847.9,1071.9 L839.2,1068.8 L834.3,1063.8 Z" fill="url(#fside)" stroke="#a2a5c2" stroke-width="1.4"/><path d="M834.3,1057.3 L842.6,1053.3 L853.0,1049.7 L867.0,1051.4 L871.0,1057.2 L868.8,1062.4 L861.0,1067.4 L847.9,1065.4 L839.2,1062.3 Z" fill="#babdd4" stroke="#9da0c0" stroke-width="1.6" stroke-linejoin="round"/><path d="M866.8,1074.1 L867.2,1069.6 L869.7,1065.2 L882.8,1063.8 L895.9,1064.9 L902.7,1068.7 L903.6,1073.5 L903.6,1080.0 L892.6,1083.3 L878.5,1083.0 L866.8,1080.6 Z" fill="url(#fside)" stroke="#a2a5c2" stroke-width="1.4"/><path d="M866.8,1074.1 L867.2,1069.6 L869.7,1065.2 L882.8,1063.8 L895.9,1064.9 L902.7,1068.7 L903.6,1073.5 L892.6,1076.8 L878.5,1076.5 Z" fill="#babdd4" stroke="#9da0c0" stroke-width="1.6" stroke-linejoin="round"/>
<path d="M1072.7,955.5 L1075.1,949.9 L1085.7,946.9 L1098.0,946.2 L1106.5,950.5 L1106.5,956.5 L1105.6,963.0 L1096.2,967.7 L1084.6,968.7 L1075.2,966.4 L1072.7,961.5 Z" fill="url(#fside)" stroke="#a2a5c2" stroke-width="1.4"/><path d="M1072.7,955.5 L1075.1,949.9 L1085.7,946.9 L1098.0,946.2 L1106.5,950.5 L1105.6,957.0 L1096.2,961.7 L1084.6,962.7 L1075.2,960.4 Z" fill="#babdd4" stroke="#9da0c0" stroke-width="1.6" stroke-linejoin="round"/><path d="M1103.5,952.6 L1104.5,945.9 L1114.7,942.8 L1124.1,941.1 L1131.4,944.2 L1133.6,950.0 L1133.6,956.0 L1128.4,962.4 L1117.7,965.3 L1108.7,963.2 L1103.5,958.6 Z" fill="url(#fside)" stroke="#a2a5c2" stroke-width="1.4"/><path d="M1103.5,952.6 L1104.5,945.9 L1114.7,942.8 L1124.1,941.1 L1131.4,944.2 L1133.6,950.0 L1128.4,956.4 L1117.7,959.3 L1108.7,957.2 Z" fill="#babdd4" stroke="#9da0c0" stroke-width="1.6" stroke-linejoin="round"/><path d="M1048.8,979.4 L1051.6,973.0 L1061.2,968.1 L1072.6,966.3 L1079.7,969.7 L1080.1,975.7 L1080.1,981.7 L1072.3,987.0 L1062.4,991.8 L1053.8,989.5 L1048.8,985.4 Z" fill="url(#fside)" stroke="#a2a5c2" stroke-width="1.4"/><path d="M1048.8,979.4 L1051.6,973.0 L1061.2,968.1 L1072.6,966.3 L1079.7,969.7 L1080.1,975.7 L1072.3,981.0 L1062.4,985.8 L1053.8,983.5 Z" fill="#babdd4" stroke="#9da0c0" stroke-width="1.6" stroke-linejoin="round"/><path d="M1079.1,975.6 L1080.8,969.9 L1094.3,967.9 L1110.0,966.4 L1122.0,971.3 L1122.0,977.3 L1116.5,983.3 L1110.1,988.0 L1096.3,989.3 L1083.2,986.9 L1079.1,981.6 Z" fill="url(#fside)" stroke="#a2a5c2" stroke-width="1.4"/><path d="M1079.1,975.6 L1080.8,969.9 L1094.3,967.9 L1110.0,966.4 L1122.0,971.3 L1116.5,977.3 L1110.1,982.0 L1096.3,983.3 L1083.2,980.9 Z" fill="#babdd4" stroke="#9da0c0" stroke-width="1.6" stroke-linejoin="round"/><path d="M1121.1,971.7 L1129.9,967.3 L1142.1,963.1 L1157.3,965.8 L1162.2,971.5 L1162.2,977.5 L1160.9,983.0 L1150.9,987.4 L1134.5,988.3 L1122.4,983.8 L1121.1,977.7 Z" fill="url(#fside)" stroke="#a2a5c2" stroke-width="1.4"/><path d="M1121.1,971.7 L1129.9,967.3 L1142.1,963.1 L1157.3,965.8 L1162.2,971.5 L1160.9,977.0 L1150.9,981.4 L1134.5,982.3 L1122.4,977.8 Z" fill="#babdd4" stroke="#9da0c0" stroke-width="1.6" stroke-linejoin="round"/><path d="M1171.0,980.0 L1178.4,974.7 L1187.8,971.2 L1194.3,978.7 L1196.2,986.9 L1196.2,992.9 L1194.3,1002.2 L1184.7,1003.6 L1175.4,1003.2 L1171.8,994.9 L1171.0,986.0 Z" fill="url(#fside)" stroke="#a2a5c2" stroke-width="1.4"/><path d="M1171.0,980.0 L1178.4,974.7 L1187.8,971.2 L1194.3,978.7 L1196.2,986.9 L1194.3,996.2 L1184.7,997.6 L1175.4,997.2 L1171.8,988.9 Z" fill="#babdd4" stroke="#9da0c0" stroke-width="1.6" stroke-linejoin="round"/><path d="M1040.2,1003.9 L1042.3,996.6 L1049.5,991.0 L1058.9,991.7 L1065.2,996.0 L1067.2,1002.6 L1067.2,1008.6 L1062.0,1014.8 L1053.5,1017.9 L1043.3,1017.3 L1040.2,1009.9 Z" fill="url(#fside)" stroke="#a2a5c2" stroke-width="1.4"/><path d="M1040.2,1003.9 L1042.3,996.6 L1049.5,991.0 L1058.9,991.7 L1065.2,996.0 L1067.2,1002.6 L1062.0,1008.8 L1053.5,1011.9 L1043.3,1011.3 Z" fill="#babdd4" stroke="#9da0c0" stroke-width="1.6" stroke-linejoin="round"/><path d="M1079.4,997.5 L1085.4,989.5 L1097.2,986.8 L1108.7,985.4 L1113.8,991.2 L1116.3,998.0 L1116.3,1004.0 L1109.0,1011.6 L1096.3,1011.2 L1084.2,1010.8 L1079.4,1003.5 Z" fill="url(#fside)" stroke="#a2a5c2" stroke-width="1.4"/><path d="M1079.4,997.5 L1085.4,989.5 L1097.2,986.8 L1108.7,985.4 L1113.8,991.2 L1116.3,998.0 L1109.0,1005.6 L1096.3,1005.2 L1084.2,1004.8 Z" fill="#babdd4" stroke="#9da0c0" stroke-width="1.6" stroke-linejoin="round"/><path d="M1111.3,998.7 L1113.6,991.6 L1121.1,985.9 L1131.8,985.0 L1142.5,986.5 L1143.0,993.6 L1143.0,999.6 L1139.2,1006.4 L1128.9,1010.9 L1116.1,1011.5 L1111.3,1004.7 Z" fill="url(#fside)" stroke="#a2a5c2" stroke-width="1.4"/><path d="M1111.3,998.7 L1113.6,991.6 L1121.1,985.9 L1131.8,985.0 L1142.5,986.5 L1143.0,993.6 L1139.2,1000.4 L1128.9,1004.9 L1116.1,1005.5 Z" fill="#babdd4" stroke="#9da0c0" stroke-width="1.6" stroke-linejoin="round"/><path d="M1088.7,1002.3 L1097.8,999.2 L1110.4,999.9 L1119.1,1004.1 L1119.3,1008.8 L1119.3,1014.8 L1115.3,1018.5 L1105.8,1020.0 L1094.8,1018.1 L1090.1,1013.4 L1088.7,1008.3 Z" fill="url(#fside)" stroke="#a2a5c2" stroke-width="1.4"/><path d="M1088.7,1002.3 L1097.8,999.2 L1110.4,999.9 L1119.1,1004.1 L1119.3,1008.8 L1115.3,1012.5 L1105.8,1014.0 L1094.8,1012.1 L1090.1,1007.4 Z" fill="#babdd4" stroke="#9da0c0" stroke-width="1.6" stroke-linejoin="round"/><path d="M1143.0,1001.4 L1145.1,993.7 L1153.9,990.7 L1162.1,991.4 L1171.1,994.5 L1171.1,1000.5 L1168.8,1008.0 L1165.9,1014.8 L1156.9,1015.4 L1147.1,1014.9 L1143.0,1007.4 Z" fill="url(#fside)" stroke="#a2a5c2" stroke-width="1.4"/><path d="M1143.0,1001.4 L1145.1,993.7 L1153.9,990.7 L1162.1,991.4 L1171.1,994.5 L1168.8,1002.0 L1165.9,1008.8 L1156.9,1009.4 L1147.1,1008.9 Z" fill="#babdd4" stroke="#9da0c0" stroke-width="1.6" stroke-linejoin="round"/><path d="M1058.9,1026.9 L1060.6,1019.4 L1068.1,1012.6 L1080.6,1011.0 L1090.6,1014.7 L1092.7,1022.2 L1092.7,1028.2 L1088.5,1036.4 L1076.2,1039.3 L1065.4,1038.1 L1058.9,1032.9 Z" fill="url(#fside)" stroke="#a2a5c2" stroke-width="1.4"/><path d="M1058.9,1026.9 L1060.6,1019.4 L1068.1,1012.6 L1080.6,1011.0 L1090.6,1014.7 L1092.7,1022.2 L1088.5,1030.4 L1076.2,1033.3 L1065.4,1032.1 Z" fill="#babdd4" stroke="#9da0c0" stroke-width="1.6" stroke-linejoin="round"/><path d="M1094.6,1026.9 L1095.5,1021.3 L1100.7,1017.2 L1108.9,1015.0 L1115.6,1018.9 L1118.3,1024.0 L1118.3,1030.0 L1116.9,1035.9 L1108.9,1039.5 L1100.3,1037.2 L1094.6,1032.9 Z" fill="url(#fside)" stroke="#a2a5c2" stroke-width="1.4"/><path d="M1094.6,1026.9 L1095.5,1021.3 L1100.7,1017.2 L1108.9,1015.0 L1115.6,1018.9 L1118.3,1024.0 L1116.9,1029.9 L1108.9,1033.5 L1100.3,1031.2 Z" fill="#babdd4" stroke="#9da0c0" stroke-width="1.6" stroke-linejoin="round"/><path d="M1114.5,1030.4 L1117.0,1024.9 L1125.3,1021.4 L1136.5,1023.0 L1144.4,1026.7 L1150.8,1032.1 L1150.8,1038.1 L1143.5,1042.5 L1132.7,1043.7 L1121.3,1041.9 L1114.5,1036.4 Z" fill="url(#fside)" stroke="#a2a5c2" stroke-width="1.4"/><path d="M1114.5,1030.4 L1117.0,1024.9 L1125.3,1021.4 L1136.5,1023.0 L1144.4,1026.7 L1150.8,1032.1 L1143.5,1036.5 L1132.7,1037.7 L1121.3,1035.9 Z" fill="#babdd4" stroke="#9da0c0" stroke-width="1.6" stroke-linejoin="round"/><path d="M1164.8,1015.3 L1168.6,1007.5 L1179.4,1004.2 L1190.8,1002.8 L1197.3,1008.9 L1198.6,1016.9 L1198.6,1022.9 L1188.8,1028.3 L1178.8,1029.8 L1169.2,1027.9 L1164.8,1021.3 Z" fill="url(#fside)" stroke="#a2a5c2" stroke-width="1.4"/><path d="M1164.8,1015.3 L1168.6,1007.5 L1179.4,1004.2 L1190.8,1002.8 L1197.3,1008.9 L1198.6,1016.9 L1188.8,1022.3 L1178.8,1023.8 L1169.2,1021.9 Z" fill="#babdd4" stroke="#9da0c0" stroke-width="1.6" stroke-linejoin="round"/><path d="M1145.4,1041.5 L1150.6,1036.2 L1158.6,1031.4 L1171.2,1030.9 L1178.4,1035.3 L1181.1,1041.0 L1181.1,1047.0 L1173.4,1052.5 L1161.1,1054.7 L1149.5,1053.0 L1145.4,1047.5 Z" fill="url(#fside)" stroke="#a2a5c2" stroke-width="1.4"/><path d="M1145.4,1041.5 L1150.6,1036.2 L1158.6,1031.4 L1171.2,1030.9 L1178.4,1035.3 L1181.1,1041.0 L1173.4,1046.5 L1161.1,1048.7 L1149.5,1047.0 Z" fill="#babdd4" stroke="#9da0c0" stroke-width="1.6" stroke-linejoin="round"/><path d="M1048.9,1041.9 L1053.3,1036.4 L1064.4,1034.3 L1076.1,1035.9 L1080.6,1041.6 L1081.3,1048.0 L1081.3,1054.0 L1071.5,1058.4 L1058.7,1058.1 L1052.5,1053.0 L1048.9,1047.9 Z" fill="url(#fside)" stroke="#a2a5c2" stroke-width="1.4"/><path d="M1048.9,1041.9 L1053.3,1036.4 L1064.4,1034.3 L1076.1,1035.9 L1080.6,1041.6 L1081.3,1048.0 L1071.5,1052.4 L1058.7,1052.1 L1052.5,1047.0 Z" fill="#babdd4" stroke="#9da0c0" stroke-width="1.6" stroke-linejoin="round"/><path d="M1071.7,1045.7 L1079.2,1039.0 L1088.2,1032.7 L1099.4,1035.1 L1107.5,1040.5 L1107.5,1046.5 L1103.1,1054.5 L1097.3,1062.5 L1084.8,1062.8 L1074.5,1059.6 L1071.7,1051.7 Z" fill="url(#fside)" stroke="#a2a5c2" stroke-width="1.4"/><path d="M1071.7,1045.7 L1079.2,1039.0 L1088.2,1032.7 L1099.4,1035.1 L1107.5,1040.5 L1103.1,1048.5 L1097.3,1056.5 L1084.8,1056.8 L1074.5,1053.6 Z" fill="#babdd4" stroke="#9da0c0" stroke-width="1.6" stroke-linejoin="round"/><path d="M1106.5,1046.3 L1109.2,1041.5 L1119.1,1039.1 L1132.0,1039.5 L1144.9,1042.1 L1148.1,1046.7 L1148.1,1052.7 L1145.5,1057.0 L1132.7,1057.9 L1118.1,1056.8 L1106.5,1052.3 Z" fill="url(#fside)" stroke="#a2a5c2" stroke-width="1.4"/><path d="M1106.5,1046.3 L1109.2,1041.5 L1119.1,1039.1 L1132.0,1039.5 L1144.9,1042.1 L1148.1,1046.7 L1145.5,1051.0 L1132.7,1051.9 L1118.1,1050.8 Z" fill="#babdd4" stroke="#9da0c0" stroke-width="1.6" stroke-linejoin="round"/><path d="M1061.9,1066.2 L1062.5,1061.8 L1064.3,1057.5 L1070.7,1057.0 L1076.0,1058.7 L1081.0,1062.0 L1081.0,1068.0 L1078.4,1072.6 L1073.6,1076.1 L1066.8,1075.2 L1061.9,1072.2 Z" fill="url(#fside)" stroke="#a2a5c2" stroke-width="1.4"/><path d="M1061.9,1066.2 L1062.5,1061.8 L1064.3,1057.5 L1070.7,1057.0 L1076.0,1058.7 L1081.0,1062.0 L1078.4,1066.6 L1073.6,1070.1 L1066.8,1069.2 Z" fill="#babdd4" stroke="#9da0c0" stroke-width="1.6" stroke-linejoin="round"/><path d="M1096.9,1063.2 L1105.2,1056.0 L1117.2,1054.4 L1127.8,1056.2 L1132.0,1062.8 L1132.0,1068.8 L1127.8,1076.0 L1118.6,1081.4 L1106.4,1082.3 L1097.3,1077.5 L1096.9,1069.2 Z" fill="url(#fside)" stroke="#a2a5c2" stroke-width="1.4"/><path d="M1096.9,1063.2 L1105.2,1056.0 L1117.2,1054.4 L1127.8,1056.2 L1132.0,1062.8 L1127.8,1070.0 L1118.6,1075.4 L1106.4,1076.3 L1097.3,1071.5 Z" fill="#babdd4" stroke="#9da0c0" stroke-width="1.6" stroke-linejoin="round"/><path d="M1149.7,1065.5 L1151.0,1060.0 L1160.1,1056.3 L1170.2,1056.9 L1180.6,1058.7 L1180.8,1064.6 L1180.8,1070.6 L1175.1,1076.2 L1163.5,1078.5 L1152.6,1076.8 L1149.7,1071.5 Z" fill="url(#fside)" stroke="#a2a5c2" stroke-width="1.4"/><path d="M1149.7,1065.5 L1151.0,1060.0 L1160.1,1056.3 L1170.2,1056.9 L1180.6,1058.7 L1180.8,1064.6 L1175.1,1070.2 L1163.5,1072.5 L1152.6,1070.8 Z" fill="#babdd4" stroke="#9da0c0" stroke-width="1.6" stroke-linejoin="round"/>
</svg></body></html>
